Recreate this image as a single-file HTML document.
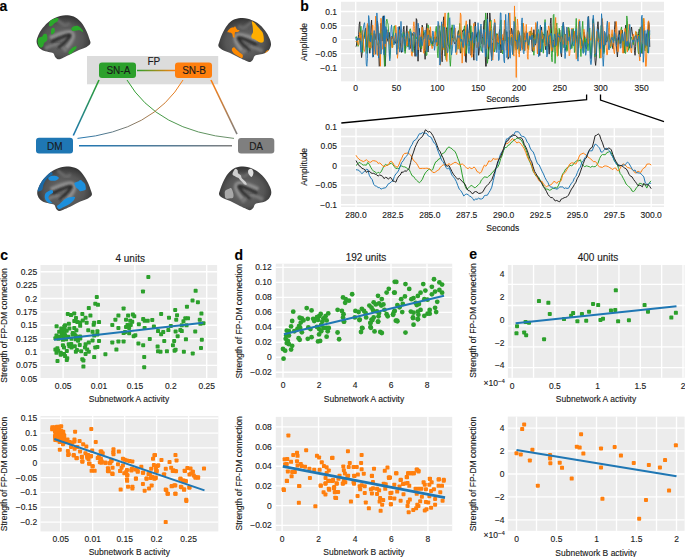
<!DOCTYPE html>
<html><head><meta charset="utf-8"><style>
html,body{margin:0;padding:0;background:#fff;width:685px;height:557px;overflow:hidden}
svg{display:block}
text{font-family:"Liberation Sans", sans-serif;stroke:currentColor;stroke-width:0.12px}
</style></head><body>
<svg width="685" height="557" viewBox="0 0 685 557">
<text x="-0.50" y="10.80" font-size="14" text-anchor="start" font-weight="bold" fill="#000" style="color:#000">a</text>
<defs><linearGradient id="gAD" gradientUnits="userSpaceOnUse" x1="99" y1="80" x2="73" y2="136"><stop offset="0" stop-color="#2ca02c"/><stop offset="1" stop-color="#1f77b4"/></linearGradient><linearGradient id="gBD" gradientUnits="userSpaceOnUse" x1="183" y1="80" x2="77" y2="138"><stop offset="0" stop-color="#ff7f0e"/><stop offset="1" stop-color="#1f77b4"/></linearGradient><linearGradient id="gAA" gradientUnits="userSpaceOnUse" x1="127" y1="80" x2="234" y2="138"><stop offset="0" stop-color="#2ca02c"/><stop offset="1" stop-color="#6f8f6f"/></linearGradient><linearGradient id="gBA" gradientUnits="userSpaceOnUse" x1="211" y1="80" x2="237" y2="134"><stop offset="0" stop-color="#ff7f0e"/><stop offset="1" stop-color="#7f7f7f"/></linearGradient><linearGradient id="gAB" gradientUnits="userSpaceOnUse" x1="137" y1="0" x2="175" y2="0"><stop offset="0" stop-color="#2ca02c"/><stop offset="1" stop-color="#ff7f0e"/></linearGradient><linearGradient id="gDD" gradientUnits="userSpaceOnUse" x1="79" y1="0" x2="232" y2="0"><stop offset="0" stop-color="#1f77b4"/><stop offset="1" stop-color="#7f7f7f"/></linearGradient><radialGradient id="brainG" cx="0.5" cy="0.55" r="0.6"><stop offset="0" stop-color="#6e6e6e"/><stop offset="0.6" stop-color="#555"/><stop offset="1" stop-color="#2a2a2a"/></radialGradient><filter id="bl1" x="-20%" y="-20%" width="140%" height="140%"><feGaussianBlur stdDeviation="0.5"/></filter><filter id="bl2" x="-20%" y="-20%" width="140%" height="140%"><feGaussianBlur stdDeviation="1.2"/></filter><filter id="bl3" x="-20%" y="-20%" width="140%" height="140%"><feGaussianBlur stdDeviation="0.9"/></filter></defs>
<rect x="87" y="56" width="131.2" height="28.3" fill="#dcdcdc"/>
<text x="153.90" y="65.18" font-size="10" text-anchor="middle" font-weight="normal" fill="#1a1a1a" style="color:#1a1a1a">FP</text>
<line x1="137" y1="70.5" x2="175" y2="70.5" stroke="url(#gAB)" stroke-width="1.5"/>
<line x1="99" y1="80" x2="73.3" y2="135.5" stroke="url(#gAD)" stroke-width="1.6"/>
<line x1="211" y1="80" x2="237" y2="134.2" stroke="url(#gBA)" stroke-width="1.6"/>
<path d="M127,80 Q157,131 234,138.4" fill="none" stroke="url(#gAA)" stroke-width="1"/>
<path d="M183,80 Q153,131 77.5,138.4" fill="none" stroke="url(#gBD)" stroke-width="1"/>
<line x1="79" y1="145.7" x2="232" y2="145.7" stroke="url(#gDD)" stroke-width="1.6"/>
<rect x="99" y="62.6" width="37" height="15.4" rx="3" fill="#2ca02c"/>
<rect x="175" y="62.6" width="37" height="15.4" rx="3" fill="#ff7f0e"/>
<rect x="36" y="137.8" width="37" height="15.8" rx="3" fill="#1f77b4"/>
<rect x="238" y="138" width="36.3" height="15.4" rx="3" fill="#7f7f7f"/>
<text x="118.40" y="74.18" font-size="10" text-anchor="middle" font-weight="normal" fill="#1a1a1a" style="color:#1a1a1a">SN-A</text>
<text x="194.10" y="74.18" font-size="10" text-anchor="middle" font-weight="normal" fill="#1a1a1a" style="color:#1a1a1a">SN-B</text>
<text x="54.70" y="149.58" font-size="10" text-anchor="middle" font-weight="normal" fill="#1a1a1a" style="color:#1a1a1a">DM</text>
<text x="256.10" y="149.58" font-size="10" text-anchor="middle" font-weight="normal" fill="#1a1a1a" style="color:#1a1a1a">DA</text>
<clipPath id="cg"><path d="M0.00,26.40 C0.07,28.32 1.02,30.28 2.00,31.70 C2.98,33.12 4.27,34.08 5.90,34.90 C7.53,35.72 10.00,36.10 11.80,36.60 C13.60,37.10 15.55,37.02 16.70,37.90 C17.85,38.78 17.78,40.88 18.70,41.90 C19.62,42.92 20.80,43.97 22.20,44.00 C23.60,44.03 25.08,42.98 27.10,42.10 C29.12,41.22 31.75,39.93 34.30,38.70 C36.85,37.47 39.78,35.87 42.40,34.70 C45.02,33.53 48.12,32.77 50.00,31.70 C51.88,30.63 53.20,29.55 53.70,28.30 C54.20,27.05 53.65,26.30 53.00,24.20 C52.35,22.10 51.18,18.52 49.80,15.70 C48.42,12.88 46.52,9.57 44.70,7.30 C42.88,5.03 41.15,3.32 38.90,2.10 C36.65,0.88 33.75,0.23 31.20,0.00 C28.65,-0.23 26.50,-0.15 23.60,0.70 C20.70,1.55 16.73,3.10 13.80,5.10 C10.87,7.10 8.03,10.18 6.00,12.70 C3.97,15.22 2.60,17.92 1.60,20.20 C0.60,22.48 -0.07,24.48 0.00,26.40Z" transform="translate(36.6,15.3) scale(1,1)"/></clipPath>
<g transform="translate(36.6,15.3) scale(1,1)">
<path d="M0.00,26.40 C0.07,28.32 1.02,30.28 2.00,31.70 C2.98,33.12 4.27,34.08 5.90,34.90 C7.53,35.72 10.00,36.10 11.80,36.60 C13.60,37.10 15.55,37.02 16.70,37.90 C17.85,38.78 17.78,40.88 18.70,41.90 C19.62,42.92 20.80,43.97 22.20,44.00 C23.60,44.03 25.08,42.98 27.10,42.10 C29.12,41.22 31.75,39.93 34.30,38.70 C36.85,37.47 39.78,35.87 42.40,34.70 C45.02,33.53 48.12,32.77 50.00,31.70 C51.88,30.63 53.20,29.55 53.70,28.30 C54.20,27.05 53.65,26.30 53.00,24.20 C52.35,22.10 51.18,18.52 49.80,15.70 C48.42,12.88 46.52,9.57 44.70,7.30 C42.88,5.03 41.15,3.32 38.90,2.10 C36.65,0.88 33.75,0.23 31.20,0.00 C28.65,-0.23 26.50,-0.15 23.60,0.70 C20.70,1.55 16.73,3.10 13.80,5.10 C10.87,7.10 8.03,10.18 6.00,12.70 C3.97,15.22 2.60,17.92 1.60,20.20 C0.60,22.48 -0.07,24.48 0.00,26.40Z" fill="url(#brainG)"/>
<g clip-path="url(#cig)">
<clipPath id="cig"><path d="M0.00,26.40 C0.07,28.32 1.02,30.28 2.00,31.70 C2.98,33.12 4.27,34.08 5.90,34.90 C7.53,35.72 10.00,36.10 11.80,36.60 C13.60,37.10 15.55,37.02 16.70,37.90 C17.85,38.78 17.78,40.88 18.70,41.90 C19.62,42.92 20.80,43.97 22.20,44.00 C23.60,44.03 25.08,42.98 27.10,42.10 C29.12,41.22 31.75,39.93 34.30,38.70 C36.85,37.47 39.78,35.87 42.40,34.70 C45.02,33.53 48.12,32.77 50.00,31.70 C51.88,30.63 53.20,29.55 53.70,28.30 C54.20,27.05 53.65,26.30 53.00,24.20 C52.35,22.10 51.18,18.52 49.80,15.70 C48.42,12.88 46.52,9.57 44.70,7.30 C42.88,5.03 41.15,3.32 38.90,2.10 C36.65,0.88 33.75,0.23 31.20,0.00 C28.65,-0.23 26.50,-0.15 23.60,0.70 C20.70,1.55 16.73,3.10 13.80,5.10 C10.87,7.10 8.03,10.18 6.00,12.70 C3.97,15.22 2.60,17.92 1.60,20.20 C0.60,22.48 -0.07,24.48 0.00,26.40Z"/></clipPath>
<path d="M13.40,22.70 C15.07,22.03 20.07,19.70 23.40,18.70 C26.73,17.70 31.23,16.37 33.40,16.70 C35.57,17.03 36.40,18.87 36.40,20.70 C36.40,22.53 34.57,25.70 33.40,27.70 C32.23,29.70 30.07,31.87 29.40,32.70" fill="none" stroke="#8e8e8e" stroke-width="4" filter="url(#bl2)"/>
<path d="M8.40,33.20 C10.07,32.53 15.57,29.53 18.40,29.20 C21.23,28.87 23.47,30.07 25.40,31.20 C27.33,32.33 29.23,35.20 30.00,36.00" fill="none" stroke="#7a7a7a" stroke-width="3.5" filter="url(#bl2)"/>
<path d="M14.40,26.70 C15.90,26.03 20.57,23.87 23.40,22.70 C26.23,21.53 29.73,20.03 31.40,19.70 C33.07,19.37 34.07,19.37 33.40,20.70 C32.73,22.03 29.40,25.70 27.40,27.70 C25.40,29.70 22.40,31.87 21.40,32.70" fill="none" stroke="#2a2a2a" stroke-width="2.6" filter="url(#bl3)"/>
<path d="M20.00,4.00 C21.33,5.00 25.83,9.33 28.00,10.00 C30.17,10.67 32.17,8.33 33.00,8.00" fill="none" stroke="#6a6a6a" stroke-width="3" filter="url(#bl2)"/>
</g></g>
<g clip-path="url(#cg)">
<path d="M50.40,20.20 C51.25,19.28 52.72,19.13 54.00,18.80 C55.28,18.47 57.50,17.80 58.10,18.20 C58.70,18.60 58.20,20.35 57.60,21.20 C57.00,22.05 55.43,22.53 54.50,23.30 C53.57,24.07 52.85,25.30 52.00,25.80 C51.15,26.30 49.92,26.55 49.40,26.30 C48.88,26.05 48.73,25.32 48.90,24.30 C49.07,23.28 49.55,21.12 50.40,20.20Z" fill="#2aa82a" filter="url(#bl1)"/>
<path d="M51.50,28.90 C52.00,28.05 53.42,27.65 54.00,27.90 C54.58,28.15 55.00,29.55 55.00,30.40 C55.00,31.25 54.50,32.32 54.00,33.00 C53.50,33.68 52.50,34.50 52.00,34.50 C51.50,34.50 51.08,33.93 51.00,33.00 C50.92,32.07 51.00,29.75 51.50,28.90Z" fill="#2aa82a" filter="url(#bl1)"/>
<path d="M43.30,34.50 C43.97,34.07 45.62,33.48 46.30,34.00 C46.98,34.52 47.30,36.48 47.40,37.60 C47.50,38.72 47.42,39.85 46.90,40.70 C46.38,41.55 44.90,41.85 44.30,42.70 C43.70,43.55 43.82,44.95 43.30,45.80 C42.78,46.65 41.97,47.80 41.20,47.80 C40.43,47.80 39.28,46.98 38.70,45.80 C38.12,44.62 37.62,42.07 37.70,40.70 C37.78,39.33 38.43,38.28 39.20,37.60 C39.97,36.92 41.62,37.12 42.30,36.60 C42.98,36.08 42.63,34.93 43.30,34.50Z" fill="#2aa82a" filter="url(#bl1)"/>
<path d="M71.40,28.40 C71.73,27.72 72.88,26.73 73.90,26.30 C74.92,25.87 76.47,25.62 77.50,25.80 C78.53,25.98 79.33,26.80 80.10,27.40 C80.87,28.00 81.60,28.63 82.10,29.40 C82.60,30.17 83.43,31.83 83.10,32.00 C82.77,32.17 81.12,30.67 80.10,30.40 C79.08,30.13 78.03,30.32 77.00,30.40 C75.97,30.48 74.75,30.90 73.90,30.90 C73.05,30.90 72.32,30.82 71.90,30.40 C71.48,29.98 71.07,29.08 71.40,28.40Z" fill="#2aa82a" filter="url(#bl1)"/>
<path d="M68.30,52.90 C68.38,52.03 69.97,50.32 70.90,49.30 C71.83,48.28 72.97,47.30 73.90,46.80 C74.83,46.30 76.15,45.97 76.50,46.30 C76.85,46.63 76.60,47.87 76.00,48.80 C75.40,49.73 73.83,50.95 72.90,51.90 C71.97,52.85 71.17,54.33 70.40,54.50 C69.63,54.67 68.22,53.77 68.30,52.90Z" fill="#2aa82a" filter="url(#bl1)"/>
</g>
<clipPath id="co"><path d="M0.00,26.40 C0.07,28.32 1.02,30.28 2.00,31.70 C2.98,33.12 4.27,34.08 5.90,34.90 C7.53,35.72 10.00,36.10 11.80,36.60 C13.60,37.10 15.55,37.02 16.70,37.90 C17.85,38.78 17.78,40.88 18.70,41.90 C19.62,42.92 20.80,43.97 22.20,44.00 C23.60,44.03 25.08,42.98 27.10,42.10 C29.12,41.22 31.75,39.93 34.30,38.70 C36.85,37.47 39.78,35.87 42.40,34.70 C45.02,33.53 48.12,32.77 50.00,31.70 C51.88,30.63 53.20,29.55 53.70,28.30 C54.20,27.05 53.65,26.30 53.00,24.20 C52.35,22.10 51.18,18.52 49.80,15.70 C48.42,12.88 46.52,9.57 44.70,7.30 C42.88,5.03 41.15,3.32 38.90,2.10 C36.65,0.88 33.75,0.23 31.20,0.00 C28.65,-0.23 26.50,-0.15 23.60,0.70 C20.70,1.55 16.73,3.10 13.80,5.10 C10.87,7.10 8.03,10.18 6.00,12.70 C3.97,15.22 2.60,17.92 1.60,20.20 C0.60,22.48 -0.07,24.48 0.00,26.40Z" transform="translate(218.5,18.0) scale(-0.9776536312849161,1.0) translate(-53.7,0)"/></clipPath>
<g transform="translate(218.5,18.0) scale(-0.9776536312849161,1.0) translate(-53.7,0)">
<path d="M0.00,26.40 C0.07,28.32 1.02,30.28 2.00,31.70 C2.98,33.12 4.27,34.08 5.90,34.90 C7.53,35.72 10.00,36.10 11.80,36.60 C13.60,37.10 15.55,37.02 16.70,37.90 C17.85,38.78 17.78,40.88 18.70,41.90 C19.62,42.92 20.80,43.97 22.20,44.00 C23.60,44.03 25.08,42.98 27.10,42.10 C29.12,41.22 31.75,39.93 34.30,38.70 C36.85,37.47 39.78,35.87 42.40,34.70 C45.02,33.53 48.12,32.77 50.00,31.70 C51.88,30.63 53.20,29.55 53.70,28.30 C54.20,27.05 53.65,26.30 53.00,24.20 C52.35,22.10 51.18,18.52 49.80,15.70 C48.42,12.88 46.52,9.57 44.70,7.30 C42.88,5.03 41.15,3.32 38.90,2.10 C36.65,0.88 33.75,0.23 31.20,0.00 C28.65,-0.23 26.50,-0.15 23.60,0.70 C20.70,1.55 16.73,3.10 13.80,5.10 C10.87,7.10 8.03,10.18 6.00,12.70 C3.97,15.22 2.60,17.92 1.60,20.20 C0.60,22.48 -0.07,24.48 0.00,26.40Z" fill="url(#brainG)"/>
<g clip-path="url(#cio)">
<clipPath id="cio"><path d="M0.00,26.40 C0.07,28.32 1.02,30.28 2.00,31.70 C2.98,33.12 4.27,34.08 5.90,34.90 C7.53,35.72 10.00,36.10 11.80,36.60 C13.60,37.10 15.55,37.02 16.70,37.90 C17.85,38.78 17.78,40.88 18.70,41.90 C19.62,42.92 20.80,43.97 22.20,44.00 C23.60,44.03 25.08,42.98 27.10,42.10 C29.12,41.22 31.75,39.93 34.30,38.70 C36.85,37.47 39.78,35.87 42.40,34.70 C45.02,33.53 48.12,32.77 50.00,31.70 C51.88,30.63 53.20,29.55 53.70,28.30 C54.20,27.05 53.65,26.30 53.00,24.20 C52.35,22.10 51.18,18.52 49.80,15.70 C48.42,12.88 46.52,9.57 44.70,7.30 C42.88,5.03 41.15,3.32 38.90,2.10 C36.65,0.88 33.75,0.23 31.20,0.00 C28.65,-0.23 26.50,-0.15 23.60,0.70 C20.70,1.55 16.73,3.10 13.80,5.10 C10.87,7.10 8.03,10.18 6.00,12.70 C3.97,15.22 2.60,17.92 1.60,20.20 C0.60,22.48 -0.07,24.48 0.00,26.40Z"/></clipPath>
<path d="M13.40,22.70 C15.07,22.03 20.07,19.70 23.40,18.70 C26.73,17.70 31.23,16.37 33.40,16.70 C35.57,17.03 36.40,18.87 36.40,20.70 C36.40,22.53 34.57,25.70 33.40,27.70 C32.23,29.70 30.07,31.87 29.40,32.70" fill="none" stroke="#8e8e8e" stroke-width="4" filter="url(#bl2)"/>
<path d="M8.40,33.20 C10.07,32.53 15.57,29.53 18.40,29.20 C21.23,28.87 23.47,30.07 25.40,31.20 C27.33,32.33 29.23,35.20 30.00,36.00" fill="none" stroke="#7a7a7a" stroke-width="3.5" filter="url(#bl2)"/>
<path d="M14.40,26.70 C15.90,26.03 20.57,23.87 23.40,22.70 C26.23,21.53 29.73,20.03 31.40,19.70 C33.07,19.37 34.07,19.37 33.40,20.70 C32.73,22.03 29.40,25.70 27.40,27.70 C25.40,29.70 22.40,31.87 21.40,32.70" fill="none" stroke="#2a2a2a" stroke-width="2.6" filter="url(#bl3)"/>
<path d="M20.00,4.00 C21.33,5.00 25.83,9.33 28.00,10.00 C30.17,10.67 32.17,8.33 33.00,8.00" fill="none" stroke="#6a6a6a" stroke-width="3" filter="url(#bl2)"/>
</g></g>
<g clip-path="url(#co)">
<path d="M251.90,21.20 C252.33,20.85 254.23,22.52 255.00,23.20 C255.77,23.88 255.65,24.27 256.50,25.30 C257.35,26.33 259.08,28.22 260.10,29.40 C261.12,30.58 262.02,31.22 262.60,32.40 C263.18,33.58 263.43,34.97 263.60,36.50 C263.77,38.03 264.02,40.57 263.60,41.60 C263.18,42.63 262.03,42.70 261.10,42.70 C260.17,42.70 259.02,42.12 258.00,41.60 C256.98,41.08 256.02,40.18 255.00,39.60 C253.98,39.02 252.50,38.78 251.90,38.10 C251.30,37.42 251.23,36.45 251.40,35.50 C251.57,34.55 252.65,33.50 252.90,32.40 C253.15,31.30 252.98,30.08 252.90,28.90 C252.82,27.72 252.57,26.58 252.40,25.30 C252.23,24.02 251.47,21.55 251.90,21.20Z" fill="#ffae00" filter="url(#bl1)"/>
<path d="M227.40,31.90 C227.57,31.22 229.30,29.07 230.40,28.30 C231.50,27.53 233.23,27.63 234.00,27.30 C234.77,26.97 234.48,25.95 235.00,26.30 C235.52,26.65 236.33,28.72 237.10,29.40 C237.87,30.08 239.52,29.98 239.60,30.40 C239.68,30.82 238.37,31.57 237.60,31.90 C236.83,32.23 235.52,31.47 235.00,32.40 C234.48,33.33 234.83,36.73 234.50,37.50 C234.17,38.27 233.42,37.67 233.00,37.00 C232.58,36.33 232.60,34.27 232.00,33.50 C231.40,32.73 230.17,32.67 229.40,32.40 C228.63,32.13 227.23,32.58 227.40,31.90Z" fill="#ff8a00" filter="url(#bl1)"/>
<path d="M232.00,48.80 C232.33,48.22 233.23,47.13 234.00,47.30 C234.77,47.47 235.67,48.95 236.60,49.80 C237.53,50.65 238.58,51.55 239.60,52.40 C240.62,53.25 242.27,53.97 242.70,54.90 C243.13,55.83 242.72,57.65 242.20,58.00 C241.68,58.35 240.62,57.52 239.60,57.00 C238.58,56.48 237.12,55.58 236.10,54.90 C235.08,54.22 234.18,53.58 233.50,52.90 C232.82,52.22 232.25,51.48 232.00,50.80 C231.75,50.12 231.67,49.38 232.00,48.80Z" fill="#ff8a00" filter="url(#bl1)"/>
<path d="M265.00,53.00 C265.00,52.33 267.25,50.33 268.00,50.00 C268.75,49.67 269.50,50.33 269.50,51.00 C269.50,51.67 268.75,53.67 268.00,54.00 C267.25,54.33 265.00,53.67 265.00,53.00Z" fill="#ff8a00" filter="url(#bl1)"/>
</g>
<clipPath id="cb"><path d="M0.00,26.40 C0.07,28.32 1.02,30.28 2.00,31.70 C2.98,33.12 4.27,34.08 5.90,34.90 C7.53,35.72 10.00,36.10 11.80,36.60 C13.60,37.10 15.55,37.02 16.70,37.90 C17.85,38.78 17.78,40.88 18.70,41.90 C19.62,42.92 20.80,43.97 22.20,44.00 C23.60,44.03 25.08,42.98 27.10,42.10 C29.12,41.22 31.75,39.93 34.30,38.70 C36.85,37.47 39.78,35.87 42.40,34.70 C45.02,33.53 48.12,32.77 50.00,31.70 C51.88,30.63 53.20,29.55 53.70,28.30 C54.20,27.05 53.65,26.30 53.00,24.20 C52.35,22.10 51.18,18.52 49.80,15.70 C48.42,12.88 46.52,9.57 44.70,7.30 C42.88,5.03 41.15,3.32 38.90,2.10 C36.65,0.88 33.75,0.23 31.20,0.00 C28.65,-0.23 26.50,-0.15 23.60,0.70 C20.70,1.55 16.73,3.10 13.80,5.10 C10.87,7.10 8.03,10.18 6.00,12.70 C3.97,15.22 2.60,17.92 1.60,20.20 C0.60,22.48 -0.07,24.48 0.00,26.40Z" transform="translate(37.2,166.5) scale(1.0167597765363128,1.0113636363636365)"/></clipPath>
<g transform="translate(37.2,166.5) scale(1.0167597765363128,1.0113636363636365)">
<path d="M0.00,26.40 C0.07,28.32 1.02,30.28 2.00,31.70 C2.98,33.12 4.27,34.08 5.90,34.90 C7.53,35.72 10.00,36.10 11.80,36.60 C13.60,37.10 15.55,37.02 16.70,37.90 C17.85,38.78 17.78,40.88 18.70,41.90 C19.62,42.92 20.80,43.97 22.20,44.00 C23.60,44.03 25.08,42.98 27.10,42.10 C29.12,41.22 31.75,39.93 34.30,38.70 C36.85,37.47 39.78,35.87 42.40,34.70 C45.02,33.53 48.12,32.77 50.00,31.70 C51.88,30.63 53.20,29.55 53.70,28.30 C54.20,27.05 53.65,26.30 53.00,24.20 C52.35,22.10 51.18,18.52 49.80,15.70 C48.42,12.88 46.52,9.57 44.70,7.30 C42.88,5.03 41.15,3.32 38.90,2.10 C36.65,0.88 33.75,0.23 31.20,0.00 C28.65,-0.23 26.50,-0.15 23.60,0.70 C20.70,1.55 16.73,3.10 13.80,5.10 C10.87,7.10 8.03,10.18 6.00,12.70 C3.97,15.22 2.60,17.92 1.60,20.20 C0.60,22.48 -0.07,24.48 0.00,26.40Z" fill="url(#brainG)"/>
<g clip-path="url(#cib)">
<clipPath id="cib"><path d="M0.00,26.40 C0.07,28.32 1.02,30.28 2.00,31.70 C2.98,33.12 4.27,34.08 5.90,34.90 C7.53,35.72 10.00,36.10 11.80,36.60 C13.60,37.10 15.55,37.02 16.70,37.90 C17.85,38.78 17.78,40.88 18.70,41.90 C19.62,42.92 20.80,43.97 22.20,44.00 C23.60,44.03 25.08,42.98 27.10,42.10 C29.12,41.22 31.75,39.93 34.30,38.70 C36.85,37.47 39.78,35.87 42.40,34.70 C45.02,33.53 48.12,32.77 50.00,31.70 C51.88,30.63 53.20,29.55 53.70,28.30 C54.20,27.05 53.65,26.30 53.00,24.20 C52.35,22.10 51.18,18.52 49.80,15.70 C48.42,12.88 46.52,9.57 44.70,7.30 C42.88,5.03 41.15,3.32 38.90,2.10 C36.65,0.88 33.75,0.23 31.20,0.00 C28.65,-0.23 26.50,-0.15 23.60,0.70 C20.70,1.55 16.73,3.10 13.80,5.10 C10.87,7.10 8.03,10.18 6.00,12.70 C3.97,15.22 2.60,17.92 1.60,20.20 C0.60,22.48 -0.07,24.48 0.00,26.40Z"/></clipPath>
<path d="M13.40,22.70 C15.07,22.03 20.07,19.70 23.40,18.70 C26.73,17.70 31.23,16.37 33.40,16.70 C35.57,17.03 36.40,18.87 36.40,20.70 C36.40,22.53 34.57,25.70 33.40,27.70 C32.23,29.70 30.07,31.87 29.40,32.70" fill="none" stroke="#8e8e8e" stroke-width="4" filter="url(#bl2)"/>
<path d="M8.40,33.20 C10.07,32.53 15.57,29.53 18.40,29.20 C21.23,28.87 23.47,30.07 25.40,31.20 C27.33,32.33 29.23,35.20 30.00,36.00" fill="none" stroke="#7a7a7a" stroke-width="3.5" filter="url(#bl2)"/>
<path d="M14.40,26.70 C15.90,26.03 20.57,23.87 23.40,22.70 C26.23,21.53 29.73,20.03 31.40,19.70 C33.07,19.37 34.07,19.37 33.40,20.70 C32.73,22.03 29.40,25.70 27.40,27.70 C25.40,29.70 22.40,31.87 21.40,32.70" fill="none" stroke="#2a2a2a" stroke-width="2.6" filter="url(#bl3)"/>
<path d="M20.00,4.00 C21.33,5.00 25.83,9.33 28.00,10.00 C30.17,10.67 32.17,8.33 33.00,8.00" fill="none" stroke="#6a6a6a" stroke-width="3" filter="url(#bl2)"/>
</g></g>
<g clip-path="url(#cb)">
<path d="M37.50,191.00 C37.00,189.83 38.17,185.25 39.00,183.00 C39.83,180.75 41.08,179.13 42.50,177.50 C43.92,175.87 46.00,174.07 47.50,173.20 C49.00,172.33 50.67,172.08 51.50,172.30 C52.33,172.52 53.00,173.72 52.50,174.50 C52.00,175.28 49.67,176.00 48.50,177.00 C47.33,178.00 46.33,179.25 45.50,180.50 C44.67,181.75 44.08,182.92 43.50,184.50 C42.92,186.08 43.00,188.92 42.00,190.00 C41.00,191.08 38.00,192.17 37.50,191.00Z" fill="#1a68a4" filter="url(#bl1)"/>
<path d="M48.50,177.50 C49.00,176.83 50.75,176.05 52.00,175.80 C53.25,175.55 54.87,175.67 56.00,176.00 C57.13,176.33 58.72,177.08 58.80,177.80 C58.88,178.52 57.63,179.80 56.50,180.30 C55.37,180.80 53.25,180.88 52.00,180.80 C50.75,180.72 49.58,180.35 49.00,179.80 C48.42,179.25 48.00,178.17 48.50,177.50Z" fill="#1e8fdc" filter="url(#bl1)"/>
<path d="M74.50,183.00 C75.00,182.33 76.98,182.02 78.00,181.50 C79.02,180.98 79.75,179.82 80.60,179.90 C81.45,179.98 82.33,181.23 83.10,182.00 C83.87,182.77 84.77,183.23 85.20,184.50 C85.63,185.77 86.05,188.57 85.70,189.60 C85.35,190.63 84.03,190.43 83.10,190.70 C82.17,190.97 80.95,191.47 80.10,191.20 C79.25,190.93 78.68,189.70 78.00,189.10 C77.32,188.50 76.50,188.20 76.00,187.60 C75.50,187.00 75.25,186.27 75.00,185.50 C74.75,184.73 74.00,183.67 74.50,183.00Z" fill="#1e8fdc" filter="url(#bl1)"/>
<path d="M45.30,193.70 C45.90,192.60 47.28,191.80 48.40,191.20 C49.52,190.60 51.23,189.85 52.00,190.10 C52.77,190.35 53.35,191.93 53.00,192.70 C52.65,193.47 50.67,193.85 49.90,194.70 C49.13,195.55 48.32,196.77 48.40,197.80 C48.48,198.83 49.72,200.05 50.40,200.90 C51.08,201.75 52.67,202.57 52.50,202.90 C52.33,203.23 50.42,203.23 49.40,202.90 C48.38,202.57 47.17,201.75 46.40,200.90 C45.63,200.05 44.98,199.00 44.80,197.80 C44.62,196.60 44.70,194.80 45.30,193.70Z" fill="#1e8fdc" filter="url(#bl1)"/>
<path d="M59.60,203.90 C60.53,203.05 61.58,201.83 62.70,200.90 C63.82,199.97 65.10,198.90 66.30,198.30 C67.50,197.70 68.80,197.55 69.90,197.30 C71.00,197.05 72.05,196.80 72.90,196.80 C73.75,196.80 74.83,196.78 75.00,197.30 C75.17,197.82 74.58,198.97 73.90,199.90 C73.22,200.83 71.92,202.05 70.90,202.90 C69.88,203.75 69.00,204.32 67.80,205.00 C66.60,205.68 65.07,206.33 63.70,207.00 C62.33,207.67 60.62,208.83 59.60,209.00 C58.58,209.17 58.02,208.50 57.60,208.00 C57.18,207.50 56.77,206.68 57.10,206.00 C57.43,205.32 58.67,204.75 59.60,203.90Z" fill="#1e8fdc" filter="url(#bl1)"/>
</g>
<clipPath id="cd"><path d="M0.00,26.40 C0.07,28.32 1.02,30.28 2.00,31.70 C2.98,33.12 4.27,34.08 5.90,34.90 C7.53,35.72 10.00,36.10 11.80,36.60 C13.60,37.10 15.55,37.02 16.70,37.90 C17.85,38.78 17.78,40.88 18.70,41.90 C19.62,42.92 20.80,43.97 22.20,44.00 C23.60,44.03 25.08,42.98 27.10,42.10 C29.12,41.22 31.75,39.93 34.30,38.70 C36.85,37.47 39.78,35.87 42.40,34.70 C45.02,33.53 48.12,32.77 50.00,31.70 C51.88,30.63 53.20,29.55 53.70,28.30 C54.20,27.05 53.65,26.30 53.00,24.20 C52.35,22.10 51.18,18.52 49.80,15.70 C48.42,12.88 46.52,9.57 44.70,7.30 C42.88,5.03 41.15,3.32 38.90,2.10 C36.65,0.88 33.75,0.23 31.20,0.00 C28.65,-0.23 26.50,-0.15 23.60,0.70 C20.70,1.55 16.73,3.10 13.80,5.10 C10.87,7.10 8.03,10.18 6.00,12.70 C3.97,15.22 2.60,17.92 1.60,20.20 C0.60,22.48 -0.07,24.48 0.00,26.40Z" transform="translate(219.2,166.6) scale(-0.9702048417132215,0.990909090909091) translate(-53.7,0)"/></clipPath>
<g transform="translate(219.2,166.6) scale(-0.9702048417132215,0.990909090909091) translate(-53.7,0)">
<path d="M0.00,26.40 C0.07,28.32 1.02,30.28 2.00,31.70 C2.98,33.12 4.27,34.08 5.90,34.90 C7.53,35.72 10.00,36.10 11.80,36.60 C13.60,37.10 15.55,37.02 16.70,37.90 C17.85,38.78 17.78,40.88 18.70,41.90 C19.62,42.92 20.80,43.97 22.20,44.00 C23.60,44.03 25.08,42.98 27.10,42.10 C29.12,41.22 31.75,39.93 34.30,38.70 C36.85,37.47 39.78,35.87 42.40,34.70 C45.02,33.53 48.12,32.77 50.00,31.70 C51.88,30.63 53.20,29.55 53.70,28.30 C54.20,27.05 53.65,26.30 53.00,24.20 C52.35,22.10 51.18,18.52 49.80,15.70 C48.42,12.88 46.52,9.57 44.70,7.30 C42.88,5.03 41.15,3.32 38.90,2.10 C36.65,0.88 33.75,0.23 31.20,0.00 C28.65,-0.23 26.50,-0.15 23.60,0.70 C20.70,1.55 16.73,3.10 13.80,5.10 C10.87,7.10 8.03,10.18 6.00,12.70 C3.97,15.22 2.60,17.92 1.60,20.20 C0.60,22.48 -0.07,24.48 0.00,26.40Z" fill="url(#brainG)"/>
<g clip-path="url(#cid)">
<clipPath id="cid"><path d="M0.00,26.40 C0.07,28.32 1.02,30.28 2.00,31.70 C2.98,33.12 4.27,34.08 5.90,34.90 C7.53,35.72 10.00,36.10 11.80,36.60 C13.60,37.10 15.55,37.02 16.70,37.90 C17.85,38.78 17.78,40.88 18.70,41.90 C19.62,42.92 20.80,43.97 22.20,44.00 C23.60,44.03 25.08,42.98 27.10,42.10 C29.12,41.22 31.75,39.93 34.30,38.70 C36.85,37.47 39.78,35.87 42.40,34.70 C45.02,33.53 48.12,32.77 50.00,31.70 C51.88,30.63 53.20,29.55 53.70,28.30 C54.20,27.05 53.65,26.30 53.00,24.20 C52.35,22.10 51.18,18.52 49.80,15.70 C48.42,12.88 46.52,9.57 44.70,7.30 C42.88,5.03 41.15,3.32 38.90,2.10 C36.65,0.88 33.75,0.23 31.20,0.00 C28.65,-0.23 26.50,-0.15 23.60,0.70 C20.70,1.55 16.73,3.10 13.80,5.10 C10.87,7.10 8.03,10.18 6.00,12.70 C3.97,15.22 2.60,17.92 1.60,20.20 C0.60,22.48 -0.07,24.48 0.00,26.40Z"/></clipPath>
<path d="M13.40,22.70 C15.07,22.03 20.07,19.70 23.40,18.70 C26.73,17.70 31.23,16.37 33.40,16.70 C35.57,17.03 36.40,18.87 36.40,20.70 C36.40,22.53 34.57,25.70 33.40,27.70 C32.23,29.70 30.07,31.87 29.40,32.70" fill="none" stroke="#8e8e8e" stroke-width="4" filter="url(#bl2)"/>
<path d="M8.40,33.20 C10.07,32.53 15.57,29.53 18.40,29.20 C21.23,28.87 23.47,30.07 25.40,31.20 C27.33,32.33 29.23,35.20 30.00,36.00" fill="none" stroke="#7a7a7a" stroke-width="3.5" filter="url(#bl2)"/>
<path d="M14.40,26.70 C15.90,26.03 20.57,23.87 23.40,22.70 C26.23,21.53 29.73,20.03 31.40,19.70 C33.07,19.37 34.07,19.37 33.40,20.70 C32.73,22.03 29.40,25.70 27.40,27.70 C25.40,29.70 22.40,31.87 21.40,32.70" fill="none" stroke="#2a2a2a" stroke-width="2.6" filter="url(#bl3)"/>
<path d="M20.00,4.00 C21.33,5.00 25.83,9.33 28.00,10.00 C30.17,10.67 32.17,8.33 33.00,8.00" fill="none" stroke="#6a6a6a" stroke-width="3" filter="url(#bl2)"/>
</g></g>
<g clip-path="url(#cd)">
<path d="M233.50,171.20 C234.00,170.27 234.82,168.87 235.50,168.70 C236.18,168.53 237.17,169.43 237.60,170.20 C238.03,170.97 237.58,172.45 238.10,173.30 C238.62,174.15 240.10,174.53 240.70,175.30 C241.30,176.07 241.20,177.13 241.70,177.90 C242.20,178.67 243.02,179.22 243.70,179.90 C244.38,180.58 245.28,181.23 245.80,182.00 C246.32,182.77 246.98,184.08 246.80,184.50 C246.62,184.92 245.47,184.92 244.70,184.50 C243.93,184.08 242.97,182.77 242.20,182.00 C241.43,181.23 240.70,180.58 240.10,179.90 C239.50,179.22 239.27,178.40 238.60,177.90 C237.93,177.40 236.87,177.25 236.10,176.90 C235.33,176.55 234.60,176.23 234.00,175.80 C233.40,175.37 232.58,175.07 232.50,174.30 C232.42,173.53 233.00,172.13 233.50,171.20Z" fill="#cfcfcf" filter="url(#bl1)"/>
<path d="M248.30,170.20 C248.65,169.43 249.72,168.78 250.40,168.70 C251.08,168.62 251.90,169.10 252.40,169.70 C252.90,170.30 253.32,171.37 253.40,172.30 C253.48,173.23 253.23,174.53 252.90,175.30 C252.57,176.07 251.90,176.82 251.40,176.90 C250.90,176.98 250.42,176.40 249.90,175.80 C249.38,175.20 248.57,174.23 248.30,173.30 C248.03,172.37 247.95,170.97 248.30,170.20Z" fill="#dedede" filter="url(#bl1)"/>
<path d="M225.30,190.70 C225.90,189.93 227.47,189.53 228.40,189.10 C229.33,188.67 230.22,187.83 230.90,188.10 C231.58,188.37 232.07,189.60 232.50,190.70 C232.93,191.80 233.42,193.52 233.50,194.70 C233.58,195.88 233.52,197.20 233.00,197.80 C232.48,198.40 231.33,198.13 230.40,198.30 C229.47,198.47 228.25,198.88 227.40,198.80 C226.55,198.72 225.73,198.65 225.30,197.80 C224.87,196.95 224.80,194.88 224.80,193.70 C224.80,192.52 224.70,191.47 225.30,190.70Z" fill="#a8a8a8" filter="url(#bl1)"/>
</g>
<text x="300.20" y="10.80" font-size="14" text-anchor="start" font-weight="bold" fill="#000" style="color:#000">b</text>
<rect x="341" y="1.8" width="323.00" height="79.50" fill="#ececec"/>
<line x1="341" x2="664" y1="11.54" y2="11.54" stroke="#fff" stroke-width="1.35"/>
<line x1="341" x2="664" y1="25.57" y2="25.57" stroke="#fff" stroke-width="1.35"/>
<line x1="341" x2="664" y1="39.60" y2="39.60" stroke="#fff" stroke-width="1.35"/>
<line x1="341" x2="664" y1="53.63" y2="53.63" stroke="#fff" stroke-width="1.35"/>
<line x1="341" x2="664" y1="67.66" y2="67.66" stroke="#fff" stroke-width="1.35"/>
<line y1="1.8" y2="81.3" x1="355.70" x2="355.70" stroke="#fff" stroke-width="1.35"/>
<line y1="1.8" y2="81.3" x1="396.54" x2="396.54" stroke="#fff" stroke-width="1.35"/>
<line y1="1.8" y2="81.3" x1="437.38" x2="437.38" stroke="#fff" stroke-width="1.35"/>
<line y1="1.8" y2="81.3" x1="478.22" x2="478.22" stroke="#fff" stroke-width="1.35"/>
<line y1="1.8" y2="81.3" x1="519.06" x2="519.06" stroke="#fff" stroke-width="1.35"/>
<line y1="1.8" y2="81.3" x1="559.90" x2="559.90" stroke="#fff" stroke-width="1.35"/>
<line y1="1.8" y2="81.3" x1="600.74" x2="600.74" stroke="#fff" stroke-width="1.35"/>
<line y1="1.8" y2="81.3" x1="641.58" x2="641.58" stroke="#fff" stroke-width="1.35"/>
<text x="337.00" y="14.58" font-size="8.5" text-anchor="end" font-weight="normal" fill="#1a1a1a" style="color:#1a1a1a">0.1</text>
<text x="337.00" y="28.61" font-size="8.5" text-anchor="end" font-weight="normal" fill="#1a1a1a" style="color:#1a1a1a">0.05</text>
<text x="337.00" y="42.64" font-size="8.5" text-anchor="end" font-weight="normal" fill="#1a1a1a" style="color:#1a1a1a">0</text>
<text x="337.00" y="56.67" font-size="8.5" text-anchor="end" font-weight="normal" fill="#1a1a1a" style="color:#1a1a1a">−0.05</text>
<text x="337.00" y="70.70" font-size="8.5" text-anchor="end" font-weight="normal" fill="#1a1a1a" style="color:#1a1a1a">−0.1</text>
<text x="355.70" y="91.14" font-size="8.5" text-anchor="middle" font-weight="normal" fill="#1a1a1a" style="color:#1a1a1a">0</text>
<text x="396.54" y="91.14" font-size="8.5" text-anchor="middle" font-weight="normal" fill="#1a1a1a" style="color:#1a1a1a">50</text>
<text x="437.38" y="91.14" font-size="8.5" text-anchor="middle" font-weight="normal" fill="#1a1a1a" style="color:#1a1a1a">100</text>
<text x="478.22" y="91.14" font-size="8.5" text-anchor="middle" font-weight="normal" fill="#1a1a1a" style="color:#1a1a1a">150</text>
<text x="519.06" y="91.14" font-size="8.5" text-anchor="middle" font-weight="normal" fill="#1a1a1a" style="color:#1a1a1a">200</text>
<text x="559.90" y="91.14" font-size="8.5" text-anchor="middle" font-weight="normal" fill="#1a1a1a" style="color:#1a1a1a">250</text>
<text x="600.74" y="91.14" font-size="8.5" text-anchor="middle" font-weight="normal" fill="#1a1a1a" style="color:#1a1a1a">300</text>
<text x="641.58" y="91.14" font-size="8.5" text-anchor="middle" font-weight="normal" fill="#1a1a1a" style="color:#1a1a1a">350</text>
<text x="502.70" y="101.64" font-size="8.5" text-anchor="middle" font-weight="normal" fill="#1a1a1a" style="color:#1a1a1a">Seconds</text>
<text x="307.44" y="42.00" font-size="8.5" text-anchor="middle" font-weight="normal" fill="#1a1a1a" transform="rotate(-90 307.443 42)" style="color:#1a1a1a">Amplitude</text>
<rect x="341" y="128.2" width="323.00" height="78.80" fill="#ececec"/>
<line x1="341" x2="664" y1="126.70" y2="126.70" stroke="#fff" stroke-width="1.35"/>
<line x1="341" x2="664" y1="136.45" y2="136.45" stroke="#fff" stroke-width="1.35"/>
<line x1="341" x2="664" y1="146.20" y2="146.20" stroke="#fff" stroke-width="1.35"/>
<line x1="341" x2="664" y1="155.95" y2="155.95" stroke="#fff" stroke-width="1.35"/>
<line x1="341" x2="664" y1="165.70" y2="165.70" stroke="#fff" stroke-width="1.35"/>
<line x1="341" x2="664" y1="175.45" y2="175.45" stroke="#fff" stroke-width="1.35"/>
<line x1="341" x2="664" y1="185.20" y2="185.20" stroke="#fff" stroke-width="1.35"/>
<line x1="341" x2="664" y1="194.95" y2="194.95" stroke="#fff" stroke-width="1.35"/>
<line x1="341" x2="664" y1="204.70" y2="204.70" stroke="#fff" stroke-width="1.35"/>
<line y1="128.2" y2="207" x1="356.00" x2="356.00" stroke="#fff" stroke-width="1.35"/>
<line y1="128.2" y2="207" x1="392.90" x2="392.90" stroke="#fff" stroke-width="1.35"/>
<line y1="128.2" y2="207" x1="429.80" x2="429.80" stroke="#fff" stroke-width="1.35"/>
<line y1="128.2" y2="207" x1="466.70" x2="466.70" stroke="#fff" stroke-width="1.35"/>
<line y1="128.2" y2="207" x1="503.60" x2="503.60" stroke="#fff" stroke-width="1.35"/>
<line y1="128.2" y2="207" x1="540.50" x2="540.50" stroke="#fff" stroke-width="1.35"/>
<line y1="128.2" y2="207" x1="577.40" x2="577.40" stroke="#fff" stroke-width="1.35"/>
<line y1="128.2" y2="207" x1="614.30" x2="614.30" stroke="#fff" stroke-width="1.35"/>
<line y1="128.2" y2="207" x1="651.20" x2="651.20" stroke="#fff" stroke-width="1.35"/>
<text x="337.00" y="129.74" font-size="8.5" text-anchor="end" font-weight="normal" fill="#1a1a1a" style="color:#1a1a1a">0.1</text>
<text x="337.00" y="149.24" font-size="8.5" text-anchor="end" font-weight="normal" fill="#1a1a1a" style="color:#1a1a1a">0.05</text>
<text x="337.00" y="168.74" font-size="8.5" text-anchor="end" font-weight="normal" fill="#1a1a1a" style="color:#1a1a1a">0</text>
<text x="337.00" y="188.24" font-size="8.5" text-anchor="end" font-weight="normal" fill="#1a1a1a" style="color:#1a1a1a">−0.05</text>
<text x="337.00" y="207.74" font-size="8.5" text-anchor="end" font-weight="normal" fill="#1a1a1a" style="color:#1a1a1a">−0.1</text>
<text x="356.00" y="217.64" font-size="8.5" text-anchor="middle" font-weight="normal" fill="#1a1a1a" style="color:#1a1a1a">280.0</text>
<text x="392.90" y="217.64" font-size="8.5" text-anchor="middle" font-weight="normal" fill="#1a1a1a" style="color:#1a1a1a">282.5</text>
<text x="429.80" y="217.64" font-size="8.5" text-anchor="middle" font-weight="normal" fill="#1a1a1a" style="color:#1a1a1a">285.0</text>
<text x="466.70" y="217.64" font-size="8.5" text-anchor="middle" font-weight="normal" fill="#1a1a1a" style="color:#1a1a1a">287.5</text>
<text x="503.60" y="217.64" font-size="8.5" text-anchor="middle" font-weight="normal" fill="#1a1a1a" style="color:#1a1a1a">290.0</text>
<text x="540.50" y="217.64" font-size="8.5" text-anchor="middle" font-weight="normal" fill="#1a1a1a" style="color:#1a1a1a">292.5</text>
<text x="577.40" y="217.64" font-size="8.5" text-anchor="middle" font-weight="normal" fill="#1a1a1a" style="color:#1a1a1a">295.0</text>
<text x="614.30" y="217.64" font-size="8.5" text-anchor="middle" font-weight="normal" fill="#1a1a1a" style="color:#1a1a1a">297.5</text>
<text x="651.20" y="217.64" font-size="8.5" text-anchor="middle" font-weight="normal" fill="#1a1a1a" style="color:#1a1a1a">300.0</text>
<text x="502.80" y="231.24" font-size="8.5" text-anchor="middle" font-weight="normal" fill="#1a1a1a" style="color:#1a1a1a">Seconds</text>
<text x="307.44" y="166.80" font-size="8.5" text-anchor="middle" font-weight="normal" fill="#1a1a1a" transform="rotate(-90 307.443 166.8)" style="color:#1a1a1a">Amplitude</text>
<path d="M341.3,123 L586.6,99.6 L586.6,94.6" fill="none" stroke="#000" stroke-width="1.3"/>
<path d="M600.5,94.6 L600.5,100 L664,121.6" fill="none" stroke="#000" stroke-width="1.3"/>
<clipPath id="zclip"><rect x="341" y="128.2" width="323" height="78.80000000000001"/></clipPath>
<g clip-path="url(#zclip)" fill="none" stroke-width="1" stroke-linejoin="round">
<path d="M356.00,165.42 L357.48,164.30 L358.95,162.48 L360.43,162.85 L361.90,164.36 L363.38,165.08 L364.86,164.92 L366.33,165.23 L367.81,162.45 L369.28,164.27 L370.76,167.31 L372.24,169.64 L373.71,171.35 L375.19,171.78 L376.66,173.65 L378.14,172.18 L379.62,173.09 L381.09,171.90 L382.57,168.85 L384.04,165.82 L385.52,164.33 L387.00,165.36 L388.47,164.62 L389.95,163.79 L391.42,163.19 L392.90,164.39 L394.38,166.70 L395.85,168.57 L397.33,168.25 L398.80,168.60 L400.28,166.28 L401.76,165.88 L403.23,166.75 L404.71,166.86 L406.18,167.61 L407.66,168.76 L409.14,169.34 L410.61,172.63 L412.09,175.78 L413.56,176.38 L415.04,178.60 L416.52,180.22 L417.99,181.55 L419.47,182.72 L420.94,181.19 L422.42,179.18 L423.90,175.51 L425.37,172.87 L426.85,171.13 L428.32,169.72 L429.80,169.01 L431.28,170.40 L432.75,169.54 L434.23,165.10 L435.70,161.83 L437.18,161.09 L438.66,159.03 L440.13,158.58 L441.61,154.26 L443.08,153.30 L444.56,152.58 L446.04,150.17 L447.51,147.90 L448.99,146.95 L450.46,147.85 L451.94,148.68 L453.42,150.43 L454.89,151.25 L456.37,154.20 L457.84,158.44 L459.32,162.04 L460.80,167.32 L462.27,174.98 L463.75,181.87 L465.22,186.41 L466.70,189.44 L468.18,188.08 L469.65,186.77 L471.13,185.46 L472.60,185.95 L474.08,187.68 L475.56,187.52 L477.03,186.02 L478.51,184.72 L479.98,183.26 L481.46,179.88 L482.94,178.65 L484.41,176.78 L485.89,177.13 L487.36,177.41 L488.84,175.98 L490.32,175.13 L491.79,172.79 L493.27,171.79 L494.74,169.63 L496.22,167.86 L497.70,167.24 L499.17,164.19 L500.65,158.74 L502.12,155.63 L503.60,150.44 L505.08,147.53 L506.55,147.46 L508.03,145.29 L509.50,144.86 L510.98,142.59 L512.46,141.74 L513.93,139.79 L515.41,139.50 L516.88,138.05 L518.36,138.32 L519.84,139.18 L521.31,140.10 L522.79,142.77 L524.26,146.21 L525.74,149.21 L527.22,153.19 L528.69,159.18 L530.17,162.67 L531.64,166.21 L533.12,171.26 L534.60,173.38 L536.07,176.30 L537.55,176.04 L539.02,177.73 L540.50,180.79 L541.98,182.54 L543.45,186.15 L544.93,187.62 L546.40,189.00 L547.88,189.26 L549.36,190.28 L550.83,189.79 L552.31,188.58 L553.78,188.31 L555.26,187.40 L556.74,188.16 L558.21,185.89 L559.69,182.36 L561.16,177.97 L562.64,173.98 L564.12,172.09 L565.59,169.12 L567.07,167.79 L568.54,167.05 L570.02,165.25 L571.50,165.75 L572.97,164.92 L574.45,162.57 L575.92,161.46 L577.40,160.32 L578.88,160.99 L580.35,159.73 L581.83,163.58 L583.30,165.57 L584.78,166.71 L586.26,165.82 L587.73,166.22 L589.21,166.62 L590.68,167.36 L592.16,166.22 L593.64,166.72 L595.11,166.63 L596.59,165.47 L598.06,163.08 L599.54,158.64 L601.02,155.71 L602.49,154.55 L603.97,154.72 L605.44,154.68 L606.92,152.52 L608.40,152.11 L609.87,151.23 L611.35,153.03 L612.82,156.76 L614.30,160.71 L615.78,162.40 L617.25,164.85 L618.73,168.60 L620.20,173.68 L621.68,175.29 L623.16,178.22 L624.63,180.87 L626.11,184.12 L627.58,185.40 L629.06,186.87 L630.54,188.07 L632.01,191.00 L633.49,191.54 L634.96,190.33 L636.44,187.58 L637.92,186.39 L639.39,183.31 L640.87,183.50 L642.34,184.24 L643.82,184.45 L645.30,185.14 L646.77,188.08 L648.25,184.99 L649.72,182.17 L651.20,180.89" stroke="#2ca02c"/>
<path d="M356.00,155.26 L357.48,157.61 L358.95,159.11 L360.43,160.21 L361.90,160.85 L363.38,161.58 L364.86,160.79 L366.33,159.75 L367.81,161.07 L369.28,162.08 L370.76,162.28 L372.24,160.84 L373.71,160.67 L375.19,161.02 L376.66,161.42 L378.14,163.43 L379.62,162.93 L381.09,163.97 L382.57,165.84 L384.04,166.58 L385.52,166.04 L387.00,165.26 L388.47,164.83 L389.95,161.81 L391.42,161.17 L392.90,162.89 L394.38,165.67 L395.85,166.40 L397.33,167.37 L398.80,165.05 L400.28,161.26 L401.76,158.23 L403.23,154.73 L404.71,153.42 L406.18,153.33 L407.66,152.95 L409.14,153.84 L410.61,155.05 L412.09,157.81 L413.56,160.58 L415.04,161.60 L416.52,163.42 L417.99,165.84 L419.47,168.53 L420.94,168.46 L422.42,168.33 L423.90,168.40 L425.37,168.34 L426.85,168.21 L428.32,168.50 L429.80,169.11 L431.28,170.76 L432.75,172.31 L434.23,172.65 L435.70,171.84 L437.18,170.68 L438.66,169.97 L440.13,167.69 L441.61,165.94 L443.08,164.91 L444.56,164.76 L446.04,164.73 L447.51,165.16 L448.99,163.41 L450.46,165.11 L451.94,164.07 L453.42,163.26 L454.89,162.25 L456.37,162.61 L457.84,163.81 L459.32,164.62 L460.80,164.41 L462.27,163.97 L463.75,165.00 L465.22,166.53 L466.70,168.17 L468.18,168.53 L469.65,167.42 L471.13,168.57 L472.60,168.37 L474.08,166.90 L475.56,168.58 L477.03,171.54 L478.51,172.26 L479.98,173.38 L481.46,171.81 L482.94,168.10 L484.41,165.08 L485.89,166.29 L487.36,164.04 L488.84,160.82 L490.32,161.46 L491.79,160.87 L493.27,158.35 L494.74,159.21 L496.22,159.15 L497.70,158.94 L499.17,159.26 L500.65,155.44 L502.12,152.20 L503.60,148.23 L505.08,144.75 L506.55,143.54 L508.03,143.31 L509.50,141.65 L510.98,140.18 L512.46,138.53 L513.93,140.16 L515.41,141.27 L516.88,143.03 L518.36,142.13 L519.84,142.70 L521.31,144.33 L522.79,146.55 L524.26,148.84 L525.74,152.40 L527.22,156.59 L528.69,159.71 L530.17,161.55 L531.64,165.20 L533.12,169.88 L534.60,173.79 L536.07,175.34 L537.55,178.10 L539.02,180.81 L540.50,181.46 L541.98,181.28 L543.45,184.15 L544.93,185.32 L546.40,186.86 L547.88,185.87 L549.36,185.56 L550.83,184.69 L552.31,183.67 L553.78,181.44 L555.26,181.77 L556.74,183.40 L558.21,181.45 L559.69,181.60 L561.16,180.63 L562.64,175.00 L564.12,173.49 L565.59,171.84 L567.07,169.18 L568.54,166.08 L570.02,163.82 L571.50,162.87 L572.97,162.92 L574.45,163.58 L575.92,164.11 L577.40,161.38 L578.88,157.05 L580.35,154.40 L581.83,153.86 L583.30,153.11 L584.78,154.16 L586.26,155.23 L587.73,156.83 L589.21,157.84 L590.68,158.95 L592.16,160.40 L593.64,161.71 L595.11,161.52 L596.59,162.59 L598.06,165.59 L599.54,166.75 L601.02,167.16 L602.49,167.39 L603.97,166.14 L605.44,165.90 L606.92,166.15 L608.40,166.72 L609.87,167.74 L611.35,168.58 L612.82,169.64 L614.30,168.01 L615.78,168.10 L617.25,170.59 L618.73,170.71 L620.20,168.50 L621.68,165.27 L623.16,163.80 L624.63,164.53 L626.11,166.04 L627.58,167.46 L629.06,167.86 L630.54,168.43 L632.01,169.13 L633.49,170.52 L634.96,172.82 L636.44,172.94 L637.92,171.09 L639.39,171.87 L640.87,172.42 L642.34,169.63 L643.82,167.95 L645.30,167.22 L646.77,164.29 L648.25,163.96 L649.72,164.06 L651.20,165.03" stroke="#ff7f0e"/>
<path d="M356.00,169.73 L357.48,169.93 L358.95,170.31 L360.43,172.15 L361.90,173.60 L363.38,172.54 L364.86,170.75 L366.33,169.36 L367.81,169.55 L369.28,175.28 L370.76,177.92 L372.24,179.72 L373.71,184.24 L375.19,185.95 L376.66,186.29 L378.14,187.56 L379.62,187.69 L381.09,189.15 L382.57,188.45 L384.04,188.00 L385.52,187.88 L387.00,185.95 L388.47,183.68 L389.95,183.13 L391.42,181.59 L392.90,181.01 L394.38,176.49 L395.85,173.79 L397.33,172.59 L398.80,170.03 L400.28,166.04 L401.76,162.41 L403.23,160.77 L404.71,157.96 L406.18,156.48 L407.66,154.64 L409.14,150.20 L410.61,146.74 L412.09,144.54 L413.56,141.05 L415.04,140.14 L416.52,138.98 L417.99,136.15 L419.47,133.70 L420.94,133.86 L422.42,132.53 L423.90,133.45 L425.37,133.17 L426.85,133.62 L428.32,135.99 L429.80,136.68 L431.28,137.47 L432.75,140.69 L434.23,143.09 L435.70,144.21 L437.18,148.70 L438.66,152.80 L440.13,156.01 L441.61,160.19 L443.08,161.79 L444.56,164.54 L446.04,167.43 L447.51,169.13 L448.99,167.64 L450.46,171.24 L451.94,175.14 L453.42,176.82 L454.89,178.77 L456.37,181.66 L457.84,185.61 L459.32,189.22 L460.80,190.64 L462.27,193.07 L463.75,195.96 L465.22,194.64 L466.70,193.98 L468.18,194.79 L469.65,196.09 L471.13,196.72 L472.60,198.44 L474.08,200.45 L475.56,198.85 L477.03,199.38 L478.51,198.17 L479.98,198.97 L481.46,199.01 L482.94,198.30 L484.41,195.57 L485.89,195.25 L487.36,195.23 L488.84,192.63 L490.32,190.33 L491.79,187.17 L493.27,180.62 L494.74,174.21 L496.22,167.54 L497.70,164.08 L499.17,158.22 L500.65,153.68 L502.12,151.50 L503.60,149.80 L505.08,143.32 L506.55,138.90 L508.03,138.94 L509.50,136.76 L510.98,136.19 L512.46,136.40 L513.93,134.37 L515.41,131.66 L516.88,131.84 L518.36,131.71 L519.84,133.62 L521.31,136.04 L522.79,136.47 L524.26,136.75 L525.74,138.70 L527.22,142.21 L528.69,143.69 L530.17,148.06 L531.64,150.63 L533.12,151.73 L534.60,155.41 L536.07,160.08 L537.55,163.80 L539.02,164.65 L540.50,167.86 L541.98,171.12 L543.45,173.89 L544.93,177.47 L546.40,180.27 L547.88,182.40 L549.36,185.91 L550.83,187.06 L552.31,187.20 L553.78,188.27 L555.26,188.62 L556.74,189.17 L558.21,188.57 L559.69,186.82 L561.16,186.98 L562.64,186.78 L564.12,188.57 L565.59,187.91 L567.07,188.41 L568.54,188.23 L570.02,185.56 L571.50,183.21 L572.97,181.51 L574.45,177.83 L575.92,176.39 L577.40,172.53 L578.88,168.88 L580.35,167.16 L581.83,162.56 L583.30,160.70 L584.78,157.90 L586.26,156.24 L587.73,153.22 L589.21,150.60 L590.68,150.86 L592.16,150.77 L593.64,147.17 L595.11,144.13 L596.59,144.75 L598.06,146.54 L599.54,148.04 L601.02,152.08 L602.49,151.89 L603.97,150.42 L605.44,148.44 L606.92,148.34 L608.40,150.07 L609.87,151.48 L611.35,154.86 L612.82,157.02 L614.30,160.30 L615.78,163.30 L617.25,164.99 L618.73,164.67 L620.20,165.59 L621.68,165.46 L623.16,164.92 L624.63,165.22 L626.11,163.46 L627.58,162.09 L629.06,163.61 L630.54,166.15 L632.01,168.98 L633.49,170.88 L634.96,169.94 L636.44,172.63 L637.92,172.82 L639.39,173.05 L640.87,173.71 L642.34,175.13 L643.82,176.92 L645.30,182.92 L646.77,184.22 L648.25,184.22 L649.72,183.10 L651.20,183.24" stroke="#1f77b4"/>
<path d="M356.00,160.51 L357.48,163.30 L358.95,165.67 L360.43,166.38 L361.90,168.40 L363.38,168.81 L364.86,169.71 L366.33,172.33 L367.81,171.40 L369.28,171.06 L370.76,172.75 L372.24,173.40 L373.71,173.30 L375.19,174.19 L376.66,174.80 L378.14,176.09 L379.62,174.97 L381.09,175.45 L382.57,176.29 L384.04,178.61 L385.52,177.32 L387.00,177.80 L388.47,179.20 L389.95,177.38 L391.42,178.18 L392.90,181.14 L394.38,181.33 L395.85,182.20 L397.33,178.45 L398.80,176.09 L400.28,175.03 L401.76,171.97 L403.23,172.36 L404.71,170.72 L406.18,171.30 L407.66,170.05 L409.14,168.41 L410.61,162.44 L412.09,156.04 L413.56,152.11 L415.04,147.37 L416.52,144.25 L417.99,141.11 L419.47,139.13 L420.94,137.75 L422.42,136.59 L423.90,133.45 L425.37,129.84 L426.85,130.66 L428.32,132.14 L429.80,131.42 L431.28,133.10 L432.75,135.38 L434.23,138.37 L435.70,141.99 L437.18,145.57 L438.66,149.65 L440.13,151.57 L441.61,155.11 L443.08,157.95 L444.56,161.87 L446.04,165.68 L447.51,166.23 L448.99,165.52 L450.46,168.36 L451.94,171.65 L453.42,174.18 L454.89,176.23 L456.37,177.60 L457.84,179.41 L459.32,178.39 L460.80,179.87 L462.27,181.60 L463.75,182.68 L465.22,184.58 L466.70,188.34 L468.18,190.52 L469.65,190.95 L471.13,192.23 L472.60,194.05 L474.08,192.10 L475.56,191.50 L477.03,192.01 L478.51,193.35 L479.98,193.36 L481.46,192.80 L482.94,191.77 L484.41,189.03 L485.89,186.45 L487.36,185.36 L488.84,183.71 L490.32,181.54 L491.79,179.77 L493.27,175.75 L494.74,171.82 L496.22,167.27 L497.70,161.81 L499.17,158.94 L500.65,156.83 L502.12,152.97 L503.60,148.73 L505.08,144.35 L506.55,141.20 L508.03,140.75 L509.50,138.21 L510.98,136.65 L512.46,134.74 L513.93,135.38 L515.41,135.19 L516.88,136.86 L518.36,137.85 L519.84,137.75 L521.31,137.78 L522.79,139.96 L524.26,144.40 L525.74,147.04 L527.22,150.33 L528.69,154.73 L530.17,159.34 L531.64,161.58 L533.12,166.76 L534.60,171.39 L536.07,173.69 L537.55,176.55 L539.02,179.20 L540.50,181.34 L541.98,183.88 L543.45,186.70 L544.93,188.82 L546.40,191.27 L547.88,194.39 L549.36,196.28 L550.83,197.60 L552.31,197.60 L553.78,199.00 L555.26,201.01 L556.74,200.40 L558.21,201.26 L559.69,201.81 L561.16,199.17 L562.64,198.60 L564.12,197.74 L565.59,197.37 L567.07,196.68 L568.54,195.09 L570.02,191.95 L571.50,189.08 L572.97,187.09 L574.45,184.40 L575.92,182.28 L577.40,178.21 L578.88,175.90 L580.35,171.88 L581.83,167.57 L583.30,163.64 L584.78,159.35 L586.26,158.04 L587.73,154.12 L589.21,150.33 L590.68,148.11 L592.16,147.47 L593.64,142.01 L595.11,135.73 L596.59,135.32 L598.06,133.82 L599.54,134.88 L601.02,139.44 L602.49,142.88 L603.97,147.47 L605.44,149.35 L606.92,149.33 L608.40,148.13 L609.87,148.34 L611.35,149.94 L612.82,154.34 L614.30,158.21 L615.78,161.18 L617.25,163.34 L618.73,166.22 L620.20,165.53 L621.68,165.61 L623.16,166.83 L624.63,168.00 L626.11,168.74 L627.58,171.04 L629.06,174.29 L630.54,176.24 L632.01,176.77 L633.49,179.36 L634.96,181.27 L636.44,183.26 L637.92,185.61 L639.39,185.19 L640.87,185.62 L642.34,186.87 L643.82,183.25 L645.30,184.79 L646.77,184.85 L648.25,184.78 L649.72,186.40 L651.20,188.72" stroke="#222222"/>
</g>
<clipPath id="tclip"><rect x="341" y="1.8" width="323" height="79.5"/></clipPath>
<g clip-path="url(#tclip)" fill="none" stroke-width="0.9" stroke-linejoin="round">
<path d="M355.70,46.61 L356.29,46.30 L356.88,41.13 L357.46,38.78 L358.05,39.18 L358.64,34.38 L359.23,24.56 L359.82,21.78 L360.40,33.40 L360.99,50.36 L361.58,57.57 L362.17,53.07 L362.76,44.70 L363.35,39.87 L363.93,38.67 L364.52,35.89 L365.11,30.09 L365.70,28.30 L366.29,36.39 L366.87,47.13 L367.46,47.25 L368.05,37.41 L368.64,33.78 L369.23,44.02 L369.81,53.28 L370.40,44.76 L370.99,25.90 L371.58,20.11 L372.17,35.11 L372.75,53.60 L373.34,56.73 L373.93,45.50 L374.52,34.70 L375.11,33.80 L375.70,39.04 L376.28,39.92 L376.87,31.11 L377.46,21.01 L378.05,26.11 L378.64,49.86 L379.22,66.26 L379.81,65.32 L380.40,39.07 L380.99,23.25 L381.58,31.33 L382.16,41.10 L382.75,31.01 L383.34,15.84 L383.93,24.59 L384.52,53.77 L385.10,66.26 L385.69,55.52 L386.28,33.74 L386.87,29.67 L387.46,38.83 L388.05,41.45 L388.63,34.77 L389.22,32.44 L389.81,39.43 L390.40,45.43 L390.99,42.90 L391.57,37.24 L392.16,35.91 L392.75,37.94 L393.34,39.15 L393.93,39.89 L394.51,42.02 L395.10,43.48 L395.69,41.89 L396.28,39.38 L396.87,40.32 L397.45,42.92 L398.04,40.27 L398.63,31.72 L399.22,26.39 L399.81,31.32 L400.40,42.15 L400.98,50.13 L401.57,52.40 L402.16,49.69 L402.75,40.98 L403.34,29.30 L403.92,26.24 L404.51,38.00 L405.10,51.23 L405.69,47.79 L406.28,31.93 L406.86,25.71 L407.45,36.22 L408.04,46.27 L408.63,43.47 L409.22,38.35 L409.80,42.67 L410.39,48.46 L410.98,43.94 L411.57,34.99 L412.16,33.20 L412.75,35.50 L413.33,34.41 L413.92,36.58 L414.51,48.85 L415.10,56.38 L415.69,41.51 L416.27,18.61 L416.86,20.01 L417.45,46.15 L418.04,61.24 L418.63,46.70 L419.21,28.26 L419.80,33.74 L420.39,51.12 L420.98,51.95 L421.57,35.94 L422.15,25.14 L422.74,27.31 L423.33,32.59 L423.92,38.56 L424.51,50.38 L425.10,59.33 L425.68,49.77 L426.27,28.99 L426.86,23.41 L427.45,39.20 L428.04,51.98 L428.62,44.50 L429.21,30.84 L429.80,30.42 L430.39,39.14 L430.98,42.49 L431.56,40.42 L432.15,41.42 L432.74,44.18 L433.33,42.11 L433.92,37.70 L434.50,37.48 L435.09,39.48 L435.68,38.40 L436.27,36.76 L436.86,40.36 L437.45,45.94 L438.03,44.74 L438.62,37.02 L439.21,31.27 L439.80,30.68 L440.39,33.13 L440.97,41.12 L441.56,55.38 L442.15,61.79 L442.74,45.79 L443.33,20.57 L443.91,16.75 L444.50,38.80 L445.09,56.06 L445.68,47.26 L446.27,29.39 L446.85,27.59 L447.44,38.97 L448.03,45.62 L448.62,45.36 L449.21,47.12 L449.80,48.69 L450.38,41.56 L450.97,30.33 L451.56,27.71 L452.15,34.42 L452.74,40.08 L453.32,40.72 L453.91,41.28 L454.50,43.51 L455.09,43.97 L455.68,42.32 L456.26,41.63 L456.85,41.13 L457.44,37.37 L458.03,31.89 L458.62,30.56 L459.20,36.06 L459.79,46.21 L460.38,53.22 L460.97,51.23 L461.56,41.75 L462.15,32.81 L462.73,30.43 L463.32,31.08 L463.91,28.99 L464.50,29.69 L465.09,43.25 L465.67,61.72 L466.26,62.37 L466.85,42.19 L467.44,27.53 L468.03,34.19 L468.61,41.90 L469.20,30.90 L469.79,19.52 L470.38,32.89 L470.97,55.22 L471.55,53.22 L472.14,33.67 L472.73,32.74 L473.32,53.39 L473.91,60.21 L474.50,39.97 L475.08,21.95 L475.67,27.02 L476.26,37.63 L476.85,35.48 L477.44,32.50 L478.02,43.00 L478.61,55.31 L479.20,51.85 L479.79,36.64 L480.38,31.45 L480.96,39.40 L481.55,43.70 L482.14,39.53 L482.73,36.32 L483.32,32.26 L483.90,21.22 L484.49,20.20 L485.08,48.32 L485.67,66.26 L486.26,66.26 L486.85,27.82 L487.43,12.94 L488.02,37.88 L488.61,59.00 L489.20,37.56 L489.79,12.94 L490.37,20.64 L490.96,50.75 L491.55,57.20 L492.14,44.06 L492.73,42.97 L493.31,51.50 L493.90,44.04 L494.49,25.90 L495.08,25.58 L495.67,42.56 L496.25,48.82 L496.84,38.50 L497.43,33.80 L498.02,41.49 L498.61,42.99 L499.20,32.59 L499.78,29.46 L500.37,42.29 L500.96,53.01 L501.55,48.26 L502.14,38.50 L502.72,38.30 L503.31,41.25 L503.90,35.66 L504.49,29.22 L505.08,33.76 L505.66,40.62 L506.25,36.65 L506.84,31.74 L507.43,42.50 L508.02,59.22 L508.60,58.30 L509.19,41.03 L509.78,30.49 L510.37,33.29 L510.96,34.08 L511.55,28.27 L512.13,30.38 L512.72,44.19 L513.31,51.95 L513.90,43.35 L514.49,32.76 L515.07,35.72 L515.66,46.34 L516.25,50.15 L516.84,45.14 L517.43,38.46 L518.01,33.50 L518.60,30.78 L519.19,32.41 L519.78,38.12 L520.37,41.55 L520.95,40.44 L521.54,41.50 L522.13,47.44 L522.72,49.07 L523.31,40.69 L523.90,32.62 L524.48,35.46 L525.07,41.81 L525.66,38.93 L526.25,31.41 L526.84,33.32 L527.42,43.69 L528.01,48.58 L528.60,44.24 L529.19,39.68 L529.78,37.97 L530.36,34.10 L530.95,31.04 L531.54,38.09 L532.13,50.60 L532.72,51.60 L533.30,38.58 L533.89,29.70 L534.48,35.96 L535.07,45.20 L535.66,43.39 L536.25,35.27 L536.83,32.25 L537.42,34.13 L538.01,36.00 L538.60,40.78 L539.19,50.63 L539.77,55.58 L540.36,46.16 L540.95,30.97 L541.54,26.98 L542.13,35.73 L542.71,42.92 L543.30,40.11 L543.89,33.91 L544.48,35.06 L545.07,43.41 L545.66,49.66 L546.24,47.13 L546.83,37.86 L547.42,30.69 L548.01,34.33 L548.60,47.09 L549.18,54.17 L549.77,43.35 L550.36,23.73 L550.95,17.99 L551.54,33.11 L552.12,50.57 L552.71,52.01 L553.30,42.78 L553.89,39.86 L554.48,45.49 L555.06,46.68 L555.65,37.50 L556.24,28.17 L556.83,29.94 L557.42,40.09 L558.01,46.43 L558.59,42.10 L559.18,32.77 L559.77,30.24 L560.36,39.75 L560.95,53.27 L561.53,56.95 L562.12,45.99 L562.71,30.03 L563.30,22.37 L563.89,26.94 L564.47,37.60 L565.06,46.63 L565.65,50.38 L566.24,48.93 L566.83,44.25 L567.41,38.68 L568.00,33.64 L568.59,30.34 L569.18,30.94 L569.77,36.44 L570.36,43.46 L570.94,46.83 L571.53,45.96 L572.12,44.40 L572.71,42.79 L573.30,38.33 L573.88,32.54 L574.47,32.17 L575.06,38.45 L575.65,42.86 L576.24,39.63 L576.82,35.44 L577.41,39.35 L578.00,47.63 L578.59,47.99 L579.18,39.06 L579.76,32.73 L580.35,35.16 L580.94,38.90 L581.53,38.78 L582.12,41.09 L582.71,48.06 L583.29,47.46 L583.88,32.05 L584.47,37.47 L585.06,43.70 L585.65,46.91 L586.23,48.79 L586.82,46.62 L587.41,38.11 L588.00,19.49 L588.59,16.47 L589.17,32.80 L589.76,44.97 L590.35,51.66 L590.94,58.59 L591.53,56.01 L592.11,42.70 L592.70,22.88 L593.29,18.61 L593.88,28.54 L594.47,47.79 L595.06,60.79 L595.64,65.42 L596.23,58.94 L596.82,44.04 L597.41,26.85 L598.00,21.70 L598.58,30.16 L599.17,40.24 L599.76,49.43 L600.35,52.45 L600.94,44.95 L601.52,27.33 L602.11,18.87 L602.70,28.29 L603.29,44.94 L603.88,52.06 L604.46,46.66 L605.05,39.34 L605.64,38.22 L606.23,41.07 L606.82,42.18 L607.41,39.92 L607.99,36.28 L608.58,33.77 L609.17,34.18 L609.76,37.70 L610.35,41.52 L610.93,42.38 L611.52,41.60 L612.11,43.52 L612.70,48.12 L613.29,49.08 L613.87,41.55 L614.46,29.28 L615.05,21.56 L615.64,24.72 L616.23,37.41 L616.81,51.51 L617.40,57.01 L617.99,49.73 L618.58,36.71 L619.17,30.50 L619.76,35.60 L620.34,43.39 L620.93,43.15 L621.52,35.31 L622.11,30.04 L622.70,34.63 L623.28,45.70 L623.87,53.00 L624.46,48.91 L625.05,35.80 L625.64,25.26 L626.22,27.32 L626.81,38.92 L627.40,47.10 L627.99,45.74 L628.58,42.59 L629.16,45.28 L629.75,48.24 L630.34,42.22 L630.93,31.07 L631.52,27.01 L632.11,31.83 L632.69,35.87 L633.28,36.03 L633.87,40.36 L634.46,50.72 L635.05,55.32 L635.63,46.68 L636.22,35.22 L636.81,34.14 L637.40,39.96 L637.99,40.14 L638.57,33.35 L639.16,29.19 L639.75,32.07 L640.34,38.04 L640.93,44.74 L641.51,51.98 L642.10,53.54 L642.69,43.12 L643.28,28.98 L643.87,27.91 L644.46,40.41 L645.04,47.82 L645.63,40.79 L646.22,33.78 L646.81,39.68 L647.40,46.36 L647.98,37.02 L648.57,21.48 L649.16,24.45 L649.75,46.93" stroke="#222222"/>
<path d="M355.70,37.65 L356.29,36.59 L356.88,38.92 L357.46,43.88 L358.05,46.42 L358.64,45.14 L359.23,42.54 L359.82,37.73 L360.40,29.52 L360.99,26.23 L361.58,35.79 L362.17,49.75 L362.76,52.51 L363.35,43.29 L363.93,35.41 L364.52,33.98 L365.11,32.38 L365.70,31.28 L366.29,39.89 L366.87,53.54 L367.46,53.10 L368.05,36.04 L368.64,25.59 L369.23,35.97 L369.81,49.68 L370.40,46.10 L370.99,33.63 L371.58,32.83 L372.17,42.56 L372.75,45.54 L373.34,38.30 L373.93,33.37 L374.52,36.16 L375.11,39.28 L375.70,38.68 L376.28,38.97 L376.87,42.33 L377.46,45.02 L378.05,45.44 L378.64,45.20 L379.22,42.85 L379.81,36.32 L380.40,30.44 L380.99,31.15 L381.58,36.78 L382.16,37.13 L382.75,31.58 L383.34,34.78 L383.93,53.63 L384.52,66.26 L385.10,63.90 L385.69,39.60 L386.28,21.43 L386.87,19.18 L387.46,22.24 L388.05,24.12 L388.63,32.18 L389.22,48.29 L389.81,58.55 L390.40,52.97 L390.99,41.88 L391.57,40.66 L392.16,47.23 L392.75,47.34 L393.34,36.94 L393.93,26.78 L394.51,25.75 L395.10,31.06 L395.69,36.31 L396.28,40.47 L396.87,45.33 L397.45,49.23 L398.04,48.93 L398.63,45.12 L399.22,41.25 L399.81,38.27 L400.40,35.24 L400.98,33.58 L401.57,35.28 L402.16,37.53 L402.75,35.74 L403.34,32.40 L403.92,35.72 L404.51,46.44 L405.10,53.41 L405.69,47.81 L406.28,36.49 L406.86,33.31 L407.45,40.57 L408.04,47.10 L408.63,44.26 L409.22,35.68 L409.80,29.59 L410.39,28.80 L410.98,31.88 L411.57,38.37 L412.16,47.14 L412.75,52.86 L413.33,50.19 L413.92,41.30 L414.51,34.45 L415.10,34.43 L415.69,37.78 L416.27,38.79 L416.86,37.12 L417.45,36.73 L418.04,39.13 L418.63,40.80 L419.21,39.15 L419.80,37.63 L420.39,41.16 L420.98,47.58 L421.57,48.89 L422.15,42.15 L422.74,34.11 L423.33,31.69 L423.92,32.88 L424.51,32.85 L425.10,34.55 L425.68,43.91 L426.27,55.59 L426.86,55.17 L427.45,39.51 L428.04,24.88 L428.62,26.86 L429.21,39.64 L429.80,45.62 L430.39,40.51 L430.98,36.49 L431.56,41.07 L432.15,46.23 L432.74,43.35 L433.33,37.44 L433.92,37.93 L434.50,42.25 L435.09,39.83 L435.68,30.19 L436.27,26.30 L436.86,36.97 L437.45,53.26 L438.03,57.84 L438.62,45.37 L439.21,28.97 L439.80,25.67 L440.39,37.77 L440.97,50.71 L441.56,49.89 L442.15,36.86 L442.74,26.00 L443.33,26.69 L443.91,34.73 L444.50,42.35 L445.09,49.07 L445.68,56.90 L446.27,60.06 L446.85,49.16 L447.44,26.07 L448.03,12.94 L448.62,12.94 L449.21,33.65 L449.80,60.42 L450.38,66.26 L450.97,56.60 L451.56,34.97 L452.15,24.84 L452.74,30.97 L453.32,40.38 L453.91,41.18 L454.50,36.80 L455.09,36.52 L455.68,39.92 L456.26,40.61 L456.85,39.88 L457.44,43.93 L458.03,49.25 L458.62,44.78 L459.20,30.96 L459.79,23.41 L460.38,31.91 L460.97,46.65 L461.56,52.65 L462.15,48.57 L462.73,42.49 L463.32,37.05 L463.91,30.11 L464.50,25.79 L465.09,31.86 L465.67,45.68 L466.26,53.54 L466.85,47.73 L467.44,36.95 L468.03,34.51 L468.61,41.15 L469.20,46.12 L469.79,40.43 L470.38,29.23 L470.97,25.69 L471.55,34.43 L472.14,46.26 L472.73,50.44 L473.32,46.86 L473.91,42.56 L474.50,40.43 L475.08,38.03 L475.67,35.68 L476.26,37.24 L476.85,41.57 L477.44,41.59 L478.02,35.13 L478.61,29.54 L479.20,31.46 L479.79,38.52 L480.38,45.35 L480.96,50.17 L481.55,51.25 L482.14,45.75 L482.73,37.92 L483.32,37.93 L483.90,44.66 L484.49,41.92 L485.08,23.59 L485.67,12.94 L486.26,21.58 L486.85,48.68 L487.43,63.33 L488.02,58.56 L488.61,50.93 L489.20,48.49 L489.79,41.34 L490.37,26.98 L490.96,20.13 L491.55,28.43 L492.14,38.87 L492.73,39.83 L493.31,38.78 L493.90,45.29 L494.49,52.02 L495.08,47.76 L495.67,37.43 L496.25,33.52 L496.84,36.24 L497.43,37.81 L498.02,38.66 L498.61,44.56 L499.20,49.78 L499.78,41.74 L500.37,24.84 L500.96,19.90 L501.55,34.36 L502.14,51.01 L502.72,53.90 L503.31,48.04 L503.90,44.32 L504.49,41.40 L505.08,34.85 L505.66,30.36 L506.25,34.12 L506.84,40.19 L507.43,40.12 L508.02,37.07 L508.60,38.70 L509.19,43.28 L509.78,43.78 L510.37,39.89 L510.96,36.31 L511.55,35.26 L512.13,38.20 L512.72,46.96 L513.31,55.04 L513.90,48.79 L514.49,28.56 L515.07,16.77 L515.66,29.29 L516.25,49.34 L516.84,50.09 L517.43,34.81 L518.01,30.35 L518.60,43.93 L519.19,53.90 L519.78,47.16 L520.37,38.07 L520.95,39.79 L521.54,41.84 L522.13,32.60 L522.72,23.18 L523.31,29.45 L523.90,44.79 L524.48,50.99 L525.07,45.48 L525.66,39.47 L526.25,37.47 L526.84,36.53 L527.42,38.50 L528.01,45.65 L528.60,49.72 L529.19,42.43 L529.78,31.67 L530.36,30.96 L530.95,37.53 L531.54,38.16 L532.13,32.75 L532.72,34.72 L533.30,47.39 L533.89,55.25 L534.48,47.59 L535.07,35.65 L535.66,34.62 L536.25,41.30 L536.83,42.58 L537.42,36.22 L538.01,30.28 L538.60,29.49 L539.19,33.77 L539.77,42.82 L540.36,51.66 L540.95,50.17 L541.54,38.40 L542.13,32.46 L542.71,42.28 L543.30,53.23 L543.89,45.99 L544.48,26.84 L545.07,19.59 L545.66,31.67 L546.24,46.54 L546.83,49.59 L547.42,44.77 L548.01,41.98 L548.60,41.48 L549.18,37.51 L549.77,30.31 L550.36,28.59 L550.95,39.79 L551.54,57.45 L552.12,61.77 L552.71,41.58 L553.30,15.18 L553.89,14.33 L554.48,41.99 L555.06,63.43 L555.65,51.86 L556.24,26.19 L556.83,22.99 L557.42,43.67 L558.01,55.81 L558.59,43.48 L559.18,28.25 L559.77,32.99 L560.36,48.73 L560.95,51.86 L561.53,38.58 L562.12,25.96 L562.71,28.31 L563.30,40.31 L563.89,47.75 L564.47,44.54 L565.06,36.54 L565.65,34.19 L566.24,41.81 L566.83,51.40 L567.41,50.31 L568.00,37.80 L568.59,27.28 L569.18,28.38 L569.77,35.33 L570.36,39.57 L570.94,42.98 L571.53,48.45 L572.12,48.35 L572.71,37.41 L573.30,28.56 L573.88,36.91 L574.47,52.52 L575.06,50.52 L575.65,29.73 L576.24,18.44 L576.82,34.06 L577.41,56.74 L578.00,57.22 L578.59,36.61 L579.18,21.97 L579.76,29.66 L580.35,48.33 L580.94,56.57 L581.53,46.21 L582.12,28.17 L582.71,21.29 L583.29,33.78 L583.88,52.47 L584.47,38.75 L585.06,37.26 L585.65,44.40 L586.23,38.58 L586.82,40.68 L587.41,44.11 L588.00,50.75 L588.59,42.86 L589.17,31.09 L589.76,28.11 L590.35,50.24 L590.94,55.41 L591.53,47.62 L592.11,41.92 L592.70,26.50 L593.29,19.91 L593.88,30.60 L594.47,47.28 L595.06,56.84 L595.64,52.60 L596.23,39.54 L596.82,35.31 L597.41,40.63 L598.00,32.08 L598.58,32.09 L599.17,48.19 L599.76,58.19 L600.35,53.19 L600.94,25.61 L601.52,25.95 L602.11,29.82 L602.70,38.11 L603.29,48.71 L603.88,53.60 L604.46,48.32 L605.05,38.82 L605.64,34.10 L606.23,35.88 L606.82,39.34 L607.41,40.24 L607.99,37.87 L608.58,34.58 L609.17,34.84 L609.76,40.98 L610.35,47.91 L610.93,47.38 L611.52,39.49 L612.11,33.92 L612.70,36.47 L613.29,41.21 L613.87,40.64 L614.46,36.92 L615.05,36.59 L615.64,39.74 L616.23,41.49 L616.81,40.63 L617.40,39.94 L617.99,40.60 L618.58,41.77 L619.17,43.16 L619.76,43.27 L620.34,38.34 L620.93,29.58 L621.52,26.93 L622.11,36.36 L622.70,47.61 L623.28,46.98 L623.87,39.46 L624.46,41.78 L625.05,53.31 L625.64,53.37 L626.22,33.98 L626.81,15.95 L627.40,20.35 L627.99,39.32 L628.58,50.35 L629.16,47.72 L629.75,42.78 L630.34,41.53 L630.93,39.77 L631.52,36.92 L632.11,38.30 L632.69,43.35 L633.28,44.76 L633.87,40.63 L634.46,36.93 L635.05,36.54 L635.63,35.43 L636.22,32.03 L636.81,32.13 L637.40,40.13 L637.99,50.56 L638.57,53.94 L639.16,44.60 L639.75,30.56 L640.34,27.19 L640.93,39.54 L641.51,52.97 L642.10,48.56 L642.69,28.98 L643.28,18.47 L643.87,30.87 L644.46,49.39 L645.04,50.85 L645.63,39.32 L646.22,36.96 L646.81,47.73 L647.40,52.91 L647.98,43.07 L648.57,31.73 L649.16,31.10 L649.75,34.56" stroke="#2ca02c"/>
<path d="M355.70,41.51 L356.29,41.58 L356.88,40.16 L357.46,41.01 L358.05,44.66 L358.64,45.16 L359.23,38.80 L359.82,32.54 L360.40,34.95 L360.99,41.12 L361.58,39.02 L362.17,31.10 L362.76,30.36 L363.35,40.17 L363.93,49.87 L364.52,51.41 L365.11,48.22 L365.70,44.31 L366.29,36.87 L366.87,26.45 L367.46,23.46 L368.05,33.87 L368.64,46.63 L369.23,47.74 L369.81,41.10 L370.40,41.29 L370.99,48.18 L371.58,46.24 L372.17,32.15 L372.75,25.07 L373.34,38.27 L373.93,54.96 L374.52,49.67 L375.11,26.59 L375.70,16.09 L376.28,32.16 L376.87,53.49 L377.46,55.46 L378.05,43.78 L378.64,40.49 L379.22,47.78 L379.81,46.81 L380.40,66.26 L380.99,18.24 L381.58,25.11 L382.16,42.03 L382.75,49.31 L383.34,44.57 L383.93,40.90 L384.52,44.21 L385.10,47.11 L385.69,43.36 L386.28,36.25 L386.87,32.24 L387.46,32.11 L388.05,34.23 L388.63,38.95 L389.22,44.08 L389.81,43.82 L390.40,38.38 L390.99,36.82 L391.57,43.08 L392.16,47.82 L392.75,43.23 L393.34,36.76 L393.93,38.05 L394.51,41.05 L395.10,34.75 L395.69,25.37 L396.28,29.52 L396.87,46.92 L397.45,58.31 L398.04,52.34 L398.63,38.64 L399.22,30.54 L399.81,29.66 L400.40,32.55 L400.98,38.85 L401.57,46.17 L402.16,47.77 L402.75,42.08 L403.34,36.25 L403.92,36.14 L404.51,38.99 L405.10,38.68 L405.69,37.39 L406.28,40.95 L406.86,45.90 L407.45,43.59 L408.04,35.41 L408.63,31.45 L409.22,34.26 L409.80,37.12 L410.39,38.73 L410.98,45.35 L411.57,55.37 L412.16,56.24 L412.75,42.65 L413.33,26.49 L413.92,21.79 L414.51,28.33 L415.10,36.28 L415.69,39.99 L416.27,41.50 L416.86,44.39 L417.45,48.61 L418.04,50.06 L418.63,45.31 L419.21,37.79 L419.80,35.36 L420.39,38.82 L420.98,39.14 L421.57,31.94 L422.15,27.14 L422.74,34.35 L423.33,48.76 L423.92,53.34 L424.51,42.65 L425.10,34.28 L425.68,41.56 L426.27,50.88 L426.86,43.71 L427.45,28.57 L428.04,28.00 L428.62,41.29 L429.21,45.99 L429.80,35.02 L430.39,26.77 L430.98,33.94 L431.56,45.66 L432.15,48.67 L432.74,46.26 L433.33,45.92 L433.92,44.43 L434.50,37.36 L435.09,31.52 L435.68,35.32 L436.27,44.22 L436.86,46.14 L437.45,37.71 L438.03,27.23 L438.62,23.71 L439.21,33.83 L439.80,52.82 L440.39,65.25 L440.97,57.65 L441.56,35.99 L442.15,23.97 L442.74,34.48 L443.33,49.64 L443.91,43.47 L444.50,20.17 L445.09,12.94 L445.68,29.51 L446.27,55.01 L446.85,61.49 L447.44,52.03 L448.03,45.26 L448.62,44.37 L449.21,38.81 L449.80,29.05 L450.38,27.93 L450.97,37.70 L451.56,44.90 L452.15,42.04 L452.74,37.98 L453.32,39.71 L453.91,39.69 L454.50,32.11 L455.09,28.08 L455.68,38.98 L456.26,54.35 L456.85,54.49 L457.44,40.98 L458.03,34.57 L458.62,43.19 L459.20,48.80 L459.79,32.60 L460.38,12.94 L460.97,15.15 L461.56,44.84 L462.15,63.12 L462.73,52.57 L463.32,38.55 L463.91,44.93 L464.50,56.10 L465.09,46.68 L465.67,25.56 L466.26,20.79 L466.85,34.68 L467.44,44.07 L468.03,39.02 L468.61,32.80 L469.20,34.66 L469.79,38.41 L470.38,40.61 L470.97,47.37 L471.55,57.27 L472.14,57.05 L472.73,42.28 L473.32,26.75 L473.91,23.31 L474.50,28.48 L475.08,33.45 L475.67,37.97 L476.26,44.24 L476.85,47.85 L477.44,45.25 L478.02,42.25 L478.61,44.64 L479.20,46.71 L479.79,40.03 L480.38,29.01 L480.96,26.26 L481.55,34.65 L482.14,44.46 L482.73,47.58 L483.32,44.68 L483.90,39.18 L484.49,33.58 L485.08,32.15 L485.67,37.90 L486.26,45.99 L486.85,48.63 L487.43,46.13 L488.02,44.19 L488.61,41.85 L489.20,33.55 L489.79,22.88 L490.37,21.51 L490.96,32.63 L491.55,47.13 L492.14,56.97 L492.73,60.09 L493.31,53.15 L493.90,35.16 L494.49,19.20 L495.08,22.35 L495.67,40.36 L496.25,50.24 L496.84,42.99 L497.43,34.52 L498.02,37.37 L498.61,42.70 L499.20,40.83 L499.78,38.67 L500.37,42.83 L500.96,44.42 L501.55,37.47 L502.14,34.45 L502.72,44.19 L503.31,50.93 L503.90,38.32 L504.49,20.44 L505.08,22.55 L505.66,40.83 L506.25,50.17 L506.84,46.21 L507.43,47.68 L508.02,56.92 L508.60,52.14 L509.19,28.13 L509.78,12.94 L510.37,24.96 L510.96,44.88 L511.55,45.38 L512.13,34.34 L512.72,36.97 L513.31,52.11 L513.90,56.12 L514.49,5.93 L515.07,35.00 L515.66,39.98 L516.25,77.48 L516.84,31.50 L517.43,19.02 L518.01,25.14 L518.60,45.46 L519.19,57.12 L519.78,49.65 L520.37,36.68 L520.95,35.52 L521.54,46.03 L522.13,50.26 L522.72,37.88 L523.31,23.13 L523.90,26.54 L524.48,44.15 L525.07,50.60 L525.66,36.43 L526.25,24.35 L526.84,35.67 L527.42,56.76 L528.01,59.32 L528.60,42.84 L529.19,31.79 L529.78,35.48 L530.36,38.27 L530.95,31.36 L531.54,27.22 L532.13,35.13 L532.72,45.97 L533.30,50.31 L533.89,50.75 L534.48,48.08 L535.07,36.64 L535.66,22.56 L536.25,24.15 L536.83,42.53 L537.42,53.99 L538.01,45.07 L538.60,33.56 L539.19,38.29 L539.77,48.97 L540.36,46.16 L540.95,34.05 L541.54,30.47 L542.13,36.61 L542.71,39.22 L543.30,35.70 L543.89,35.72 L544.48,41.71 L545.07,45.83 L545.66,45.25 L546.24,45.05 L546.83,46.06 L547.42,42.03 L548.01,32.30 L548.60,25.84 L549.18,28.13 L549.77,34.37 L550.36,39.93 L550.95,46.06 L551.54,51.02 L552.12,48.85 L552.71,42.09 L553.30,41.17 L553.89,45.54 L554.48,41.20 L555.06,25.51 L555.65,17.53 L556.24,31.05 L556.83,51.73 L557.42,56.33 L558.01,44.22 L558.59,33.99 L559.18,35.52 L559.77,41.19 L560.36,41.97 L560.95,38.68 L561.53,36.69 L562.12,38.40 L562.71,42.27 L563.30,44.33 L563.89,40.97 L564.47,34.93 L565.06,34.49 L565.65,41.29 L566.24,44.83 L566.83,37.26 L567.41,27.64 L568.00,30.63 L568.59,45.07 L569.18,55.82 L569.77,54.31 L570.36,45.40 L570.94,35.92 L571.53,28.92 L572.12,28.07 L572.71,34.86 L573.30,41.43 L573.88,38.51 L574.47,30.98 L575.06,33.02 L575.65,46.96 L576.24,59.13 L576.82,58.50 L577.41,47.70 L578.00,34.19 L578.59,22.86 L579.18,19.48 L579.76,28.16 L580.35,42.04 L580.94,48.58 L581.53,46.80 L582.12,46.32 L582.71,47.76 L583.29,41.32 L583.88,29.20 L584.47,33.44 L585.06,36.27 L585.65,37.89 L586.23,38.11 L586.82,37.49 L587.41,31.76 L588.00,41.58 L588.59,43.46 L589.17,39.48 L589.76,38.08 L590.35,38.95 L590.94,40.46 L591.53,39.33 L592.11,34.91 L592.70,24.01 L593.29,23.03 L593.88,33.05 L594.47,48.91 L595.06,54.02 L595.64,51.00 L596.23,38.58 L596.82,31.47 L597.41,34.95 L598.00,40.72 L598.58,42.13 L599.17,38.44 L599.76,43.07 L600.35,41.12 L600.94,58.12 L601.52,37.72 L602.11,18.45 L602.70,22.56 L603.29,39.13 L603.88,44.88 L604.46,37.72 L605.05,32.75 L605.64,37.64 L606.23,47.36 L606.82,54.86 L607.41,54.73 L607.99,43.61 L608.58,27.70 L609.17,22.27 L609.76,33.16 L610.35,46.35 L610.93,45.92 L611.52,35.29 L612.11,29.78 L612.70,35.02 L613.29,44.41 L613.87,51.67 L614.46,53.66 L615.05,46.41 L615.64,31.34 L616.23,21.43 L616.81,28.07 L617.40,44.00 L617.99,51.80 L618.58,47.14 L619.17,40.54 L619.76,37.99 L620.34,34.77 L620.93,29.80 L621.52,31.09 L622.11,41.84 L622.70,53.05 L623.28,53.21 L623.87,43.15 L624.46,32.71 L625.05,28.36 L625.64,30.75 L626.22,38.95 L626.81,48.98 L627.40,52.04 L627.99,43.10 L628.58,29.53 L629.16,24.03 L629.75,30.54 L630.34,42.34 L630.93,51.22 L631.52,52.93 L632.11,47.03 L632.69,38.09 L633.28,34.14 L633.87,37.51 L634.46,40.45 L635.05,36.52 L635.63,31.36 L636.22,33.44 L636.81,39.12 L637.40,38.78 L637.99,35.14 L638.57,40.73 L639.16,55.32 L639.75,60.93 L640.34,47.00 L640.93,28.20 L641.51,25.78 L642.10,38.12 L642.69,43.71 L643.28,31.95 L643.87,18.24 L644.46,23.34 L645.04,46.47 L645.63,66.26 L646.22,66.26 L646.81,52.42 L647.40,33.85 L647.98,22.38 L648.57,20.82 L649.16,27.95 L649.75,38.97" stroke="#ff7f0e"/>
<path d="M355.70,37.36 L356.29,40.26 L356.88,40.84 L357.46,38.25 L358.05,37.87 L358.64,39.87 L359.23,39.28 L359.82,38.26 L360.40,43.93 L360.99,52.10 L361.58,51.11 L362.17,41.32 L362.76,32.38 L363.35,27.97 L363.93,24.56 L364.52,22.72 L365.11,28.95 L365.70,45.46 L366.29,64.10 L366.87,66.26 L367.46,58.59 L368.05,33.26 L368.64,15.57 L369.23,19.45 L369.81,35.24 L370.40,42.07 L370.99,36.60 L371.58,35.38 L372.17,46.96 L372.75,57.27 L373.34,48.32 L373.93,30.59 L374.52,30.83 L375.11,48.96 L375.70,54.38 L376.28,33.12 L376.87,12.94 L377.46,21.11 L378.05,47.70 L378.64,58.02 L379.22,44.78 L379.81,33.36 L380.40,41.30 L380.99,54.15 L381.58,48.96 L382.16,27.98 L382.75,16.70 L383.34,30.71 L383.93,54.70 L384.52,15.75 L385.10,43.76 L385.69,26.62 L386.28,28.06 L386.87,38.27 L387.46,38.46 L388.05,32.05 L388.63,37.34 L389.22,54.16 L389.81,60.82 L390.40,47.00 L390.99,29.02 L391.57,24.93 L392.16,31.77 L392.75,37.80 L393.34,41.36 L393.93,44.99 L394.51,43.82 L395.10,35.84 L395.69,33.21 L396.28,44.44 L396.87,54.44 L397.45,44.89 L398.04,27.17 L398.63,28.18 L399.22,46.43 L399.81,52.11 L400.40,34.96 L400.98,21.38 L401.57,32.26 L402.16,51.04 L402.75,52.06 L403.34,39.06 L403.92,33.77 L404.51,40.62 L405.10,45.66 L405.69,42.24 L406.28,36.94 L406.86,34.17 L407.45,32.74 L408.04,35.12 L408.63,43.67 L409.22,49.69 L409.80,43.08 L410.39,31.45 L410.98,32.20 L411.57,45.15 L412.16,51.59 L412.75,43.36 L413.33,33.36 L413.92,32.07 L414.51,33.56 L415.10,33.42 L415.69,39.72 L416.27,53.20 L416.86,56.45 L417.45,40.12 L418.04,23.13 L418.63,26.75 L419.21,42.44 L419.80,47.21 L420.39,39.63 L420.98,36.76 L421.57,42.84 L422.15,45.72 L422.74,41.33 L423.33,38.40 L423.92,38.91 L424.51,35.57 L425.10,30.10 L425.68,33.78 L426.27,46.08 L426.86,51.69 L427.45,44.01 L428.04,34.95 L428.62,35.12 L429.21,39.44 L429.80,39.81 L430.39,38.36 L430.98,41.07 L431.56,44.10 L432.15,39.34 L432.74,31.03 L433.33,32.09 L433.92,43.23 L434.50,50.28 L435.09,45.75 L435.68,39.31 L436.27,40.39 L436.86,42.26 L437.45,33.97 L438.03,21.33 L438.62,22.82 L439.21,43.86 L439.80,65.03 L440.39,63.06 L440.97,39.92 L441.56,21.85 L442.15,27.10 L442.74,43.72 L443.33,47.72 L443.91,35.91 L444.50,27.02 L445.09,32.34 L445.68,42.41 L446.27,46.53 L446.85,48.45 L447.44,52.86 L448.03,51.30 L448.62,36.08 L449.21,18.65 L449.80,17.76 L450.38,33.92 L450.97,50.09 L451.56,54.95 L452.15,51.63 L452.74,44.77 L453.32,34.29 L453.91,24.82 L454.50,26.73 L455.09,40.73 L455.68,52.46 L456.26,50.28 L456.85,40.22 L457.44,35.25 L458.03,36.85 L458.62,37.44 L459.20,35.52 L459.79,36.56 L460.38,40.65 L460.97,41.56 L461.56,39.04 L462.15,40.50 L462.73,46.71 L463.32,47.48 L463.91,38.26 L464.50,30.65 L465.09,35.85 L465.67,45.50 L466.26,42.80 L466.85,29.25 L467.44,24.53 L468.03,37.65 L468.61,53.15 L469.20,53.68 L469.79,43.61 L470.38,38.55 L470.97,40.47 L471.55,38.77 L472.14,32.33 L472.73,32.37 L473.32,40.78 L473.91,43.17 L474.50,32.75 L475.08,25.97 L475.67,39.19 L476.26,59.90 L476.85,60.66 L477.44,39.01 L478.02,22.74 L478.61,30.81 L479.20,47.71 L479.79,47.97 L480.38,32.39 L480.96,24.02 L481.55,34.36 L482.14,49.72 L482.73,52.65 L483.32,41.03 L483.90,29.41 L484.49,31.70 L485.08,46.10 L485.67,56.74 L486.26,49.89 L486.85,30.40 L487.43,19.11 L488.02,28.46 L488.61,45.12 L489.20,46.93 L489.79,34.59 L490.37,30.82 L490.96,45.72 L491.55,60.92 L492.14,57.18 L492.73,41.15 L493.31,30.49 L493.90,26.95 L494.49,22.83 L495.08,22.81 L495.67,35.89 L496.25,52.07 L496.84,52.54 L497.43,42.32 L498.02,44.94 L498.61,60.59 L499.20,59.36 L499.78,29.47 L500.37,12.94 L500.96,12.94 L501.55,40.69 L502.14,50.01 L502.72,40.22 L503.31,42.29 L503.90,60.67 L504.49,62.85 L505.08,35.85 L505.66,14.36 L506.25,29.35 L506.84,57.61 L507.43,54.91 L508.02,23.16 L508.60,12.94 L509.19,29.30 L509.78,57.57 L510.37,58.10 L510.96,40.83 L511.55,37.30 L512.13,50.45 L512.72,54.54 L513.31,38.31 L513.90,21.36 L514.49,22.72 L515.07,35.03 L515.66,40.98 L516.25,39.98 L516.84,42.84 L517.43,49.08 L518.01,47.56 L518.60,37.98 L519.19,34.49 L519.78,43.22 L520.37,50.78 L520.95,41.53 L521.54,22.72 L522.13,17.90 L522.72,34.21 L523.31,52.27 L523.90,53.78 L524.48,44.51 L525.07,40.27 L525.66,42.02 L526.25,39.69 L526.84,33.18 L527.42,32.92 L528.01,40.65 L528.60,45.26 L529.19,40.98 L529.78,35.98 L530.36,37.37 L530.95,39.89 L531.54,37.35 L532.13,34.98 L532.72,39.79 L533.30,46.93 L533.89,46.60 L534.48,40.41 L535.07,39.48 L535.66,43.87 L536.25,40.33 L536.83,26.64 L537.42,21.57 L538.01,37.43 L538.60,56.69 L539.19,54.10 L539.77,34.18 L540.36,25.10 L540.95,37.56 L541.54,52.01 L542.13,50.76 L542.71,41.51 L543.30,38.50 L543.89,38.51 L544.48,31.33 L545.07,22.33 L545.66,26.37 L546.24,43.57 L546.83,56.98 L547.42,55.06 L548.01,44.24 L548.60,36.74 L549.18,35.69 L549.77,36.16 L550.36,34.79 L550.95,33.31 L551.54,35.39 L552.12,41.64 L552.71,47.31 L553.30,46.20 L553.89,38.78 L554.48,33.94 L555.06,38.16 L555.65,45.60 L556.24,45.59 L556.83,38.12 L557.42,33.15 L558.01,34.90 L558.59,37.09 L559.18,36.17 L559.77,38.01 L560.36,46.32 L560.95,53.38 L561.53,49.66 L562.12,36.72 L562.71,24.82 L563.30,22.59 L563.89,32.24 L564.47,48.41 L565.06,58.51 L565.65,52.34 L566.24,35.90 L566.83,27.05 L567.41,32.77 L568.00,40.71 L568.59,39.75 L569.18,36.80 L569.77,42.13 L570.36,49.30 L570.94,45.16 L571.53,33.10 L572.12,29.15 L572.71,37.46 L573.30,45.79 L573.88,45.76 L574.47,41.71 L575.06,37.73 L575.65,32.04 L576.24,28.58 L576.82,37.33 L577.41,54.97 L578.00,61.15 L578.59,45.42 L579.18,24.87 L579.76,21.12 L580.35,31.44 L580.94,38.48 L581.53,38.94 L582.12,43.17 L582.71,51.83 L583.29,53.46 L583.88,45.19 L584.47,42.61 L585.06,42.37 L585.65,55.34 L586.23,52.38 L586.82,40.99 L587.41,26.46 L588.00,16.69 L588.59,19.76 L589.17,36.10 L589.76,47.12 L590.35,60.96 L590.94,64.60 L591.53,61.05 L592.11,43.80 L592.70,21.59 L593.29,15.21 L593.88,22.70 L594.47,38.35 L595.06,52.63 L595.64,55.30 L596.23,54.27 L596.82,40.65 L597.41,28.91 L598.00,29.75 L598.58,32.73 L599.17,39.12 L599.76,43.33 L600.35,48.54 L600.94,35.89 L601.52,13.71 L602.11,21.33 L602.70,57.49 L603.29,66.26 L603.88,55.79 L604.46,31.26 L605.05,32.54 L605.64,45.14 L606.23,41.14 L606.82,24.71 L607.41,20.98 L607.99,35.36 L608.58,49.18 L609.17,50.02 L609.76,44.15 L610.35,40.97 L610.93,40.06 L611.52,37.88 L612.11,37.19 L612.70,40.55 L613.29,42.60 L613.87,38.10 L614.46,32.21 L615.05,33.71 L615.64,41.47 L616.23,46.38 L616.81,44.55 L617.40,40.20 L617.99,36.82 L618.58,34.33 L619.17,34.76 L619.76,40.94 L620.34,48.29 L620.93,47.46 L621.52,38.65 L622.11,33.42 L622.70,37.30 L623.28,41.15 L623.87,36.88 L624.46,31.78 L625.05,36.13 L625.64,45.03 L626.22,46.38 L626.81,41.39 L627.40,41.39 L627.99,46.40 L628.58,44.01 L629.16,31.81 L629.75,24.50 L630.34,32.08 L630.93,44.71 L631.52,48.12 L632.11,43.14 L632.69,39.91 L633.28,41.15 L633.87,41.72 L634.46,39.54 L635.05,37.14 L635.63,35.75 L636.22,35.59 L636.81,38.24 L637.40,42.25 L637.99,41.54 L638.57,36.23 L639.16,37.56 L639.75,49.90 L640.34,56.81 L640.93,41.37 L641.51,16.83 L642.10,15.21 L642.69,41.39 L643.28,62.24 L643.87,53.03 L644.46,32.26 L645.04,30.53 L645.63,43.88 L646.22,45.52 L646.81,32.77 L647.40,29.68 L647.98,43.86 L648.57,53.21 L649.16,43.36 L649.75,30.34" stroke="#1f77b4"/>
</g>
<text x="0.30" y="259.50" font-size="14" text-anchor="start" font-weight="bold" fill="#000" style="color:#000">c</text>
<text x="130.20" y="261.78" font-size="10" text-anchor="middle" font-weight="normal" fill="#1a1a1a" style="color:#1a1a1a">4 units</text>
<rect x="40.5" y="265" width="176.60" height="113.00" fill="#ececec"/>
<line x1="40.5" x2="217.1" y1="378.80" y2="378.80" stroke="#fff" stroke-width="1.35"/>
<line x1="40.5" x2="217.1" y1="365.41" y2="365.41" stroke="#fff" stroke-width="1.35"/>
<line x1="40.5" x2="217.1" y1="352.03" y2="352.03" stroke="#fff" stroke-width="1.35"/>
<line x1="40.5" x2="217.1" y1="338.64" y2="338.64" stroke="#fff" stroke-width="1.35"/>
<line x1="40.5" x2="217.1" y1="325.25" y2="325.25" stroke="#fff" stroke-width="1.35"/>
<line x1="40.5" x2="217.1" y1="311.86" y2="311.86" stroke="#fff" stroke-width="1.35"/>
<line x1="40.5" x2="217.1" y1="298.47" y2="298.47" stroke="#fff" stroke-width="1.35"/>
<line x1="40.5" x2="217.1" y1="285.09" y2="285.09" stroke="#fff" stroke-width="1.35"/>
<line x1="40.5" x2="217.1" y1="271.70" y2="271.70" stroke="#fff" stroke-width="1.35"/>
<line y1="265" y2="378.0" x1="63.10" x2="63.10" stroke="#fff" stroke-width="1.35"/>
<line y1="265" y2="378.0" x1="99.00" x2="99.00" stroke="#fff" stroke-width="1.35"/>
<line y1="265" y2="378.0" x1="134.90" x2="134.90" stroke="#fff" stroke-width="1.35"/>
<line y1="265" y2="378.0" x1="170.80" x2="170.80" stroke="#fff" stroke-width="1.35"/>
<line y1="265" y2="378.0" x1="206.70" x2="206.70" stroke="#fff" stroke-width="1.35"/>
<text x="37.20" y="274.74" font-size="8.5" text-anchor="end" font-weight="normal" fill="#1a1a1a" style="color:#1a1a1a">0.25</text>
<text x="37.20" y="288.13" font-size="8.5" text-anchor="end" font-weight="normal" fill="#1a1a1a" style="color:#1a1a1a">0.225</text>
<text x="37.20" y="301.52" font-size="8.5" text-anchor="end" font-weight="normal" fill="#1a1a1a" style="color:#1a1a1a">0.2</text>
<text x="37.20" y="314.91" font-size="8.5" text-anchor="end" font-weight="normal" fill="#1a1a1a" style="color:#1a1a1a">0.175</text>
<text x="37.20" y="328.29" font-size="8.5" text-anchor="end" font-weight="normal" fill="#1a1a1a" style="color:#1a1a1a">0.15</text>
<text x="37.20" y="341.68" font-size="8.5" text-anchor="end" font-weight="normal" fill="#1a1a1a" style="color:#1a1a1a">0.125</text>
<text x="37.20" y="355.07" font-size="8.5" text-anchor="end" font-weight="normal" fill="#1a1a1a" style="color:#1a1a1a">0.1</text>
<text x="37.20" y="368.46" font-size="8.5" text-anchor="end" font-weight="normal" fill="#1a1a1a" style="color:#1a1a1a">0.075</text>
<text x="37.20" y="381.84" font-size="8.5" text-anchor="end" font-weight="normal" fill="#1a1a1a" style="color:#1a1a1a">0.05</text>
<text x="63.10" y="389.14" font-size="8.5" text-anchor="middle" font-weight="normal" fill="#1a1a1a" style="color:#1a1a1a">0.05</text>
<text x="99.00" y="389.14" font-size="8.5" text-anchor="middle" font-weight="normal" fill="#1a1a1a" style="color:#1a1a1a">0.01</text>
<text x="134.90" y="389.14" font-size="8.5" text-anchor="middle" font-weight="normal" fill="#1a1a1a" style="color:#1a1a1a">0.15</text>
<text x="170.80" y="389.14" font-size="8.5" text-anchor="middle" font-weight="normal" fill="#1a1a1a" style="color:#1a1a1a">0.2</text>
<text x="206.70" y="389.14" font-size="8.5" text-anchor="middle" font-weight="normal" fill="#1a1a1a" style="color:#1a1a1a">0.25</text>
<clipPath id="cl195"><rect x="40.5" y="265" width="176.6" height="113.0"/></clipPath>
<g clip-path="url(#cl195)">
<rect x="146.34" y="274.98" width="4.0" height="4.0" rx="0.9" fill="#2ca02c"/>
<rect x="140.97" y="289.44" width="4.0" height="4.0" rx="0.9" fill="#2ca02c"/>
<rect x="193.63" y="288.82" width="4.0" height="4.0" rx="0.9" fill="#2ca02c"/>
<rect x="190.53" y="298.52" width="4.0" height="4.0" rx="0.9" fill="#2ca02c"/>
<rect x="195.90" y="300.17" width="4.0" height="4.0" rx="0.9" fill="#2ca02c"/>
<rect x="184.96" y="304.72" width="4.0" height="4.0" rx="0.9" fill="#2ca02c"/>
<rect x="173.19" y="308.02" width="4.0" height="4.0" rx="0.9" fill="#2ca02c"/>
<rect x="199.41" y="311.53" width="4.0" height="4.0" rx="0.9" fill="#2ca02c"/>
<rect x="159.14" y="311.95" width="4.0" height="4.0" rx="0.9" fill="#2ca02c"/>
<rect x="175.04" y="313.19" width="4.0" height="4.0" rx="0.9" fill="#2ca02c"/>
<rect x="166.99" y="315.66" width="4.0" height="4.0" rx="0.9" fill="#2ca02c"/>
<rect x="183.31" y="316.28" width="4.0" height="4.0" rx="0.9" fill="#2ca02c"/>
<rect x="185.99" y="316.28" width="4.0" height="4.0" rx="0.9" fill="#2ca02c"/>
<rect x="174.22" y="317.73" width="4.0" height="4.0" rx="0.9" fill="#2ca02c"/>
<rect x="197.76" y="317.73" width="4.0" height="4.0" rx="0.9" fill="#2ca02c"/>
<rect x="181.45" y="319.18" width="4.0" height="4.0" rx="0.9" fill="#2ca02c"/>
<rect x="126.10" y="313.60" width="4.0" height="4.0" rx="0.9" fill="#2ca02c"/>
<rect x="130.85" y="312.57" width="4.0" height="4.0" rx="0.9" fill="#2ca02c"/>
<rect x="132.29" y="314.22" width="4.0" height="4.0" rx="0.9" fill="#2ca02c"/>
<rect x="124.03" y="317.73" width="4.0" height="4.0" rx="0.9" fill="#2ca02c"/>
<rect x="128.16" y="318.76" width="4.0" height="4.0" rx="0.9" fill="#2ca02c"/>
<rect x="130.23" y="319.79" width="4.0" height="4.0" rx="0.9" fill="#2ca02c"/>
<rect x="125.48" y="322.89" width="4.0" height="4.0" rx="0.9" fill="#2ca02c"/>
<rect x="128.78" y="322.89" width="4.0" height="4.0" rx="0.9" fill="#2ca02c"/>
<rect x="124.03" y="324.96" width="4.0" height="4.0" rx="0.9" fill="#2ca02c"/>
<rect x="127.13" y="325.99" width="4.0" height="4.0" rx="0.9" fill="#2ca02c"/>
<rect x="141.17" y="317.11" width="4.0" height="4.0" rx="0.9" fill="#2ca02c"/>
<rect x="142.62" y="318.76" width="4.0" height="4.0" rx="0.9" fill="#2ca02c"/>
<rect x="145.72" y="318.76" width="4.0" height="4.0" rx="0.9" fill="#2ca02c"/>
<rect x="150.26" y="317.94" width="4.0" height="4.0" rx="0.9" fill="#2ca02c"/>
<rect x="136.84" y="322.27" width="4.0" height="4.0" rx="0.9" fill="#2ca02c"/>
<rect x="151.91" y="324.54" width="4.0" height="4.0" rx="0.9" fill="#2ca02c"/>
<rect x="142.62" y="325.99" width="4.0" height="4.0" rx="0.9" fill="#2ca02c"/>
<rect x="168.85" y="323.93" width="4.0" height="4.0" rx="0.9" fill="#2ca02c"/>
<rect x="184.54" y="323.31" width="4.0" height="4.0" rx="0.9" fill="#2ca02c"/>
<rect x="179.79" y="323.31" width="4.0" height="4.0" rx="0.9" fill="#2ca02c"/>
<rect x="198.38" y="321.86" width="4.0" height="4.0" rx="0.9" fill="#2ca02c"/>
<rect x="201.48" y="321.24" width="4.0" height="4.0" rx="0.9" fill="#2ca02c"/>
<rect x="156.04" y="329.09" width="4.0" height="4.0" rx="0.9" fill="#2ca02c"/>
<rect x="161.21" y="330.12" width="4.0" height="4.0" rx="0.9" fill="#2ca02c"/>
<rect x="159.14" y="332.19" width="4.0" height="4.0" rx="0.9" fill="#2ca02c"/>
<rect x="166.37" y="328.06" width="4.0" height="4.0" rx="0.9" fill="#2ca02c"/>
<rect x="173.60" y="329.50" width="4.0" height="4.0" rx="0.9" fill="#2ca02c"/>
<rect x="178.35" y="328.06" width="4.0" height="4.0" rx="0.9" fill="#2ca02c"/>
<rect x="179.79" y="329.09" width="4.0" height="4.0" rx="0.9" fill="#2ca02c"/>
<rect x="193.22" y="329.50" width="4.0" height="4.0" rx="0.9" fill="#2ca02c"/>
<rect x="131.67" y="334.25" width="4.0" height="4.0" rx="0.9" fill="#2ca02c"/>
<rect x="133.33" y="333.22" width="4.0" height="4.0" rx="0.9" fill="#2ca02c"/>
<rect x="127.13" y="331.15" width="4.0" height="4.0" rx="0.9" fill="#2ca02c"/>
<rect x="123.00" y="330.12" width="4.0" height="4.0" rx="0.9" fill="#2ca02c"/>
<rect x="147.78" y="336.94" width="4.0" height="4.0" rx="0.9" fill="#2ca02c"/>
<rect x="162.24" y="339.00" width="4.0" height="4.0" rx="0.9" fill="#2ca02c"/>
<rect x="172.15" y="339.00" width="4.0" height="4.0" rx="0.9" fill="#2ca02c"/>
<rect x="183.93" y="337.35" width="4.0" height="4.0" rx="0.9" fill="#2ca02c"/>
<rect x="199.83" y="337.76" width="4.0" height="4.0" rx="0.9" fill="#2ca02c"/>
<rect x="136.42" y="341.48" width="4.0" height="4.0" rx="0.9" fill="#2ca02c"/>
<rect x="141.17" y="343.13" width="4.0" height="4.0" rx="0.9" fill="#2ca02c"/>
<rect x="170.91" y="343.13" width="4.0" height="4.0" rx="0.9" fill="#2ca02c"/>
<rect x="155.63" y="344.58" width="4.0" height="4.0" rx="0.9" fill="#2ca02c"/>
<rect x="156.04" y="349.33" width="4.0" height="4.0" rx="0.9" fill="#2ca02c"/>
<rect x="158.52" y="349.74" width="4.0" height="4.0" rx="0.9" fill="#2ca02c"/>
<rect x="164.92" y="349.33" width="4.0" height="4.0" rx="0.9" fill="#2ca02c"/>
<rect x="172.57" y="348.71" width="4.0" height="4.0" rx="0.9" fill="#2ca02c"/>
<rect x="173.60" y="347.68" width="4.0" height="4.0" rx="0.9" fill="#2ca02c"/>
<rect x="181.86" y="349.74" width="4.0" height="4.0" rx="0.9" fill="#2ca02c"/>
<rect x="190.74" y="351.39" width="4.0" height="4.0" rx="0.9" fill="#2ca02c"/>
<rect x="199.00" y="346.02" width="4.0" height="4.0" rx="0.9" fill="#2ca02c"/>
<rect x="142.21" y="354.90" width="4.0" height="4.0" rx="0.9" fill="#2ca02c"/>
<rect x="142.21" y="365.23" width="4.0" height="4.0" rx="0.9" fill="#2ca02c"/>
<rect x="175.66" y="334.25" width="4.0" height="4.0" rx="0.9" fill="#2ca02c"/>
<rect x="93.26" y="301.77" width="4.0" height="4.0" rx="0.9" fill="#2ca02c"/>
<rect x="95.95" y="302.85" width="4.0" height="4.0" rx="0.9" fill="#2ca02c"/>
<rect x="86.79" y="306.08" width="4.0" height="4.0" rx="0.9" fill="#2ca02c"/>
<rect x="65.78" y="312.01" width="4.0" height="4.0" rx="0.9" fill="#2ca02c"/>
<rect x="69.01" y="313.09" width="4.0" height="4.0" rx="0.9" fill="#2ca02c"/>
<rect x="72.25" y="311.47" width="4.0" height="4.0" rx="0.9" fill="#2ca02c"/>
<rect x="80.33" y="312.01" width="4.0" height="4.0" rx="0.9" fill="#2ca02c"/>
<rect x="88.41" y="313.62" width="4.0" height="4.0" rx="0.9" fill="#2ca02c"/>
<rect x="83.56" y="315.78" width="4.0" height="4.0" rx="0.9" fill="#2ca02c"/>
<rect x="80.87" y="318.47" width="4.0" height="4.0" rx="0.9" fill="#2ca02c"/>
<rect x="84.64" y="320.63" width="4.0" height="4.0" rx="0.9" fill="#2ca02c"/>
<rect x="92.18" y="320.63" width="4.0" height="4.0" rx="0.9" fill="#2ca02c"/>
<rect x="91.64" y="322.78" width="4.0" height="4.0" rx="0.9" fill="#2ca02c"/>
<rect x="97.03" y="320.09" width="4.0" height="4.0" rx="0.9" fill="#2ca02c"/>
<rect x="63.09" y="323.32" width="4.0" height="4.0" rx="0.9" fill="#2ca02c"/>
<rect x="78.17" y="323.86" width="4.0" height="4.0" rx="0.9" fill="#2ca02c"/>
<rect x="72.25" y="326.02" width="4.0" height="4.0" rx="0.9" fill="#2ca02c"/>
<rect x="67.40" y="326.56" width="4.0" height="4.0" rx="0.9" fill="#2ca02c"/>
<rect x="59.31" y="326.56" width="4.0" height="4.0" rx="0.9" fill="#2ca02c"/>
<rect x="57.16" y="329.79" width="4.0" height="4.0" rx="0.9" fill="#2ca02c"/>
<rect x="60.93" y="329.25" width="4.0" height="4.0" rx="0.9" fill="#2ca02c"/>
<rect x="64.70" y="328.71" width="4.0" height="4.0" rx="0.9" fill="#2ca02c"/>
<rect x="86.25" y="328.17" width="4.0" height="4.0" rx="0.9" fill="#2ca02c"/>
<rect x="90.56" y="329.79" width="4.0" height="4.0" rx="0.9" fill="#2ca02c"/>
<rect x="95.41" y="329.25" width="4.0" height="4.0" rx="0.9" fill="#2ca02c"/>
<rect x="54.47" y="333.56" width="4.0" height="4.0" rx="0.9" fill="#2ca02c"/>
<rect x="59.85" y="332.48" width="4.0" height="4.0" rx="0.9" fill="#2ca02c"/>
<rect x="63.09" y="333.56" width="4.0" height="4.0" rx="0.9" fill="#2ca02c"/>
<rect x="66.32" y="334.64" width="4.0" height="4.0" rx="0.9" fill="#2ca02c"/>
<rect x="70.63" y="332.48" width="4.0" height="4.0" rx="0.9" fill="#2ca02c"/>
<rect x="73.86" y="334.10" width="4.0" height="4.0" rx="0.9" fill="#2ca02c"/>
<rect x="77.09" y="335.18" width="4.0" height="4.0" rx="0.9" fill="#2ca02c"/>
<rect x="53.39" y="336.25" width="4.0" height="4.0" rx="0.9" fill="#2ca02c"/>
<rect x="56.62" y="336.79" width="4.0" height="4.0" rx="0.9" fill="#2ca02c"/>
<rect x="60.93" y="337.87" width="4.0" height="4.0" rx="0.9" fill="#2ca02c"/>
<rect x="64.16" y="337.33" width="4.0" height="4.0" rx="0.9" fill="#2ca02c"/>
<rect x="69.55" y="336.79" width="4.0" height="4.0" rx="0.9" fill="#2ca02c"/>
<rect x="73.86" y="337.33" width="4.0" height="4.0" rx="0.9" fill="#2ca02c"/>
<rect x="76.02" y="337.87" width="4.0" height="4.0" rx="0.9" fill="#2ca02c"/>
<rect x="92.18" y="333.56" width="4.0" height="4.0" rx="0.9" fill="#2ca02c"/>
<rect x="95.41" y="332.48" width="4.0" height="4.0" rx="0.9" fill="#2ca02c"/>
<rect x="97.03" y="338.95" width="4.0" height="4.0" rx="0.9" fill="#2ca02c"/>
<rect x="90.56" y="338.41" width="4.0" height="4.0" rx="0.9" fill="#2ca02c"/>
<rect x="86.79" y="340.56" width="4.0" height="4.0" rx="0.9" fill="#2ca02c"/>
<rect x="83.56" y="342.18" width="4.0" height="4.0" rx="0.9" fill="#2ca02c"/>
<rect x="93.26" y="345.41" width="4.0" height="4.0" rx="0.9" fill="#2ca02c"/>
<rect x="95.41" y="344.88" width="4.0" height="4.0" rx="0.9" fill="#2ca02c"/>
<rect x="60.93" y="343.26" width="4.0" height="4.0" rx="0.9" fill="#2ca02c"/>
<rect x="62.01" y="345.41" width="4.0" height="4.0" rx="0.9" fill="#2ca02c"/>
<rect x="67.40" y="344.34" width="4.0" height="4.0" rx="0.9" fill="#2ca02c"/>
<rect x="69.55" y="345.41" width="4.0" height="4.0" rx="0.9" fill="#2ca02c"/>
<rect x="72.78" y="344.34" width="4.0" height="4.0" rx="0.9" fill="#2ca02c"/>
<rect x="74.94" y="348.11" width="4.0" height="4.0" rx="0.9" fill="#2ca02c"/>
<rect x="73.86" y="349.72" width="4.0" height="4.0" rx="0.9" fill="#2ca02c"/>
<rect x="83.02" y="345.41" width="4.0" height="4.0" rx="0.9" fill="#2ca02c"/>
<rect x="85.18" y="347.57" width="4.0" height="4.0" rx="0.9" fill="#2ca02c"/>
<rect x="86.79" y="349.72" width="4.0" height="4.0" rx="0.9" fill="#2ca02c"/>
<rect x="83.56" y="351.88" width="4.0" height="4.0" rx="0.9" fill="#2ca02c"/>
<rect x="53.39" y="347.57" width="4.0" height="4.0" rx="0.9" fill="#2ca02c"/>
<rect x="56.08" y="348.65" width="4.0" height="4.0" rx="0.9" fill="#2ca02c"/>
<rect x="54.47" y="350.80" width="4.0" height="4.0" rx="0.9" fill="#2ca02c"/>
<rect x="58.78" y="350.80" width="4.0" height="4.0" rx="0.9" fill="#2ca02c"/>
<rect x="62.01" y="351.88" width="4.0" height="4.0" rx="0.9" fill="#2ca02c"/>
<rect x="63.09" y="354.03" width="4.0" height="4.0" rx="0.9" fill="#2ca02c"/>
<rect x="65.24" y="356.19" width="4.0" height="4.0" rx="0.9" fill="#2ca02c"/>
<rect x="92.18" y="355.11" width="4.0" height="4.0" rx="0.9" fill="#2ca02c"/>
<rect x="80.33" y="357.27" width="4.0" height="4.0" rx="0.9" fill="#2ca02c"/>
<rect x="94.80" y="295.00" width="4.0" height="4.0" rx="0.9" fill="#2ca02c"/>
<rect x="55.50" y="359.00" width="4.0" height="4.0" rx="0.9" fill="#2ca02c"/>
<rect x="81.40" y="358.40" width="4.0" height="4.0" rx="0.9" fill="#2ca02c"/>
<rect x="81.40" y="364.60" width="4.0" height="4.0" rx="0.9" fill="#2ca02c"/>
<rect x="64.80" y="358.00" width="4.0" height="4.0" rx="0.9" fill="#2ca02c"/>
<rect x="121.60" y="306.40" width="4.0" height="4.0" rx="0.9" fill="#2ca02c"/>
<rect x="116.40" y="313.60" width="4.0" height="4.0" rx="0.9" fill="#2ca02c"/>
<rect x="113.40" y="317.70" width="4.0" height="4.0" rx="0.9" fill="#2ca02c"/>
<rect x="110.30" y="322.90" width="4.0" height="4.0" rx="0.9" fill="#2ca02c"/>
<rect x="116.40" y="326.00" width="4.0" height="4.0" rx="0.9" fill="#2ca02c"/>
<rect x="121.60" y="331.10" width="4.0" height="4.0" rx="0.9" fill="#2ca02c"/>
<rect x="110.30" y="340.40" width="4.0" height="4.0" rx="0.9" fill="#2ca02c"/>
<rect x="116.40" y="339.40" width="4.0" height="4.0" rx="0.9" fill="#2ca02c"/>
<rect x="121.60" y="339.40" width="4.0" height="4.0" rx="0.9" fill="#2ca02c"/>
<rect x="114.40" y="347.60" width="4.0" height="4.0" rx="0.9" fill="#2ca02c"/>
<rect x="103.40" y="352.20" width="4.0" height="4.0" rx="0.9" fill="#2ca02c"/>
<rect x="55.36" y="346.17" width="4.0" height="4.0" rx="0.9" fill="#2ca02c"/>
<rect x="54.61" y="324.34" width="4.0" height="4.0" rx="0.9" fill="#2ca02c"/>
<rect x="59.77" y="333.79" width="4.0" height="4.0" rx="0.9" fill="#2ca02c"/>
<rect x="72.59" y="332.26" width="4.0" height="4.0" rx="0.9" fill="#2ca02c"/>
<rect x="62.63" y="327.17" width="4.0" height="4.0" rx="0.9" fill="#2ca02c"/>
<rect x="78.29" y="336.52" width="4.0" height="4.0" rx="0.9" fill="#2ca02c"/>
<rect x="57.73" y="334.82" width="4.0" height="4.0" rx="0.9" fill="#2ca02c"/>
<rect x="78.18" y="320.40" width="4.0" height="4.0" rx="0.9" fill="#2ca02c"/>
<rect x="75.25" y="319.94" width="4.0" height="4.0" rx="0.9" fill="#2ca02c"/>
<rect x="73.97" y="315.91" width="4.0" height="4.0" rx="0.9" fill="#2ca02c"/>
<rect x="61.58" y="336.13" width="4.0" height="4.0" rx="0.9" fill="#2ca02c"/>
<rect x="58.70" y="352.69" width="4.0" height="4.0" rx="0.9" fill="#2ca02c"/>
<rect x="62.36" y="324.43" width="4.0" height="4.0" rx="0.9" fill="#2ca02c"/>
<rect x="66.88" y="321.78" width="4.0" height="4.0" rx="0.9" fill="#2ca02c"/>
<rect x="69.24" y="342.04" width="4.0" height="4.0" rx="0.9" fill="#2ca02c"/>
<rect x="74.35" y="328.36" width="4.0" height="4.0" rx="0.9" fill="#2ca02c"/>
<rect x="77.78" y="342.89" width="4.0" height="4.0" rx="0.9" fill="#2ca02c"/>
<rect x="72.28" y="319.02" width="4.0" height="4.0" rx="0.9" fill="#2ca02c"/>
<rect x="64.83" y="348.98" width="4.0" height="4.0" rx="0.9" fill="#2ca02c"/>
<rect x="70.81" y="330.96" width="4.0" height="4.0" rx="0.9" fill="#2ca02c"/>
<rect x="79.15" y="349.25" width="4.0" height="4.0" rx="0.9" fill="#2ca02c"/>
<rect x="78.05" y="334.57" width="4.0" height="4.0" rx="0.9" fill="#2ca02c"/>
<rect x="76.08" y="338.73" width="4.0" height="4.0" rx="0.9" fill="#2ca02c"/>
<rect x="66.72" y="342.26" width="4.0" height="4.0" rx="0.9" fill="#2ca02c"/>
<rect x="62.57" y="331.85" width="4.0" height="4.0" rx="0.9" fill="#2ca02c"/>
<line x1="54.0" y1="339.7" x2="203.3" y2="322.8" stroke="#1f77b4" stroke-width="2.0" stroke-linecap="butt"/>
</g>
<text x="129.00" y="401.94" font-size="8.5" text-anchor="middle" font-weight="normal" fill="#1a1a1a" style="color:#1a1a1a">Subnetwork A activity</text>
<text x="7.44" y="325.50" font-size="8.5" text-anchor="middle" font-weight="normal" fill="#1a1a1a" transform="rotate(-90 7.443 325.5)" style="color:#1a1a1a">Strength of FP-DM connection</text>
<rect x="40.5" y="416.0" width="177.80" height="115.40" fill="#ececec"/>
<line x1="40.5" x2="218.3" y1="522.10" y2="522.10" stroke="#fff" stroke-width="1.35"/>
<line x1="40.5" x2="218.3" y1="507.27" y2="507.27" stroke="#fff" stroke-width="1.35"/>
<line x1="40.5" x2="218.3" y1="492.43" y2="492.43" stroke="#fff" stroke-width="1.35"/>
<line x1="40.5" x2="218.3" y1="477.60" y2="477.60" stroke="#fff" stroke-width="1.35"/>
<line x1="40.5" x2="218.3" y1="462.77" y2="462.77" stroke="#fff" stroke-width="1.35"/>
<line x1="40.5" x2="218.3" y1="447.93" y2="447.93" stroke="#fff" stroke-width="1.35"/>
<line x1="40.5" x2="218.3" y1="433.10" y2="433.10" stroke="#fff" stroke-width="1.35"/>
<line x1="40.5" x2="218.3" y1="418.27" y2="418.27" stroke="#fff" stroke-width="1.35"/>
<line y1="416.0" y2="531.4" x1="60.70" x2="60.70" stroke="#fff" stroke-width="1.35"/>
<line y1="416.0" y2="531.4" x1="92.67" x2="92.67" stroke="#fff" stroke-width="1.35"/>
<line y1="416.0" y2="531.4" x1="124.65" x2="124.65" stroke="#fff" stroke-width="1.35"/>
<line y1="416.0" y2="531.4" x1="156.62" x2="156.62" stroke="#fff" stroke-width="1.35"/>
<line y1="416.0" y2="531.4" x1="188.60" x2="188.60" stroke="#fff" stroke-width="1.35"/>
<text x="37.20" y="421.31" font-size="8.5" text-anchor="end" font-weight="normal" fill="#1a1a1a" style="color:#1a1a1a">0.15</text>
<text x="37.20" y="436.14" font-size="8.5" text-anchor="end" font-weight="normal" fill="#1a1a1a" style="color:#1a1a1a">0.1</text>
<text x="37.20" y="450.98" font-size="8.5" text-anchor="end" font-weight="normal" fill="#1a1a1a" style="color:#1a1a1a">0.05</text>
<text x="37.20" y="465.81" font-size="8.5" text-anchor="end" font-weight="normal" fill="#1a1a1a" style="color:#1a1a1a">0</text>
<text x="37.20" y="480.64" font-size="8.5" text-anchor="end" font-weight="normal" fill="#1a1a1a" style="color:#1a1a1a">−0.05</text>
<text x="37.20" y="495.48" font-size="8.5" text-anchor="end" font-weight="normal" fill="#1a1a1a" style="color:#1a1a1a">−0.1</text>
<text x="37.20" y="510.31" font-size="8.5" text-anchor="end" font-weight="normal" fill="#1a1a1a" style="color:#1a1a1a">−0.15</text>
<text x="37.20" y="525.14" font-size="8.5" text-anchor="end" font-weight="normal" fill="#1a1a1a" style="color:#1a1a1a">−0.2</text>
<text x="60.70" y="541.74" font-size="8.5" text-anchor="middle" font-weight="normal" fill="#1a1a1a" style="color:#1a1a1a">0.05</text>
<text x="92.67" y="541.74" font-size="8.5" text-anchor="middle" font-weight="normal" fill="#1a1a1a" style="color:#1a1a1a">0.01</text>
<text x="124.65" y="541.74" font-size="8.5" text-anchor="middle" font-weight="normal" fill="#1a1a1a" style="color:#1a1a1a">0.15</text>
<text x="156.62" y="541.74" font-size="8.5" text-anchor="middle" font-weight="normal" fill="#1a1a1a" style="color:#1a1a1a">0.2</text>
<text x="188.60" y="541.74" font-size="8.5" text-anchor="middle" font-weight="normal" fill="#1a1a1a" style="color:#1a1a1a">0.25</text>
<clipPath id="cl406"><rect x="40.5" y="416.0" width="177.8" height="115.39999999999998"/></clipPath>
<g clip-path="url(#cl406)">
<rect x="50.30" y="425.14" width="4.0" height="4.0" rx="0.9" fill="#ff7f0e"/>
<rect x="52.49" y="425.19" width="4.0" height="4.0" rx="0.9" fill="#ff7f0e"/>
<rect x="55.02" y="424.83" width="4.0" height="4.0" rx="0.9" fill="#ff7f0e"/>
<rect x="57.56" y="424.71" width="4.0" height="4.0" rx="0.9" fill="#ff7f0e"/>
<rect x="59.19" y="424.32" width="4.0" height="4.0" rx="0.9" fill="#ff7f0e"/>
<rect x="50.13" y="427.18" width="4.0" height="4.0" rx="0.9" fill="#ff7f0e"/>
<rect x="52.77" y="426.48" width="4.0" height="4.0" rx="0.9" fill="#ff7f0e"/>
<rect x="55.49" y="426.62" width="4.0" height="4.0" rx="0.9" fill="#ff7f0e"/>
<rect x="57.13" y="426.65" width="4.0" height="4.0" rx="0.9" fill="#ff7f0e"/>
<rect x="52.99" y="429.19" width="4.0" height="4.0" rx="0.9" fill="#ff7f0e"/>
<rect x="55.16" y="428.81" width="4.0" height="4.0" rx="0.9" fill="#ff7f0e"/>
<rect x="56.98" y="428.80" width="4.0" height="4.0" rx="0.9" fill="#ff7f0e"/>
<rect x="59.23" y="428.67" width="4.0" height="4.0" rx="0.9" fill="#ff7f0e"/>
<rect x="61.24" y="429.65" width="4.0" height="4.0" rx="0.9" fill="#ff7f0e"/>
<rect x="53.39" y="430.92" width="4.0" height="4.0" rx="0.9" fill="#ff7f0e"/>
<rect x="54.47" y="430.94" width="4.0" height="4.0" rx="0.9" fill="#ff7f0e"/>
<rect x="57.48" y="431.63" width="4.0" height="4.0" rx="0.9" fill="#ff7f0e"/>
<rect x="58.86" y="431.39" width="4.0" height="4.0" rx="0.9" fill="#ff7f0e"/>
<rect x="61.04" y="431.31" width="4.0" height="4.0" rx="0.9" fill="#ff7f0e"/>
<rect x="53.00" y="434.08" width="4.0" height="4.0" rx="0.9" fill="#ff7f0e"/>
<rect x="54.75" y="433.86" width="4.0" height="4.0" rx="0.9" fill="#ff7f0e"/>
<rect x="57.68" y="434.00" width="4.0" height="4.0" rx="0.9" fill="#ff7f0e"/>
<rect x="58.84" y="433.46" width="4.0" height="4.0" rx="0.9" fill="#ff7f0e"/>
<rect x="62.21" y="433.37" width="4.0" height="4.0" rx="0.9" fill="#ff7f0e"/>
<rect x="53.21" y="435.75" width="4.0" height="4.0" rx="0.9" fill="#ff7f0e"/>
<rect x="55.36" y="435.67" width="4.0" height="4.0" rx="0.9" fill="#ff7f0e"/>
<rect x="56.67" y="435.20" width="4.0" height="4.0" rx="0.9" fill="#ff7f0e"/>
<rect x="58.97" y="435.39" width="4.0" height="4.0" rx="0.9" fill="#ff7f0e"/>
<rect x="62.19" y="435.85" width="4.0" height="4.0" rx="0.9" fill="#ff7f0e"/>
<rect x="53.22" y="437.97" width="4.0" height="4.0" rx="0.9" fill="#ff7f0e"/>
<rect x="55.20" y="438.27" width="4.0" height="4.0" rx="0.9" fill="#ff7f0e"/>
<rect x="57.75" y="438.39" width="4.0" height="4.0" rx="0.9" fill="#ff7f0e"/>
<rect x="59.83" y="437.41" width="4.0" height="4.0" rx="0.9" fill="#ff7f0e"/>
<rect x="61.47" y="437.33" width="4.0" height="4.0" rx="0.9" fill="#ff7f0e"/>
<rect x="63.89" y="438.25" width="4.0" height="4.0" rx="0.9" fill="#ff7f0e"/>
<rect x="65.50" y="437.52" width="4.0" height="4.0" rx="0.9" fill="#ff7f0e"/>
<rect x="72.48" y="437.59" width="4.0" height="4.0" rx="0.9" fill="#ff7f0e"/>
<rect x="57.59" y="439.91" width="4.0" height="4.0" rx="0.9" fill="#ff7f0e"/>
<rect x="59.60" y="440.08" width="4.0" height="4.0" rx="0.9" fill="#ff7f0e"/>
<rect x="61.74" y="440.62" width="4.0" height="4.0" rx="0.9" fill="#ff7f0e"/>
<rect x="64.37" y="439.63" width="4.0" height="4.0" rx="0.9" fill="#ff7f0e"/>
<rect x="66.45" y="439.91" width="4.0" height="4.0" rx="0.9" fill="#ff7f0e"/>
<rect x="67.76" y="439.95" width="4.0" height="4.0" rx="0.9" fill="#ff7f0e"/>
<rect x="70.45" y="440.65" width="4.0" height="4.0" rx="0.9" fill="#ff7f0e"/>
<rect x="72.48" y="439.51" width="4.0" height="4.0" rx="0.9" fill="#ff7f0e"/>
<rect x="89.27" y="426.98" width="4.0" height="4.0" rx="0.9" fill="#ff7f0e"/>
<rect x="73.10" y="429.68" width="4.0" height="4.0" rx="0.9" fill="#ff7f0e"/>
<rect x="93.76" y="440.01" width="4.0" height="4.0" rx="0.9" fill="#ff7f0e"/>
<rect x="77.59" y="439.11" width="4.0" height="4.0" rx="0.9" fill="#ff7f0e"/>
<rect x="81.19" y="442.26" width="4.0" height="4.0" rx="0.9" fill="#ff7f0e"/>
<rect x="84.33" y="444.50" width="4.0" height="4.0" rx="0.9" fill="#ff7f0e"/>
<rect x="57.82" y="447.65" width="4.0" height="4.0" rx="0.9" fill="#ff7f0e"/>
<rect x="65.91" y="449.00" width="4.0" height="4.0" rx="0.9" fill="#ff7f0e"/>
<rect x="66.81" y="452.14" width="4.0" height="4.0" rx="0.9" fill="#ff7f0e"/>
<rect x="71.75" y="453.04" width="4.0" height="4.0" rx="0.9" fill="#ff7f0e"/>
<rect x="74.45" y="456.19" width="4.0" height="4.0" rx="0.9" fill="#ff7f0e"/>
<rect x="78.04" y="449.45" width="4.0" height="4.0" rx="0.9" fill="#ff7f0e"/>
<rect x="79.84" y="454.84" width="4.0" height="4.0" rx="0.9" fill="#ff7f0e"/>
<rect x="80.29" y="459.33" width="4.0" height="4.0" rx="0.9" fill="#ff7f0e"/>
<rect x="83.43" y="451.24" width="4.0" height="4.0" rx="0.9" fill="#ff7f0e"/>
<rect x="86.13" y="453.04" width="4.0" height="4.0" rx="0.9" fill="#ff7f0e"/>
<rect x="85.23" y="455.74" width="4.0" height="4.0" rx="0.9" fill="#ff7f0e"/>
<rect x="88.82" y="454.39" width="4.0" height="4.0" rx="0.9" fill="#ff7f0e"/>
<rect x="87.03" y="461.58" width="4.0" height="4.0" rx="0.9" fill="#ff7f0e"/>
<rect x="90.62" y="464.27" width="4.0" height="4.0" rx="0.9" fill="#ff7f0e"/>
<rect x="90.17" y="448.55" width="4.0" height="4.0" rx="0.9" fill="#ff7f0e"/>
<rect x="96.91" y="454.84" width="4.0" height="4.0" rx="0.9" fill="#ff7f0e"/>
<rect x="98.71" y="449.45" width="4.0" height="4.0" rx="0.9" fill="#ff7f0e"/>
<rect x="99.60" y="459.33" width="4.0" height="4.0" rx="0.9" fill="#ff7f0e"/>
<rect x="97.81" y="460.23" width="4.0" height="4.0" rx="0.9" fill="#ff7f0e"/>
<rect x="60.97" y="442.26" width="4.0" height="4.0" rx="0.9" fill="#ff7f0e"/>
<rect x="69.06" y="444.95" width="4.0" height="4.0" rx="0.9" fill="#ff7f0e"/>
<rect x="72.65" y="446.75" width="4.0" height="4.0" rx="0.9" fill="#ff7f0e"/>
<rect x="75.35" y="444.95" width="4.0" height="4.0" rx="0.9" fill="#ff7f0e"/>
<rect x="99.35" y="449.56" width="4.0" height="4.0" rx="0.9" fill="#ff7f0e"/>
<rect x="100.70" y="451.36" width="4.0" height="4.0" rx="0.9" fill="#ff7f0e"/>
<rect x="98.90" y="456.75" width="4.0" height="4.0" rx="0.9" fill="#ff7f0e"/>
<rect x="99.35" y="459.45" width="4.0" height="4.0" rx="0.9" fill="#ff7f0e"/>
<rect x="103.39" y="460.79" width="4.0" height="4.0" rx="0.9" fill="#ff7f0e"/>
<rect x="111.48" y="447.32" width="4.0" height="4.0" rx="0.9" fill="#ff7f0e"/>
<rect x="111.30" y="450.46" width="4.0" height="4.0" rx="0.9" fill="#ff7f0e"/>
<rect x="111.48" y="452.26" width="4.0" height="4.0" rx="0.9" fill="#ff7f0e"/>
<rect x="116.87" y="449.56" width="4.0" height="4.0" rx="0.9" fill="#ff7f0e"/>
<rect x="109.23" y="457.65" width="4.0" height="4.0" rx="0.9" fill="#ff7f0e"/>
<rect x="108.33" y="460.79" width="4.0" height="4.0" rx="0.9" fill="#ff7f0e"/>
<rect x="109.68" y="459.00" width="4.0" height="4.0" rx="0.9" fill="#ff7f0e"/>
<rect x="106.09" y="466.63" width="4.0" height="4.0" rx="0.9" fill="#ff7f0e"/>
<rect x="106.54" y="469.33" width="4.0" height="4.0" rx="0.9" fill="#ff7f0e"/>
<rect x="110.58" y="465.74" width="4.0" height="4.0" rx="0.9" fill="#ff7f0e"/>
<rect x="110.58" y="472.03" width="4.0" height="4.0" rx="0.9" fill="#ff7f0e"/>
<rect x="115.97" y="462.14" width="4.0" height="4.0" rx="0.9" fill="#ff7f0e"/>
<rect x="118.22" y="468.88" width="4.0" height="4.0" rx="0.9" fill="#ff7f0e"/>
<rect x="119.56" y="465.74" width="4.0" height="4.0" rx="0.9" fill="#ff7f0e"/>
<rect x="120.91" y="463.49" width="4.0" height="4.0" rx="0.9" fill="#ff7f0e"/>
<rect x="120.91" y="456.75" width="4.0" height="4.0" rx="0.9" fill="#ff7f0e"/>
<rect x="122.71" y="457.65" width="4.0" height="4.0" rx="0.9" fill="#ff7f0e"/>
<rect x="124.95" y="458.55" width="4.0" height="4.0" rx="0.9" fill="#ff7f0e"/>
<rect x="127.65" y="459.00" width="4.0" height="4.0" rx="0.9" fill="#ff7f0e"/>
<rect x="130.35" y="459.45" width="4.0" height="4.0" rx="0.9" fill="#ff7f0e"/>
<rect x="122.26" y="471.13" width="4.0" height="4.0" rx="0.9" fill="#ff7f0e"/>
<rect x="124.95" y="467.98" width="4.0" height="4.0" rx="0.9" fill="#ff7f0e"/>
<rect x="125.40" y="473.37" width="4.0" height="4.0" rx="0.9" fill="#ff7f0e"/>
<rect x="129.90" y="466.63" width="4.0" height="4.0" rx="0.9" fill="#ff7f0e"/>
<rect x="129.45" y="468.43" width="4.0" height="4.0" rx="0.9" fill="#ff7f0e"/>
<rect x="133.94" y="467.53" width="4.0" height="4.0" rx="0.9" fill="#ff7f0e"/>
<rect x="135.74" y="469.78" width="4.0" height="4.0" rx="0.9" fill="#ff7f0e"/>
<rect x="139.33" y="464.84" width="4.0" height="4.0" rx="0.9" fill="#ff7f0e"/>
<rect x="141.13" y="470.68" width="4.0" height="4.0" rx="0.9" fill="#ff7f0e"/>
<rect x="133.94" y="476.52" width="4.0" height="4.0" rx="0.9" fill="#ff7f0e"/>
<rect x="124.95" y="477.42" width="4.0" height="4.0" rx="0.9" fill="#ff7f0e"/>
<rect x="149.21" y="466.63" width="4.0" height="4.0" rx="0.9" fill="#ff7f0e"/>
<rect x="151.01" y="456.75" width="4.0" height="4.0" rx="0.9" fill="#ff7f0e"/>
<rect x="152.36" y="453.16" width="4.0" height="4.0" rx="0.9" fill="#ff7f0e"/>
<rect x="151.91" y="463.04" width="4.0" height="4.0" rx="0.9" fill="#ff7f0e"/>
<rect x="153.71" y="465.74" width="4.0" height="4.0" rx="0.9" fill="#ff7f0e"/>
<rect x="155.50" y="463.94" width="4.0" height="4.0" rx="0.9" fill="#ff7f0e"/>
<rect x="154.60" y="469.33" width="4.0" height="4.0" rx="0.9" fill="#ff7f0e"/>
<rect x="146.52" y="472.03" width="4.0" height="4.0" rx="0.9" fill="#ff7f0e"/>
<rect x="150.11" y="474.72" width="4.0" height="4.0" rx="0.9" fill="#ff7f0e"/>
<rect x="153.71" y="475.62" width="4.0" height="4.0" rx="0.9" fill="#ff7f0e"/>
<rect x="144.72" y="476.52" width="4.0" height="4.0" rx="0.9" fill="#ff7f0e"/>
<rect x="153.00" y="453.08" width="4.0" height="4.0" rx="0.9" fill="#ff7f0e"/>
<rect x="159.46" y="457.93" width="4.0" height="4.0" rx="0.9" fill="#ff7f0e"/>
<rect x="173.47" y="453.08" width="4.0" height="4.0" rx="0.9" fill="#ff7f0e"/>
<rect x="174.54" y="458.47" width="4.0" height="4.0" rx="0.9" fill="#ff7f0e"/>
<rect x="167.54" y="460.08" width="4.0" height="4.0" rx="0.9" fill="#ff7f0e"/>
<rect x="156.23" y="463.32" width="4.0" height="4.0" rx="0.9" fill="#ff7f0e"/>
<rect x="154.08" y="464.93" width="4.0" height="4.0" rx="0.9" fill="#ff7f0e"/>
<rect x="154.62" y="468.70" width="4.0" height="4.0" rx="0.9" fill="#ff7f0e"/>
<rect x="163.77" y="466.87" width="4.0" height="4.0" rx="0.9" fill="#ff7f0e"/>
<rect x="169.16" y="465.79" width="4.0" height="4.0" rx="0.9" fill="#ff7f0e"/>
<rect x="171.31" y="468.16" width="4.0" height="4.0" rx="0.9" fill="#ff7f0e"/>
<rect x="174.01" y="469.24" width="4.0" height="4.0" rx="0.9" fill="#ff7f0e"/>
<rect x="162.16" y="472.47" width="4.0" height="4.0" rx="0.9" fill="#ff7f0e"/>
<rect x="153.54" y="476.24" width="4.0" height="4.0" rx="0.9" fill="#ff7f0e"/>
<rect x="182.62" y="468.70" width="4.0" height="4.0" rx="0.9" fill="#ff7f0e"/>
<rect x="185.32" y="466.01" width="4.0" height="4.0" rx="0.9" fill="#ff7f0e"/>
<rect x="188.55" y="466.55" width="4.0" height="4.0" rx="0.9" fill="#ff7f0e"/>
<rect x="190.70" y="469.78" width="4.0" height="4.0" rx="0.9" fill="#ff7f0e"/>
<rect x="187.47" y="472.47" width="4.0" height="4.0" rx="0.9" fill="#ff7f0e"/>
<rect x="191.78" y="473.55" width="4.0" height="4.0" rx="0.9" fill="#ff7f0e"/>
<rect x="193.40" y="475.70" width="4.0" height="4.0" rx="0.9" fill="#ff7f0e"/>
<rect x="196.09" y="475.70" width="4.0" height="4.0" rx="0.9" fill="#ff7f0e"/>
<rect x="202.01" y="466.55" width="4.0" height="4.0" rx="0.9" fill="#ff7f0e"/>
<rect x="178.32" y="476.78" width="4.0" height="4.0" rx="0.9" fill="#ff7f0e"/>
<rect x="181.01" y="478.40" width="4.0" height="4.0" rx="0.9" fill="#ff7f0e"/>
<rect x="183.70" y="478.94" width="4.0" height="4.0" rx="0.9" fill="#ff7f0e"/>
<rect x="172.39" y="483.24" width="4.0" height="4.0" rx="0.9" fill="#ff7f0e"/>
<rect x="169.70" y="484.32" width="4.0" height="4.0" rx="0.9" fill="#ff7f0e"/>
<rect x="178.85" y="484.86" width="4.0" height="4.0" rx="0.9" fill="#ff7f0e"/>
<rect x="182.09" y="487.55" width="4.0" height="4.0" rx="0.9" fill="#ff7f0e"/>
<rect x="187.47" y="485.40" width="4.0" height="4.0" rx="0.9" fill="#ff7f0e"/>
<rect x="164.31" y="488.09" width="4.0" height="4.0" rx="0.9" fill="#ff7f0e"/>
<rect x="165.93" y="491.86" width="4.0" height="4.0" rx="0.9" fill="#ff7f0e"/>
<rect x="173.47" y="491.86" width="4.0" height="4.0" rx="0.9" fill="#ff7f0e"/>
<rect x="184.24" y="497.79" width="4.0" height="4.0" rx="0.9" fill="#ff7f0e"/>
<rect x="105.88" y="468.88" width="4.0" height="4.0" rx="0.9" fill="#ff7f0e"/>
<rect x="110.26" y="471.50" width="4.0" height="4.0" rx="0.9" fill="#ff7f0e"/>
<rect x="118.15" y="468.88" width="4.0" height="4.0" rx="0.9" fill="#ff7f0e"/>
<rect x="124.28" y="469.75" width="4.0" height="4.0" rx="0.9" fill="#ff7f0e"/>
<rect x="125.15" y="473.26" width="4.0" height="4.0" rx="0.9" fill="#ff7f0e"/>
<rect x="129.53" y="468.00" width="4.0" height="4.0" rx="0.9" fill="#ff7f0e"/>
<rect x="135.67" y="468.88" width="4.0" height="4.0" rx="0.9" fill="#ff7f0e"/>
<rect x="140.92" y="470.63" width="4.0" height="4.0" rx="0.9" fill="#ff7f0e"/>
<rect x="147.93" y="471.50" width="4.0" height="4.0" rx="0.9" fill="#ff7f0e"/>
<rect x="154.06" y="468.88" width="4.0" height="4.0" rx="0.9" fill="#ff7f0e"/>
<rect x="161.95" y="472.38" width="4.0" height="4.0" rx="0.9" fill="#ff7f0e"/>
<rect x="170.70" y="468.88" width="4.0" height="4.0" rx="0.9" fill="#ff7f0e"/>
<rect x="173.33" y="468.88" width="4.0" height="4.0" rx="0.9" fill="#ff7f0e"/>
<rect x="182.97" y="468.88" width="4.0" height="4.0" rx="0.9" fill="#ff7f0e"/>
<rect x="189.10" y="471.50" width="4.0" height="4.0" rx="0.9" fill="#ff7f0e"/>
<rect x="190.85" y="469.75" width="4.0" height="4.0" rx="0.9" fill="#ff7f0e"/>
<rect x="193.48" y="475.01" width="4.0" height="4.0" rx="0.9" fill="#ff7f0e"/>
<rect x="196.11" y="475.36" width="4.0" height="4.0" rx="0.9" fill="#ff7f0e"/>
<rect x="133.91" y="476.76" width="4.0" height="4.0" rx="0.9" fill="#ff7f0e"/>
<rect x="144.43" y="476.76" width="4.0" height="4.0" rx="0.9" fill="#ff7f0e"/>
<rect x="148.81" y="475.88" width="4.0" height="4.0" rx="0.9" fill="#ff7f0e"/>
<rect x="152.31" y="476.76" width="4.0" height="4.0" rx="0.9" fill="#ff7f0e"/>
<rect x="125.15" y="478.86" width="4.0" height="4.0" rx="0.9" fill="#ff7f0e"/>
<rect x="140.92" y="482.02" width="4.0" height="4.0" rx="0.9" fill="#ff7f0e"/>
<rect x="126.03" y="484.64" width="4.0" height="4.0" rx="0.9" fill="#ff7f0e"/>
<rect x="130.41" y="484.64" width="4.0" height="4.0" rx="0.9" fill="#ff7f0e"/>
<rect x="130.41" y="486.40" width="4.0" height="4.0" rx="0.9" fill="#ff7f0e"/>
<rect x="118.67" y="487.62" width="4.0" height="4.0" rx="0.9" fill="#ff7f0e"/>
<rect x="142.67" y="488.67" width="4.0" height="4.0" rx="0.9" fill="#ff7f0e"/>
<rect x="147.05" y="486.40" width="4.0" height="4.0" rx="0.9" fill="#ff7f0e"/>
<rect x="149.68" y="483.42" width="4.0" height="4.0" rx="0.9" fill="#ff7f0e"/>
<rect x="163.70" y="487.62" width="4.0" height="4.0" rx="0.9" fill="#ff7f0e"/>
<rect x="165.45" y="491.65" width="4.0" height="4.0" rx="0.9" fill="#ff7f0e"/>
<rect x="169.83" y="484.12" width="4.0" height="4.0" rx="0.9" fill="#ff7f0e"/>
<rect x="173.33" y="483.42" width="4.0" height="4.0" rx="0.9" fill="#ff7f0e"/>
<rect x="173.33" y="491.65" width="4.0" height="4.0" rx="0.9" fill="#ff7f0e"/>
<rect x="178.59" y="476.76" width="4.0" height="4.0" rx="0.9" fill="#ff7f0e"/>
<rect x="182.09" y="478.86" width="4.0" height="4.0" rx="0.9" fill="#ff7f0e"/>
<rect x="183.84" y="479.39" width="4.0" height="4.0" rx="0.9" fill="#ff7f0e"/>
<rect x="179.46" y="485.17" width="4.0" height="4.0" rx="0.9" fill="#ff7f0e"/>
<rect x="182.09" y="487.62" width="4.0" height="4.0" rx="0.9" fill="#ff7f0e"/>
<rect x="187.35" y="485.52" width="4.0" height="4.0" rx="0.9" fill="#ff7f0e"/>
<rect x="184.37" y="499.01" width="4.0" height="4.0" rx="0.9" fill="#ff7f0e"/>
<rect x="163.70" y="520.03" width="4.0" height="4.0" rx="0.9" fill="#ff7f0e"/>
<rect x="66.10" y="453.00" width="4.0" height="4.0" rx="0.9" fill="#ff7f0e"/>
<rect x="71.72" y="453.51" width="4.0" height="4.0" rx="0.9" fill="#ff7f0e"/>
<rect x="74.79" y="456.07" width="4.0" height="4.0" rx="0.9" fill="#ff7f0e"/>
<rect x="79.90" y="455.04" width="4.0" height="4.0" rx="0.9" fill="#ff7f0e"/>
<rect x="80.41" y="459.64" width="4.0" height="4.0" rx="0.9" fill="#ff7f0e"/>
<rect x="85.01" y="454.02" width="4.0" height="4.0" rx="0.9" fill="#ff7f0e"/>
<rect x="86.54" y="457.09" width="4.0" height="4.0" rx="0.9" fill="#ff7f0e"/>
<rect x="89.09" y="454.02" width="4.0" height="4.0" rx="0.9" fill="#ff7f0e"/>
<rect x="87.56" y="461.69" width="4.0" height="4.0" rx="0.9" fill="#ff7f0e"/>
<rect x="90.63" y="464.24" width="4.0" height="4.0" rx="0.9" fill="#ff7f0e"/>
<rect x="89.60" y="468.84" width="4.0" height="4.0" rx="0.9" fill="#ff7f0e"/>
<rect x="92.67" y="468.84" width="4.0" height="4.0" rx="0.9" fill="#ff7f0e"/>
<rect x="95.74" y="456.07" width="4.0" height="4.0" rx="0.9" fill="#ff7f0e"/>
<rect x="98.80" y="458.62" width="4.0" height="4.0" rx="0.9" fill="#ff7f0e"/>
<rect x="99.31" y="460.66" width="4.0" height="4.0" rx="0.9" fill="#ff7f0e"/>
<rect x="103.40" y="460.66" width="4.0" height="4.0" rx="0.9" fill="#ff7f0e"/>
<rect x="105.95" y="466.28" width="4.0" height="4.0" rx="0.9" fill="#ff7f0e"/>
<rect x="106.47" y="468.84" width="4.0" height="4.0" rx="0.9" fill="#ff7f0e"/>
<rect x="107.49" y="461.17" width="4.0" height="4.0" rx="0.9" fill="#ff7f0e"/>
<line x1="54.3" y1="439.0" x2="204.5" y2="490.4" stroke="#1f77b4" stroke-width="2.0" stroke-linecap="butt"/>
</g>
<text x="129.30" y="555.24" font-size="8.5" text-anchor="middle" font-weight="normal" fill="#1a1a1a" style="color:#1a1a1a">Subnetwork B activity</text>
<text x="7.14" y="474.00" font-size="8.5" text-anchor="middle" font-weight="normal" fill="#1a1a1a" transform="rotate(-90 7.142999999999999 474.0)" style="color:#1a1a1a">Strength of FP-DM connection</text>
<text x="234.50" y="259.80" font-size="14" text-anchor="start" font-weight="bold" fill="#000" style="color:#000">d</text>
<text x="366.00" y="260.88" font-size="10" text-anchor="middle" font-weight="normal" fill="#1a1a1a" style="color:#1a1a1a">192 units</text>
<rect x="275.8" y="263.7" width="176.40" height="114.00" fill="#ececec"/>
<line x1="275.8" x2="452.2" y1="372.20" y2="372.20" stroke="#fff" stroke-width="1.35"/>
<line x1="275.8" x2="452.2" y1="357.23" y2="357.23" stroke="#fff" stroke-width="1.35"/>
<line x1="275.8" x2="452.2" y1="342.26" y2="342.26" stroke="#fff" stroke-width="1.35"/>
<line x1="275.8" x2="452.2" y1="327.29" y2="327.29" stroke="#fff" stroke-width="1.35"/>
<line x1="275.8" x2="452.2" y1="312.31" y2="312.31" stroke="#fff" stroke-width="1.35"/>
<line x1="275.8" x2="452.2" y1="297.34" y2="297.34" stroke="#fff" stroke-width="1.35"/>
<line x1="275.8" x2="452.2" y1="282.37" y2="282.37" stroke="#fff" stroke-width="1.35"/>
<line x1="275.8" x2="452.2" y1="267.40" y2="267.40" stroke="#fff" stroke-width="1.35"/>
<line y1="263.7" y2="377.7" x1="283.00" x2="283.00" stroke="#fff" stroke-width="1.35"/>
<line y1="263.7" y2="377.7" x1="319.00" x2="319.00" stroke="#fff" stroke-width="1.35"/>
<line y1="263.7" y2="377.7" x1="355.00" x2="355.00" stroke="#fff" stroke-width="1.35"/>
<line y1="263.7" y2="377.7" x1="391.00" x2="391.00" stroke="#fff" stroke-width="1.35"/>
<line y1="263.7" y2="377.7" x1="427.00" x2="427.00" stroke="#fff" stroke-width="1.35"/>
<text x="271.70" y="270.44" font-size="8.5" text-anchor="end" font-weight="normal" fill="#1a1a1a" style="color:#1a1a1a">0.12</text>
<text x="271.70" y="285.41" font-size="8.5" text-anchor="end" font-weight="normal" fill="#1a1a1a" style="color:#1a1a1a">0.10</text>
<text x="271.70" y="300.39" font-size="8.5" text-anchor="end" font-weight="normal" fill="#1a1a1a" style="color:#1a1a1a">0.08</text>
<text x="271.70" y="315.36" font-size="8.5" text-anchor="end" font-weight="normal" fill="#1a1a1a" style="color:#1a1a1a">0.06</text>
<text x="271.70" y="330.33" font-size="8.5" text-anchor="end" font-weight="normal" fill="#1a1a1a" style="color:#1a1a1a">0.04</text>
<text x="271.70" y="345.30" font-size="8.5" text-anchor="end" font-weight="normal" fill="#1a1a1a" style="color:#1a1a1a">0.02</text>
<text x="271.70" y="360.27" font-size="8.5" text-anchor="end" font-weight="normal" fill="#1a1a1a" style="color:#1a1a1a">0</text>
<text x="271.70" y="375.24" font-size="8.5" text-anchor="end" font-weight="normal" fill="#1a1a1a" style="color:#1a1a1a">−0.02</text>
<text x="283.00" y="388.44" font-size="8.5" text-anchor="middle" font-weight="normal" fill="#1a1a1a" style="color:#1a1a1a">0</text>
<text x="319.00" y="388.44" font-size="8.5" text-anchor="middle" font-weight="normal" fill="#1a1a1a" style="color:#1a1a1a">2</text>
<text x="355.00" y="388.44" font-size="8.5" text-anchor="middle" font-weight="normal" fill="#1a1a1a" style="color:#1a1a1a">4</text>
<text x="391.00" y="388.44" font-size="8.5" text-anchor="middle" font-weight="normal" fill="#1a1a1a" style="color:#1a1a1a">6</text>
<text x="427.00" y="388.44" font-size="8.5" text-anchor="middle" font-weight="normal" fill="#1a1a1a" style="color:#1a1a1a">8</text>
<clipPath id="cl660"><rect x="275.8" y="263.7" width="176.39999999999998" height="114.0"/></clipPath>
<g clip-path="url(#cl660)">
<circle cx="293.24" cy="311.63" r="2.4" fill="#2ca02c"/>
<circle cx="306.70" cy="308.08" r="2.4" fill="#2ca02c"/>
<circle cx="311.55" cy="310.45" r="2.4" fill="#2ca02c"/>
<circle cx="292.16" cy="321.01" r="2.4" fill="#2ca02c"/>
<circle cx="291.08" cy="326.39" r="2.4" fill="#2ca02c"/>
<circle cx="286.77" cy="330.70" r="2.4" fill="#2ca02c"/>
<circle cx="288.93" cy="331.24" r="2.4" fill="#2ca02c"/>
<circle cx="286.23" cy="335.55" r="2.4" fill="#2ca02c"/>
<circle cx="288.93" cy="335.55" r="2.4" fill="#2ca02c"/>
<circle cx="285.70" cy="338.78" r="2.4" fill="#2ca02c"/>
<circle cx="287.85" cy="340.94" r="2.4" fill="#2ca02c"/>
<circle cx="286.77" cy="343.09" r="2.4" fill="#2ca02c"/>
<circle cx="288.93" cy="344.17" r="2.4" fill="#2ca02c"/>
<circle cx="292.16" cy="345.78" r="2.4" fill="#2ca02c"/>
<circle cx="283.00" cy="349.01" r="2.4" fill="#2ca02c"/>
<circle cx="285.16" cy="350.63" r="2.4" fill="#2ca02c"/>
<circle cx="291.08" cy="349.55" r="2.4" fill="#2ca02c"/>
<circle cx="283.54" cy="358.71" r="2.4" fill="#2ca02c"/>
<circle cx="299.70" cy="317.77" r="2.4" fill="#2ca02c"/>
<circle cx="301.85" cy="318.31" r="2.4" fill="#2ca02c"/>
<circle cx="303.47" cy="320.47" r="2.4" fill="#2ca02c"/>
<circle cx="307.78" cy="318.85" r="2.4" fill="#2ca02c"/>
<circle cx="300.78" cy="322.62" r="2.4" fill="#2ca02c"/>
<circle cx="299.16" cy="325.85" r="2.4" fill="#2ca02c"/>
<circle cx="300.24" cy="328.01" r="2.4" fill="#2ca02c"/>
<circle cx="297.54" cy="328.55" r="2.4" fill="#2ca02c"/>
<circle cx="301.85" cy="332.32" r="2.4" fill="#2ca02c"/>
<circle cx="294.31" cy="331.24" r="2.4" fill="#2ca02c"/>
<circle cx="298.62" cy="338.24" r="2.4" fill="#2ca02c"/>
<circle cx="299.70" cy="339.86" r="2.4" fill="#2ca02c"/>
<circle cx="307.78" cy="338.78" r="2.4" fill="#2ca02c"/>
<circle cx="311.55" cy="337.16" r="2.4" fill="#2ca02c"/>
<circle cx="308.32" cy="327.47" r="2.4" fill="#2ca02c"/>
<circle cx="310.47" cy="329.09" r="2.4" fill="#2ca02c"/>
<circle cx="313.16" cy="318.85" r="2.4" fill="#2ca02c"/>
<circle cx="314.24" cy="321.01" r="2.4" fill="#2ca02c"/>
<circle cx="316.94" cy="317.24" r="2.4" fill="#2ca02c"/>
<circle cx="320.71" cy="314.00" r="2.4" fill="#2ca02c"/>
<circle cx="319.09" cy="316.16" r="2.4" fill="#2ca02c"/>
<circle cx="318.01" cy="319.93" r="2.4" fill="#2ca02c"/>
<circle cx="323.40" cy="318.31" r="2.4" fill="#2ca02c"/>
<circle cx="325.55" cy="316.16" r="2.4" fill="#2ca02c"/>
<circle cx="328.25" cy="313.47" r="2.4" fill="#2ca02c"/>
<circle cx="326.63" cy="320.47" r="2.4" fill="#2ca02c"/>
<circle cx="322.32" cy="321.54" r="2.4" fill="#2ca02c"/>
<circle cx="321.24" cy="324.78" r="2.4" fill="#2ca02c"/>
<circle cx="316.94" cy="326.93" r="2.4" fill="#2ca02c"/>
<circle cx="319.09" cy="329.09" r="2.4" fill="#2ca02c"/>
<circle cx="323.40" cy="328.01" r="2.4" fill="#2ca02c"/>
<circle cx="326.63" cy="328.01" r="2.4" fill="#2ca02c"/>
<circle cx="328.78" cy="328.01" r="2.4" fill="#2ca02c"/>
<circle cx="327.71" cy="331.24" r="2.4" fill="#2ca02c"/>
<circle cx="321.24" cy="331.24" r="2.4" fill="#2ca02c"/>
<circle cx="319.09" cy="334.47" r="2.4" fill="#2ca02c"/>
<circle cx="326.63" cy="336.63" r="2.4" fill="#2ca02c"/>
<circle cx="318.01" cy="341.47" r="2.4" fill="#2ca02c"/>
<circle cx="320.17" cy="340.94" r="2.4" fill="#2ca02c"/>
<circle cx="352.16" cy="294.24" r="2.4" fill="#2ca02c"/>
<circle cx="343.00" cy="297.47" r="2.4" fill="#2ca02c"/>
<circle cx="345.70" cy="299.09" r="2.4" fill="#2ca02c"/>
<circle cx="348.93" cy="300.70" r="2.4" fill="#2ca02c"/>
<circle cx="345.16" cy="302.86" r="2.4" fill="#2ca02c"/>
<circle cx="337.62" cy="309.86" r="2.4" fill="#2ca02c"/>
<circle cx="341.92" cy="310.94" r="2.4" fill="#2ca02c"/>
<circle cx="343.54" cy="314.17" r="2.4" fill="#2ca02c"/>
<circle cx="343.00" cy="317.40" r="2.4" fill="#2ca02c"/>
<circle cx="344.08" cy="321.71" r="2.4" fill="#2ca02c"/>
<circle cx="355.39" cy="310.94" r="2.4" fill="#2ca02c"/>
<circle cx="358.62" cy="312.01" r="2.4" fill="#2ca02c"/>
<circle cx="361.85" cy="308.78" r="2.4" fill="#2ca02c"/>
<circle cx="364.01" cy="310.94" r="2.4" fill="#2ca02c"/>
<circle cx="365.62" cy="313.09" r="2.4" fill="#2ca02c"/>
<circle cx="366.16" cy="317.40" r="2.4" fill="#2ca02c"/>
<circle cx="359.70" cy="319.55" r="2.4" fill="#2ca02c"/>
<circle cx="354.85" cy="317.40" r="2.4" fill="#2ca02c"/>
<circle cx="369.39" cy="305.55" r="2.4" fill="#2ca02c"/>
<circle cx="371.55" cy="307.70" r="2.4" fill="#2ca02c"/>
<circle cx="373.70" cy="302.32" r="2.4" fill="#2ca02c"/>
<circle cx="375.86" cy="304.47" r="2.4" fill="#2ca02c"/>
<circle cx="379.09" cy="303.39" r="2.4" fill="#2ca02c"/>
<circle cx="381.24" cy="305.55" r="2.4" fill="#2ca02c"/>
<circle cx="383.40" cy="304.47" r="2.4" fill="#2ca02c"/>
<circle cx="373.16" cy="310.40" r="2.4" fill="#2ca02c"/>
<circle cx="376.94" cy="311.47" r="2.4" fill="#2ca02c"/>
<circle cx="379.09" cy="313.09" r="2.4" fill="#2ca02c"/>
<circle cx="378.55" cy="316.32" r="2.4" fill="#2ca02c"/>
<circle cx="373.70" cy="317.40" r="2.4" fill="#2ca02c"/>
<circle cx="371.55" cy="319.55" r="2.4" fill="#2ca02c"/>
<circle cx="370.47" cy="322.78" r="2.4" fill="#2ca02c"/>
<circle cx="378.01" cy="321.71" r="2.4" fill="#2ca02c"/>
<circle cx="384.48" cy="309.86" r="2.4" fill="#2ca02c"/>
<circle cx="386.63" cy="314.17" r="2.4" fill="#2ca02c"/>
<circle cx="387.71" cy="316.32" r="2.4" fill="#2ca02c"/>
<circle cx="388.78" cy="288.85" r="2.4" fill="#2ca02c"/>
<circle cx="386.63" cy="292.62" r="2.4" fill="#2ca02c"/>
<circle cx="378.01" cy="295.85" r="2.4" fill="#2ca02c"/>
<circle cx="381.78" cy="299.09" r="2.4" fill="#2ca02c"/>
<circle cx="394.71" cy="281.85" r="2.4" fill="#2ca02c"/>
<circle cx="394.17" cy="292.62" r="2.4" fill="#2ca02c"/>
<circle cx="394.71" cy="310.94" r="2.4" fill="#2ca02c"/>
<circle cx="393.09" cy="314.17" r="2.4" fill="#2ca02c"/>
<circle cx="395.79" cy="320.63" r="2.4" fill="#2ca02c"/>
<circle cx="362.39" cy="328.17" r="2.4" fill="#2ca02c"/>
<circle cx="370.47" cy="327.09" r="2.4" fill="#2ca02c"/>
<circle cx="343.81" cy="321.56" r="2.4" fill="#2ca02c"/>
<circle cx="337.56" cy="332.50" r="2.4" fill="#2ca02c"/>
<circle cx="339.12" cy="339.27" r="2.4" fill="#2ca02c"/>
<circle cx="359.44" cy="320.00" r="2.4" fill="#2ca02c"/>
<circle cx="362.04" cy="327.81" r="2.4" fill="#2ca02c"/>
<circle cx="361.00" cy="331.98" r="2.4" fill="#2ca02c"/>
<circle cx="370.38" cy="323.12" r="2.4" fill="#2ca02c"/>
<circle cx="370.90" cy="327.81" r="2.4" fill="#2ca02c"/>
<circle cx="374.54" cy="331.46" r="2.4" fill="#2ca02c"/>
<circle cx="378.19" cy="321.56" r="2.4" fill="#2ca02c"/>
<circle cx="380.27" cy="331.98" r="2.4" fill="#2ca02c"/>
<circle cx="381.83" cy="333.02" r="2.4" fill="#2ca02c"/>
<circle cx="372.46" cy="320.00" r="2.4" fill="#2ca02c"/>
<circle cx="396.31" cy="281.93" r="2.4" fill="#2ca02c"/>
<circle cx="405.47" cy="284.08" r="2.4" fill="#2ca02c"/>
<circle cx="409.24" cy="288.93" r="2.4" fill="#2ca02c"/>
<circle cx="394.69" cy="292.70" r="2.4" fill="#2ca02c"/>
<circle cx="423.24" cy="284.08" r="2.4" fill="#2ca02c"/>
<circle cx="434.01" cy="279.24" r="2.4" fill="#2ca02c"/>
<circle cx="439.40" cy="282.47" r="2.4" fill="#2ca02c"/>
<circle cx="442.09" cy="284.62" r="2.4" fill="#2ca02c"/>
<circle cx="431.86" cy="286.78" r="2.4" fill="#2ca02c"/>
<circle cx="425.39" cy="290.55" r="2.4" fill="#2ca02c"/>
<circle cx="420.55" cy="292.70" r="2.4" fill="#2ca02c"/>
<circle cx="417.85" cy="295.93" r="2.4" fill="#2ca02c"/>
<circle cx="404.93" cy="296.47" r="2.4" fill="#2ca02c"/>
<circle cx="401.16" cy="299.16" r="2.4" fill="#2ca02c"/>
<circle cx="411.39" cy="299.16" r="2.4" fill="#2ca02c"/>
<circle cx="413.54" cy="298.09" r="2.4" fill="#2ca02c"/>
<circle cx="424.32" cy="299.16" r="2.4" fill="#2ca02c"/>
<circle cx="427.55" cy="299.70" r="2.4" fill="#2ca02c"/>
<circle cx="431.86" cy="294.32" r="2.4" fill="#2ca02c"/>
<circle cx="435.09" cy="291.62" r="2.4" fill="#2ca02c"/>
<circle cx="439.40" cy="290.01" r="2.4" fill="#2ca02c"/>
<circle cx="442.09" cy="292.70" r="2.4" fill="#2ca02c"/>
<circle cx="437.24" cy="301.86" r="2.4" fill="#2ca02c"/>
<circle cx="416.78" cy="305.09" r="2.4" fill="#2ca02c"/>
<circle cx="415.70" cy="302.94" r="2.4" fill="#2ca02c"/>
<circle cx="418.93" cy="304.01" r="2.4" fill="#2ca02c"/>
<circle cx="397.39" cy="305.09" r="2.4" fill="#2ca02c"/>
<circle cx="399.54" cy="307.24" r="2.4" fill="#2ca02c"/>
<circle cx="402.77" cy="304.01" r="2.4" fill="#2ca02c"/>
<circle cx="394.15" cy="311.55" r="2.4" fill="#2ca02c"/>
<circle cx="393.08" cy="314.78" r="2.4" fill="#2ca02c"/>
<circle cx="402.23" cy="312.09" r="2.4" fill="#2ca02c"/>
<circle cx="410.85" cy="311.55" r="2.4" fill="#2ca02c"/>
<circle cx="413.54" cy="312.63" r="2.4" fill="#2ca02c"/>
<circle cx="417.85" cy="311.55" r="2.4" fill="#2ca02c"/>
<circle cx="420.55" cy="309.94" r="2.4" fill="#2ca02c"/>
<circle cx="418.39" cy="314.78" r="2.4" fill="#2ca02c"/>
<circle cx="413.01" cy="317.48" r="2.4" fill="#2ca02c"/>
<circle cx="417.85" cy="319.09" r="2.4" fill="#2ca02c"/>
<circle cx="424.32" cy="315.86" r="2.4" fill="#2ca02c"/>
<circle cx="427.55" cy="313.71" r="2.4" fill="#2ca02c"/>
<circle cx="429.70" cy="309.94" r="2.4" fill="#2ca02c"/>
<circle cx="429.70" cy="313.71" r="2.4" fill="#2ca02c"/>
<circle cx="435.09" cy="307.78" r="2.4" fill="#2ca02c"/>
<circle cx="436.17" cy="312.09" r="2.4" fill="#2ca02c"/>
<circle cx="396.85" cy="320.71" r="2.4" fill="#2ca02c"/>
<circle cx="397.39" cy="321.23" r="2.4" fill="#2ca02c"/>
<circle cx="413.01" cy="318.00" r="2.4" fill="#2ca02c"/>
<circle cx="417.85" cy="319.29" r="2.4" fill="#2ca02c"/>
<circle cx="413.54" cy="324.68" r="2.4" fill="#2ca02c"/>
<circle cx="405.47" cy="332.54" r="2.4" fill="#2ca02c"/>
<line x1="283.9" y1="334.3" x2="444.0" y2="295.8" stroke="#1f77b4" stroke-width="2.2" stroke-linecap="butt"/>
</g>
<text x="364.00" y="401.94" font-size="8.5" text-anchor="middle" font-weight="normal" fill="#1a1a1a" style="color:#1a1a1a">Subnetwork A activity</text>
<text x="242.04" y="321.20" font-size="8.5" text-anchor="middle" font-weight="normal" fill="#1a1a1a" transform="rotate(-90 242.043 321.2)" style="color:#1a1a1a">Strength of FP-DM connection</text>
<rect x="275.8" y="416.9" width="176.40" height="114.00" fill="#ececec"/>
<line x1="275.8" x2="452.2" y1="525.30" y2="525.30" stroke="#fff" stroke-width="1.35"/>
<line x1="275.8" x2="452.2" y1="505.60" y2="505.60" stroke="#fff" stroke-width="1.35"/>
<line x1="275.8" x2="452.2" y1="485.90" y2="485.90" stroke="#fff" stroke-width="1.35"/>
<line x1="275.8" x2="452.2" y1="466.20" y2="466.20" stroke="#fff" stroke-width="1.35"/>
<line x1="275.8" x2="452.2" y1="446.50" y2="446.50" stroke="#fff" stroke-width="1.35"/>
<line x1="275.8" x2="452.2" y1="426.80" y2="426.80" stroke="#fff" stroke-width="1.35"/>
<line y1="416.9" y2="530.9" x1="282.10" x2="282.10" stroke="#fff" stroke-width="1.35"/>
<line y1="416.9" y2="530.9" x1="318.55" x2="318.55" stroke="#fff" stroke-width="1.35"/>
<line y1="416.9" y2="530.9" x1="355.00" x2="355.00" stroke="#fff" stroke-width="1.35"/>
<line y1="416.9" y2="530.9" x1="391.45" x2="391.45" stroke="#fff" stroke-width="1.35"/>
<line y1="416.9" y2="530.9" x1="427.90" x2="427.90" stroke="#fff" stroke-width="1.35"/>
<text x="271.70" y="429.84" font-size="8.5" text-anchor="end" font-weight="normal" fill="#1a1a1a" style="color:#1a1a1a">0.08</text>
<text x="271.70" y="449.54" font-size="8.5" text-anchor="end" font-weight="normal" fill="#1a1a1a" style="color:#1a1a1a">0.06</text>
<text x="271.70" y="469.24" font-size="8.5" text-anchor="end" font-weight="normal" fill="#1a1a1a" style="color:#1a1a1a">0.04</text>
<text x="271.70" y="488.94" font-size="8.5" text-anchor="end" font-weight="normal" fill="#1a1a1a" style="color:#1a1a1a">0.02</text>
<text x="271.70" y="508.64" font-size="8.5" text-anchor="end" font-weight="normal" fill="#1a1a1a" style="color:#1a1a1a">0</text>
<text x="271.70" y="528.34" font-size="8.5" text-anchor="end" font-weight="normal" fill="#1a1a1a" style="color:#1a1a1a">−0.02</text>
<text x="282.10" y="541.74" font-size="8.5" text-anchor="middle" font-weight="normal" fill="#1a1a1a" style="color:#1a1a1a">0</text>
<text x="318.55" y="541.74" font-size="8.5" text-anchor="middle" font-weight="normal" fill="#1a1a1a" style="color:#1a1a1a">2</text>
<text x="355.00" y="541.74" font-size="8.5" text-anchor="middle" font-weight="normal" fill="#1a1a1a" style="color:#1a1a1a">4</text>
<text x="391.45" y="541.74" font-size="8.5" text-anchor="middle" font-weight="normal" fill="#1a1a1a" style="color:#1a1a1a">6</text>
<text x="427.90" y="541.74" font-size="8.5" text-anchor="middle" font-weight="normal" fill="#1a1a1a" style="color:#1a1a1a">8</text>
<clipPath id="cl857"><rect x="275.8" y="416.9" width="176.39999999999998" height="114.0"/></clipPath>
<g clip-path="url(#cl857)">
<rect x="286.39" y="433.39" width="4.0" height="4.0" rx="0.9" fill="#ff7f0e"/>
<rect x="304.16" y="448.25" width="4.0" height="4.0" rx="0.9" fill="#ff7f0e"/>
<rect x="291.24" y="452.99" width="4.0" height="4.0" rx="0.9" fill="#ff7f0e"/>
<rect x="295.01" y="450.84" width="4.0" height="4.0" rx="0.9" fill="#ff7f0e"/>
<rect x="295.54" y="453.85" width="4.0" height="4.0" rx="0.9" fill="#ff7f0e"/>
<rect x="282.62" y="457.30" width="4.0" height="4.0" rx="0.9" fill="#ff7f0e"/>
<rect x="285.31" y="457.09" width="4.0" height="4.0" rx="0.9" fill="#ff7f0e"/>
<rect x="289.08" y="459.78" width="4.0" height="4.0" rx="0.9" fill="#ff7f0e"/>
<rect x="295.01" y="459.24" width="4.0" height="4.0" rx="0.9" fill="#ff7f0e"/>
<rect x="283.16" y="462.26" width="4.0" height="4.0" rx="0.9" fill="#ff7f0e"/>
<rect x="284.77" y="461.93" width="4.0" height="4.0" rx="0.9" fill="#ff7f0e"/>
<rect x="295.54" y="463.55" width="4.0" height="4.0" rx="0.9" fill="#ff7f0e"/>
<rect x="298.78" y="461.93" width="4.0" height="4.0" rx="0.9" fill="#ff7f0e"/>
<rect x="299.85" y="464.09" width="4.0" height="4.0" rx="0.9" fill="#ff7f0e"/>
<rect x="303.09" y="464.63" width="4.0" height="4.0" rx="0.9" fill="#ff7f0e"/>
<rect x="307.39" y="466.78" width="4.0" height="4.0" rx="0.9" fill="#ff7f0e"/>
<rect x="312.24" y="467.86" width="4.0" height="4.0" rx="0.9" fill="#ff7f0e"/>
<rect x="317.63" y="467.86" width="4.0" height="4.0" rx="0.9" fill="#ff7f0e"/>
<rect x="285.85" y="469.47" width="4.0" height="4.0" rx="0.9" fill="#ff7f0e"/>
<rect x="290.16" y="470.01" width="4.0" height="4.0" rx="0.9" fill="#ff7f0e"/>
<rect x="292.85" y="470.01" width="4.0" height="4.0" rx="0.9" fill="#ff7f0e"/>
<rect x="289.62" y="474.32" width="4.0" height="4.0" rx="0.9" fill="#ff7f0e"/>
<rect x="284.77" y="478.85" width="4.0" height="4.0" rx="0.9" fill="#ff7f0e"/>
<rect x="297.16" y="484.02" width="4.0" height="4.0" rx="0.9" fill="#ff7f0e"/>
<rect x="307.93" y="475.94" width="4.0" height="4.0" rx="0.9" fill="#ff7f0e"/>
<rect x="314.94" y="453.85" width="4.0" height="4.0" rx="0.9" fill="#ff7f0e"/>
<rect x="317.09" y="455.47" width="4.0" height="4.0" rx="0.9" fill="#ff7f0e"/>
<rect x="330.02" y="456.01" width="4.0" height="4.0" rx="0.9" fill="#ff7f0e"/>
<rect x="319.78" y="460.32" width="4.0" height="4.0" rx="0.9" fill="#ff7f0e"/>
<rect x="321.94" y="464.09" width="4.0" height="4.0" rx="0.9" fill="#ff7f0e"/>
<rect x="324.63" y="465.16" width="4.0" height="4.0" rx="0.9" fill="#ff7f0e"/>
<rect x="326.78" y="468.40" width="4.0" height="4.0" rx="0.9" fill="#ff7f0e"/>
<rect x="324.63" y="471.09" width="4.0" height="4.0" rx="0.9" fill="#ff7f0e"/>
<rect x="323.55" y="475.94" width="4.0" height="4.0" rx="0.9" fill="#ff7f0e"/>
<rect x="326.78" y="478.63" width="4.0" height="4.0" rx="0.9" fill="#ff7f0e"/>
<rect x="330.02" y="478.63" width="4.0" height="4.0" rx="0.9" fill="#ff7f0e"/>
<rect x="323.55" y="481.32" width="4.0" height="4.0" rx="0.9" fill="#ff7f0e"/>
<rect x="318.71" y="483.48" width="4.0" height="4.0" rx="0.9" fill="#ff7f0e"/>
<rect x="281.54" y="487.25" width="4.0" height="4.0" rx="0.9" fill="#ff7f0e"/>
<rect x="326.78" y="486.71" width="4.0" height="4.0" rx="0.9" fill="#ff7f0e"/>
<rect x="332.17" y="485.09" width="4.0" height="4.0" rx="0.9" fill="#ff7f0e"/>
<rect x="285.01" y="479.12" width="4.0" height="4.0" rx="0.9" fill="#ff7f0e"/>
<rect x="297.32" y="484.06" width="4.0" height="4.0" rx="0.9" fill="#ff7f0e"/>
<rect x="281.93" y="488.07" width="4.0" height="4.0" rx="0.9" fill="#ff7f0e"/>
<rect x="296.85" y="500.85" width="4.0" height="4.0" rx="0.9" fill="#ff7f0e"/>
<rect x="313.37" y="504.31" width="4.0" height="4.0" rx="0.9" fill="#ff7f0e"/>
<rect x="318.78" y="483.78" width="4.0" height="4.0" rx="0.9" fill="#ff7f0e"/>
<rect x="323.44" y="481.73" width="4.0" height="4.0" rx="0.9" fill="#ff7f0e"/>
<rect x="326.24" y="478.93" width="4.0" height="4.0" rx="0.9" fill="#ff7f0e"/>
<rect x="329.97" y="478.93" width="4.0" height="4.0" rx="0.9" fill="#ff7f0e"/>
<rect x="327.17" y="487.79" width="4.0" height="4.0" rx="0.9" fill="#ff7f0e"/>
<rect x="321.57" y="490.13" width="4.0" height="4.0" rx="0.9" fill="#ff7f0e"/>
<rect x="323.44" y="492.46" width="4.0" height="4.0" rx="0.9" fill="#ff7f0e"/>
<rect x="331.84" y="485.93" width="4.0" height="4.0" rx="0.9" fill="#ff7f0e"/>
<rect x="332.77" y="490.13" width="4.0" height="4.0" rx="0.9" fill="#ff7f0e"/>
<rect x="333.24" y="495.72" width="4.0" height="4.0" rx="0.9" fill="#ff7f0e"/>
<rect x="345.94" y="449.18" width="4.0" height="4.0" rx="0.9" fill="#ff7f0e"/>
<rect x="359.62" y="452.95" width="4.0" height="4.0" rx="0.9" fill="#ff7f0e"/>
<rect x="330.54" y="455.86" width="4.0" height="4.0" rx="0.9" fill="#ff7f0e"/>
<rect x="347.77" y="460.92" width="4.0" height="4.0" rx="0.9" fill="#ff7f0e"/>
<rect x="359.09" y="460.92" width="4.0" height="4.0" rx="0.9" fill="#ff7f0e"/>
<rect x="341.31" y="464.47" width="4.0" height="4.0" rx="0.9" fill="#ff7f0e"/>
<rect x="346.70" y="465.01" width="4.0" height="4.0" rx="0.9" fill="#ff7f0e"/>
<rect x="351.54" y="465.01" width="4.0" height="4.0" rx="0.9" fill="#ff7f0e"/>
<rect x="354.78" y="465.01" width="4.0" height="4.0" rx="0.9" fill="#ff7f0e"/>
<rect x="341.85" y="468.24" width="4.0" height="4.0" rx="0.9" fill="#ff7f0e"/>
<rect x="359.62" y="467.17" width="4.0" height="4.0" rx="0.9" fill="#ff7f0e"/>
<rect x="372.01" y="466.63" width="4.0" height="4.0" rx="0.9" fill="#ff7f0e"/>
<rect x="382.78" y="468.78" width="4.0" height="4.0" rx="0.9" fill="#ff7f0e"/>
<rect x="385.48" y="465.55" width="4.0" height="4.0" rx="0.9" fill="#ff7f0e"/>
<rect x="342.93" y="471.48" width="4.0" height="4.0" rx="0.9" fill="#ff7f0e"/>
<rect x="346.16" y="473.63" width="4.0" height="4.0" rx="0.9" fill="#ff7f0e"/>
<rect x="337.54" y="473.63" width="4.0" height="4.0" rx="0.9" fill="#ff7f0e"/>
<rect x="352.08" y="473.63" width="4.0" height="4.0" rx="0.9" fill="#ff7f0e"/>
<rect x="355.85" y="472.55" width="4.0" height="4.0" rx="0.9" fill="#ff7f0e"/>
<rect x="361.78" y="471.69" width="4.0" height="4.0" rx="0.9" fill="#ff7f0e"/>
<rect x="369.86" y="473.85" width="4.0" height="4.0" rx="0.9" fill="#ff7f0e"/>
<rect x="387.09" y="475.78" width="4.0" height="4.0" rx="0.9" fill="#ff7f0e"/>
<rect x="331.08" y="478.48" width="4.0" height="4.0" rx="0.9" fill="#ff7f0e"/>
<rect x="336.46" y="476.86" width="4.0" height="4.0" rx="0.9" fill="#ff7f0e"/>
<rect x="341.85" y="479.02" width="4.0" height="4.0" rx="0.9" fill="#ff7f0e"/>
<rect x="334.85" y="481.71" width="4.0" height="4.0" rx="0.9" fill="#ff7f0e"/>
<rect x="340.77" y="481.71" width="4.0" height="4.0" rx="0.9" fill="#ff7f0e"/>
<rect x="351.54" y="480.09" width="4.0" height="4.0" rx="0.9" fill="#ff7f0e"/>
<rect x="370.94" y="480.09" width="4.0" height="4.0" rx="0.9" fill="#ff7f0e"/>
<rect x="381.71" y="481.71" width="4.0" height="4.0" rx="0.9" fill="#ff7f0e"/>
<rect x="331.02" y="478.12" width="4.0" height="4.0" rx="0.9" fill="#ff7f0e"/>
<rect x="334.61" y="481.19" width="4.0" height="4.0" rx="0.9" fill="#ff7f0e"/>
<rect x="341.26" y="481.19" width="4.0" height="4.0" rx="0.9" fill="#ff7f0e"/>
<rect x="343.31" y="480.17" width="4.0" height="4.0" rx="0.9" fill="#ff7f0e"/>
<rect x="345.36" y="474.02" width="4.0" height="4.0" rx="0.9" fill="#ff7f0e"/>
<rect x="352.01" y="481.70" width="4.0" height="4.0" rx="0.9" fill="#ff7f0e"/>
<rect x="352.52" y="474.02" width="4.0" height="4.0" rx="0.9" fill="#ff7f0e"/>
<rect x="369.93" y="474.02" width="4.0" height="4.0" rx="0.9" fill="#ff7f0e"/>
<rect x="386.82" y="475.56" width="4.0" height="4.0" rx="0.9" fill="#ff7f0e"/>
<rect x="332.05" y="486.31" width="4.0" height="4.0" rx="0.9" fill="#ff7f0e"/>
<rect x="333.58" y="489.89" width="4.0" height="4.0" rx="0.9" fill="#ff7f0e"/>
<rect x="336.14" y="489.89" width="4.0" height="4.0" rx="0.9" fill="#ff7f0e"/>
<rect x="334.10" y="496.04" width="4.0" height="4.0" rx="0.9" fill="#ff7f0e"/>
<rect x="348.94" y="499.62" width="4.0" height="4.0" rx="0.9" fill="#ff7f0e"/>
<rect x="355.60" y="493.99" width="4.0" height="4.0" rx="0.9" fill="#ff7f0e"/>
<rect x="357.64" y="484.26" width="4.0" height="4.0" rx="0.9" fill="#ff7f0e"/>
<rect x="358.16" y="487.33" width="4.0" height="4.0" rx="0.9" fill="#ff7f0e"/>
<rect x="359.69" y="483.24" width="4.0" height="4.0" rx="0.9" fill="#ff7f0e"/>
<rect x="362.76" y="484.26" width="4.0" height="4.0" rx="0.9" fill="#ff7f0e"/>
<rect x="362.76" y="490.92" width="4.0" height="4.0" rx="0.9" fill="#ff7f0e"/>
<rect x="363.79" y="500.44" width="4.0" height="4.0" rx="0.9" fill="#ff7f0e"/>
<rect x="366.86" y="506.28" width="4.0" height="4.0" rx="0.9" fill="#ff7f0e"/>
<rect x="368.91" y="487.33" width="4.0" height="4.0" rx="0.9" fill="#ff7f0e"/>
<rect x="370.95" y="486.31" width="4.0" height="4.0" rx="0.9" fill="#ff7f0e"/>
<rect x="375.05" y="486.82" width="4.0" height="4.0" rx="0.9" fill="#ff7f0e"/>
<rect x="377.10" y="488.36" width="4.0" height="4.0" rx="0.9" fill="#ff7f0e"/>
<rect x="369.93" y="491.43" width="4.0" height="4.0" rx="0.9" fill="#ff7f0e"/>
<rect x="375.05" y="491.94" width="4.0" height="4.0" rx="0.9" fill="#ff7f0e"/>
<rect x="378.12" y="496.04" width="4.0" height="4.0" rx="0.9" fill="#ff7f0e"/>
<rect x="381.19" y="498.08" width="4.0" height="4.0" rx="0.9" fill="#ff7f0e"/>
<rect x="377.61" y="499.62" width="4.0" height="4.0" rx="0.9" fill="#ff7f0e"/>
<rect x="380.17" y="502.69" width="4.0" height="4.0" rx="0.9" fill="#ff7f0e"/>
<rect x="378.63" y="508.83" width="4.0" height="4.0" rx="0.9" fill="#ff7f0e"/>
<rect x="383.24" y="486.82" width="4.0" height="4.0" rx="0.9" fill="#ff7f0e"/>
<rect x="383.75" y="482.21" width="4.0" height="4.0" rx="0.9" fill="#ff7f0e"/>
<rect x="388.36" y="490.92" width="4.0" height="4.0" rx="0.9" fill="#ff7f0e"/>
<rect x="388.36" y="496.04" width="4.0" height="4.0" rx="0.9" fill="#ff7f0e"/>
<rect x="388.87" y="502.18" width="4.0" height="4.0" rx="0.9" fill="#ff7f0e"/>
<rect x="394.46" y="471.28" width="4.0" height="4.0" rx="0.9" fill="#ff7f0e"/>
<rect x="406.30" y="471.28" width="4.0" height="4.0" rx="0.9" fill="#ff7f0e"/>
<rect x="409.53" y="471.28" width="4.0" height="4.0" rx="0.9" fill="#ff7f0e"/>
<rect x="411.68" y="471.28" width="4.0" height="4.0" rx="0.9" fill="#ff7f0e"/>
<rect x="414.91" y="467.52" width="4.0" height="4.0" rx="0.9" fill="#ff7f0e"/>
<rect x="416.53" y="469.45" width="4.0" height="4.0" rx="0.9" fill="#ff7f0e"/>
<rect x="404.68" y="475.05" width="4.0" height="4.0" rx="0.9" fill="#ff7f0e"/>
<rect x="398.76" y="477.74" width="4.0" height="4.0" rx="0.9" fill="#ff7f0e"/>
<rect x="427.83" y="476.67" width="4.0" height="4.0" rx="0.9" fill="#ff7f0e"/>
<rect x="436.98" y="477.20" width="4.0" height="4.0" rx="0.9" fill="#ff7f0e"/>
<rect x="441.82" y="477.74" width="4.0" height="4.0" rx="0.9" fill="#ff7f0e"/>
<rect x="388.00" y="475.59" width="4.0" height="4.0" rx="0.9" fill="#ff7f0e"/>
<rect x="387.15" y="475.77" width="4.0" height="4.0" rx="0.9" fill="#ff7f0e"/>
<rect x="394.04" y="471.17" width="4.0" height="4.0" rx="0.9" fill="#ff7f0e"/>
<rect x="404.96" y="475.19" width="4.0" height="4.0" rx="0.9" fill="#ff7f0e"/>
<rect x="406.11" y="471.17" width="4.0" height="4.0" rx="0.9" fill="#ff7f0e"/>
<rect x="408.98" y="471.17" width="4.0" height="4.0" rx="0.9" fill="#ff7f0e"/>
<rect x="411.85" y="471.17" width="4.0" height="4.0" rx="0.9" fill="#ff7f0e"/>
<rect x="414.73" y="467.72" width="4.0" height="4.0" rx="0.9" fill="#ff7f0e"/>
<rect x="416.45" y="468.87" width="4.0" height="4.0" rx="0.9" fill="#ff7f0e"/>
<rect x="398.64" y="478.06" width="4.0" height="4.0" rx="0.9" fill="#ff7f0e"/>
<rect x="392.32" y="482.66" width="4.0" height="4.0" rx="0.9" fill="#ff7f0e"/>
<rect x="397.49" y="484.38" width="4.0" height="4.0" rx="0.9" fill="#ff7f0e"/>
<rect x="400.94" y="482.09" width="4.0" height="4.0" rx="0.9" fill="#ff7f0e"/>
<rect x="403.24" y="481.51" width="4.0" height="4.0" rx="0.9" fill="#ff7f0e"/>
<rect x="405.53" y="480.94" width="4.0" height="4.0" rx="0.9" fill="#ff7f0e"/>
<rect x="407.26" y="483.81" width="4.0" height="4.0" rx="0.9" fill="#ff7f0e"/>
<rect x="413.58" y="486.68" width="4.0" height="4.0" rx="0.9" fill="#ff7f0e"/>
<rect x="416.45" y="486.68" width="4.0" height="4.0" rx="0.9" fill="#ff7f0e"/>
<rect x="419.32" y="486.68" width="4.0" height="4.0" rx="0.9" fill="#ff7f0e"/>
<rect x="421.62" y="480.36" width="4.0" height="4.0" rx="0.9" fill="#ff7f0e"/>
<rect x="422.77" y="482.66" width="4.0" height="4.0" rx="0.9" fill="#ff7f0e"/>
<rect x="423.92" y="487.26" width="4.0" height="4.0" rx="0.9" fill="#ff7f0e"/>
<rect x="427.94" y="476.92" width="4.0" height="4.0" rx="0.9" fill="#ff7f0e"/>
<rect x="429.66" y="480.36" width="4.0" height="4.0" rx="0.9" fill="#ff7f0e"/>
<rect x="427.37" y="482.66" width="4.0" height="4.0" rx="0.9" fill="#ff7f0e"/>
<rect x="429.09" y="488.98" width="4.0" height="4.0" rx="0.9" fill="#ff7f0e"/>
<rect x="431.96" y="487.26" width="4.0" height="4.0" rx="0.9" fill="#ff7f0e"/>
<rect x="436.56" y="477.49" width="4.0" height="4.0" rx="0.9" fill="#ff7f0e"/>
<rect x="441.73" y="478.64" width="4.0" height="4.0" rx="0.9" fill="#ff7f0e"/>
<rect x="436.56" y="483.81" width="4.0" height="4.0" rx="0.9" fill="#ff7f0e"/>
<rect x="440.00" y="483.81" width="4.0" height="4.0" rx="0.9" fill="#ff7f0e"/>
<rect x="438.28" y="490.13" width="4.0" height="4.0" rx="0.9" fill="#ff7f0e"/>
<rect x="389.45" y="490.70" width="4.0" height="4.0" rx="0.9" fill="#ff7f0e"/>
<rect x="395.19" y="489.56" width="4.0" height="4.0" rx="0.9" fill="#ff7f0e"/>
<rect x="401.51" y="492.20" width="4.0" height="4.0" rx="0.9" fill="#ff7f0e"/>
<rect x="388.30" y="495.87" width="4.0" height="4.0" rx="0.9" fill="#ff7f0e"/>
<rect x="392.32" y="496.45" width="4.0" height="4.0" rx="0.9" fill="#ff7f0e"/>
<rect x="398.64" y="498.75" width="4.0" height="4.0" rx="0.9" fill="#ff7f0e"/>
<rect x="388.87" y="502.19" width="4.0" height="4.0" rx="0.9" fill="#ff7f0e"/>
<rect x="406.11" y="499.90" width="4.0" height="4.0" rx="0.9" fill="#ff7f0e"/>
<rect x="407.83" y="497.60" width="4.0" height="4.0" rx="0.9" fill="#ff7f0e"/>
<rect x="405.53" y="503.92" width="4.0" height="4.0" rx="0.9" fill="#ff7f0e"/>
<rect x="406.68" y="510.24" width="4.0" height="4.0" rx="0.9" fill="#ff7f0e"/>
<rect x="411.28" y="507.94" width="4.0" height="4.0" rx="0.9" fill="#ff7f0e"/>
<rect x="414.15" y="506.22" width="4.0" height="4.0" rx="0.9" fill="#ff7f0e"/>
<rect x="416.45" y="503.92" width="4.0" height="4.0" rx="0.9" fill="#ff7f0e"/>
<rect x="415.30" y="502.77" width="4.0" height="4.0" rx="0.9" fill="#ff7f0e"/>
<rect x="418.17" y="499.32" width="4.0" height="4.0" rx="0.9" fill="#ff7f0e"/>
<rect x="419.90" y="494.73" width="4.0" height="4.0" rx="0.9" fill="#ff7f0e"/>
<rect x="423.92" y="499.90" width="4.0" height="4.0" rx="0.9" fill="#ff7f0e"/>
<rect x="426.22" y="500.47" width="4.0" height="4.0" rx="0.9" fill="#ff7f0e"/>
<rect x="422.77" y="508.51" width="4.0" height="4.0" rx="0.9" fill="#ff7f0e"/>
<rect x="424.49" y="507.37" width="4.0" height="4.0" rx="0.9" fill="#ff7f0e"/>
<rect x="429.09" y="505.64" width="4.0" height="4.0" rx="0.9" fill="#ff7f0e"/>
<rect x="433.11" y="502.77" width="4.0" height="4.0" rx="0.9" fill="#ff7f0e"/>
<rect x="433.11" y="497.02" width="4.0" height="4.0" rx="0.9" fill="#ff7f0e"/>
<rect x="440.58" y="498.75" width="4.0" height="4.0" rx="0.9" fill="#ff7f0e"/>
<rect x="414.73" y="491.85" width="4.0" height="4.0" rx="0.9" fill="#ff7f0e"/>
<rect x="427.37" y="494.15" width="4.0" height="4.0" rx="0.9" fill="#ff7f0e"/>
<line x1="282.8" y1="466.4" x2="445.0" y2="497.6" stroke="#1f77b4" stroke-width="2.6" stroke-linecap="butt"/>
</g>
<text x="364.00" y="555.24" font-size="8.5" text-anchor="middle" font-weight="normal" fill="#1a1a1a" style="color:#1a1a1a">Subnetwork B activity</text>
<text x="242.04" y="473.30" font-size="8.5" text-anchor="middle" font-weight="normal" fill="#1a1a1a" transform="rotate(-90 242.043 473.3)" style="color:#1a1a1a">Strength of FP-DM connection</text>
<text x="469.30" y="259.30" font-size="14" text-anchor="start" font-weight="bold" fill="#000" style="color:#000">e</text>
<text x="598.00" y="260.98" font-size="10" text-anchor="middle" font-weight="normal" fill="#1a1a1a" style="color:#1a1a1a">400 units</text>
<rect x="507.9" y="265.0" width="176.70" height="112.80" fill="#ececec"/>
<line x1="507.9" x2="684.6" y1="284.40" y2="284.40" stroke="#fff" stroke-width="1.35"/>
<line x1="507.9" x2="684.6" y1="305.50" y2="305.50" stroke="#fff" stroke-width="1.35"/>
<line x1="507.9" x2="684.6" y1="325.90" y2="325.90" stroke="#fff" stroke-width="1.35"/>
<line x1="507.9" x2="684.6" y1="346.90" y2="346.90" stroke="#fff" stroke-width="1.35"/>
<line x1="507.9" x2="684.6" y1="367.60" y2="367.60" stroke="#fff" stroke-width="1.35"/>
<line y1="265.0" y2="377.8" x1="512.20" x2="512.20" stroke="#fff" stroke-width="1.35"/>
<line y1="265.0" y2="377.8" x1="533.55" x2="533.55" stroke="#fff" stroke-width="1.35"/>
<line y1="265.0" y2="377.8" x1="554.90" x2="554.90" stroke="#fff" stroke-width="1.35"/>
<line y1="265.0" y2="377.8" x1="576.25" x2="576.25" stroke="#fff" stroke-width="1.35"/>
<line y1="265.0" y2="377.8" x1="597.60" x2="597.60" stroke="#fff" stroke-width="1.35"/>
<line y1="265.0" y2="377.8" x1="618.95" x2="618.95" stroke="#fff" stroke-width="1.35"/>
<line y1="265.0" y2="377.8" x1="640.30" x2="640.30" stroke="#fff" stroke-width="1.35"/>
<line y1="265.0" y2="377.8" x1="661.65" x2="661.65" stroke="#fff" stroke-width="1.35"/>
<line y1="265.0" y2="377.8" x1="683.00" x2="683.00" stroke="#fff" stroke-width="1.35"/>
<text x="504.60" y="277.04" font-size="8.5" text-anchor="end" font-weight="normal" fill="#1a1a1a" style="color:#1a1a1a">4</text>
<text x="504.60" y="299.87" font-size="8.5" text-anchor="end" font-weight="normal" fill="#1a1a1a" style="color:#1a1a1a">2</text>
<text x="504.60" y="322.69" font-size="8.5" text-anchor="end" font-weight="normal" fill="#1a1a1a" style="color:#1a1a1a">0</text>
<text x="504.60" y="345.52" font-size="8.5" text-anchor="end" font-weight="normal" fill="#1a1a1a" style="color:#1a1a1a">−2</text>
<text x="504.60" y="368.34" font-size="8.5" text-anchor="end" font-weight="normal" fill="#1a1a1a" style="color:#1a1a1a">−4</text>
<text x="512.20" y="389.14" font-size="8.5" text-anchor="middle" font-weight="normal" fill="#1a1a1a" style="color:#1a1a1a">0</text>
<text x="554.90" y="389.14" font-size="8.5" text-anchor="middle" font-weight="normal" fill="#1a1a1a" style="color:#1a1a1a">0.5</text>
<text x="597.60" y="389.14" font-size="8.5" text-anchor="middle" font-weight="normal" fill="#1a1a1a" style="color:#1a1a1a">1</text>
<text x="640.30" y="389.14" font-size="8.5" text-anchor="middle" font-weight="normal" fill="#1a1a1a" style="color:#1a1a1a">1.5</text>
<text x="683.00" y="389.14" font-size="8.5" text-anchor="middle" font-weight="normal" fill="#1a1a1a" style="color:#1a1a1a">2</text>
<clipPath id="cl1084"><rect x="507.9" y="265.0" width="176.70000000000005" height="112.80000000000001"/></clipPath>
<g clip-path="url(#cl1084)">
<rect x="515.04" y="324.16" width="4.0" height="4.0" rx="0.9" fill="#2ca02c"/>
<rect x="514.47" y="331.28" width="4.0" height="4.0" rx="0.9" fill="#2ca02c"/>
<rect x="523.58" y="319.89" width="4.0" height="4.0" rx="0.9" fill="#2ca02c"/>
<rect x="527.00" y="320.75" width="4.0" height="4.0" rx="0.9" fill="#2ca02c"/>
<rect x="522.16" y="330.43" width="4.0" height="4.0" rx="0.9" fill="#2ca02c"/>
<rect x="524.15" y="333.27" width="4.0" height="4.0" rx="0.9" fill="#2ca02c"/>
<rect x="536.96" y="299.11" width="4.0" height="4.0" rx="0.9" fill="#2ca02c"/>
<rect x="546.35" y="300.82" width="4.0" height="4.0" rx="0.9" fill="#2ca02c"/>
<rect x="547.78" y="311.92" width="4.0" height="4.0" rx="0.9" fill="#2ca02c"/>
<rect x="542.08" y="337.26" width="4.0" height="4.0" rx="0.9" fill="#2ca02c"/>
<rect x="562.01" y="317.05" width="4.0" height="4.0" rx="0.9" fill="#2ca02c"/>
<rect x="569.13" y="313.63" width="4.0" height="4.0" rx="0.9" fill="#2ca02c"/>
<rect x="571.12" y="311.07" width="4.0" height="4.0" rx="0.9" fill="#2ca02c"/>
<rect x="575.39" y="319.33" width="4.0" height="4.0" rx="0.9" fill="#2ca02c"/>
<rect x="579.94" y="311.92" width="4.0" height="4.0" rx="0.9" fill="#2ca02c"/>
<rect x="584.21" y="318.76" width="4.0" height="4.0" rx="0.9" fill="#2ca02c"/>
<rect x="587.06" y="309.65" width="4.0" height="4.0" rx="0.9" fill="#2ca02c"/>
<rect x="591.05" y="301.96" width="4.0" height="4.0" rx="0.9" fill="#2ca02c"/>
<rect x="596.17" y="303.10" width="4.0" height="4.0" rx="0.9" fill="#2ca02c"/>
<rect x="598.45" y="317.90" width="4.0" height="4.0" rx="0.9" fill="#2ca02c"/>
<rect x="601.01" y="316.76" width="4.0" height="4.0" rx="0.9" fill="#2ca02c"/>
<rect x="608.98" y="308.51" width="4.0" height="4.0" rx="0.9" fill="#2ca02c"/>
<rect x="613.25" y="307.94" width="4.0" height="4.0" rx="0.9" fill="#2ca02c"/>
<rect x="613.82" y="288.30" width="4.0" height="4.0" rx="0.9" fill="#2ca02c"/>
<rect x="616.10" y="319.33" width="4.0" height="4.0" rx="0.9" fill="#2ca02c"/>
<rect x="626.91" y="318.19" width="4.0" height="4.0" rx="0.9" fill="#2ca02c"/>
<rect x="642.57" y="303.10" width="4.0" height="4.0" rx="0.9" fill="#2ca02c"/>
<rect x="645.98" y="309.65" width="4.0" height="4.0" rx="0.9" fill="#2ca02c"/>
<rect x="669.33" y="315.62" width="4.0" height="4.0" rx="0.9" fill="#2ca02c"/>
<rect x="673.88" y="310.79" width="4.0" height="4.0" rx="0.9" fill="#2ca02c"/>
<line x1="515.6" y1="323.3" x2="676.5" y2="306.2" stroke="#1f77b4" stroke-width="2.0" stroke-linecap="butt"/>
</g>
<text x="596.00" y="402.04" font-size="8.5" text-anchor="middle" font-weight="normal" fill="#1a1a1a" style="color:#1a1a1a">Subnetwork A activity</text>
<text x="476.34" y="320.50" font-size="8.5" text-anchor="middle" font-weight="normal" fill="#1a1a1a" transform="rotate(-90 476.343 320.5)" style="color:#1a1a1a">Strength of FP-DM connection</text>
<text x="483.50" y="385.80" font-size="8.5" text-anchor="start" font-weight="normal" fill="#1a1a1a" style="color:#1a1a1a">×10<tspan dy="-3" font-size="6">−4</tspan></text>
<rect x="507.8" y="416.6" width="176.80" height="114.20" fill="#ececec"/>
<line x1="507.8" x2="684.6" y1="428.10" y2="428.10" stroke="#fff" stroke-width="1.35"/>
<line x1="507.8" x2="684.6" y1="451.02" y2="451.02" stroke="#fff" stroke-width="1.35"/>
<line x1="507.8" x2="684.6" y1="473.95" y2="473.95" stroke="#fff" stroke-width="1.35"/>
<line x1="507.8" x2="684.6" y1="496.88" y2="496.88" stroke="#fff" stroke-width="1.35"/>
<line x1="507.8" x2="684.6" y1="519.80" y2="519.80" stroke="#fff" stroke-width="1.35"/>
<line y1="416.6" y2="530.8" x1="516.50" x2="516.50" stroke="#fff" stroke-width="1.35"/>
<line y1="416.6" y2="530.8" x1="536.50" x2="536.50" stroke="#fff" stroke-width="1.35"/>
<line y1="416.6" y2="530.8" x1="556.50" x2="556.50" stroke="#fff" stroke-width="1.35"/>
<line y1="416.6" y2="530.8" x1="576.50" x2="576.50" stroke="#fff" stroke-width="1.35"/>
<line y1="416.6" y2="530.8" x1="596.50" x2="596.50" stroke="#fff" stroke-width="1.35"/>
<line y1="416.6" y2="530.8" x1="616.50" x2="616.50" stroke="#fff" stroke-width="1.35"/>
<line y1="416.6" y2="530.8" x1="636.50" x2="636.50" stroke="#fff" stroke-width="1.35"/>
<line y1="416.6" y2="530.8" x1="656.50" x2="656.50" stroke="#fff" stroke-width="1.35"/>
<line y1="416.6" y2="530.8" x1="676.50" x2="676.50" stroke="#fff" stroke-width="1.35"/>
<text x="504.60" y="431.14" font-size="8.5" text-anchor="end" font-weight="normal" fill="#1a1a1a" style="color:#1a1a1a">4</text>
<text x="504.60" y="454.07" font-size="8.5" text-anchor="end" font-weight="normal" fill="#1a1a1a" style="color:#1a1a1a">2</text>
<text x="504.60" y="476.99" font-size="8.5" text-anchor="end" font-weight="normal" fill="#1a1a1a" style="color:#1a1a1a">0</text>
<text x="504.60" y="499.92" font-size="8.5" text-anchor="end" font-weight="normal" fill="#1a1a1a" style="color:#1a1a1a">−2</text>
<text x="504.60" y="522.84" font-size="8.5" text-anchor="end" font-weight="normal" fill="#1a1a1a" style="color:#1a1a1a">−4</text>
<text x="516.50" y="541.74" font-size="8.5" text-anchor="middle" font-weight="normal" fill="#1a1a1a" style="color:#1a1a1a">0</text>
<text x="556.50" y="541.74" font-size="8.5" text-anchor="middle" font-weight="normal" fill="#1a1a1a" style="color:#1a1a1a">0.5</text>
<text x="596.50" y="541.74" font-size="8.5" text-anchor="middle" font-weight="normal" fill="#1a1a1a" style="color:#1a1a1a">1</text>
<text x="636.50" y="541.74" font-size="8.5" text-anchor="middle" font-weight="normal" fill="#1a1a1a" style="color:#1a1a1a">1.5</text>
<text x="676.50" y="541.74" font-size="8.5" text-anchor="middle" font-weight="normal" fill="#1a1a1a" style="color:#1a1a1a">2</text>
<clipPath id="cl1146"><rect x="507.8" y="416.6" width="176.8" height="114.19999999999993"/></clipPath>
<g clip-path="url(#cl1146)">
<rect x="514.47" y="451.27" width="4.0" height="4.0" rx="0.9" fill="#ff7f0e"/>
<rect x="518.74" y="452.41" width="4.0" height="4.0" rx="0.9" fill="#ff7f0e"/>
<rect x="520.17" y="427.07" width="4.0" height="4.0" rx="0.9" fill="#ff7f0e"/>
<rect x="522.16" y="422.52" width="4.0" height="4.0" rx="0.9" fill="#ff7f0e"/>
<rect x="527.85" y="458.38" width="4.0" height="4.0" rx="0.9" fill="#ff7f0e"/>
<rect x="530.41" y="447.85" width="4.0" height="4.0" rx="0.9" fill="#ff7f0e"/>
<rect x="535.82" y="483.72" width="4.0" height="4.0" rx="0.9" fill="#ff7f0e"/>
<rect x="548.06" y="452.98" width="4.0" height="4.0" rx="0.9" fill="#ff7f0e"/>
<rect x="548.06" y="456.39" width="4.0" height="4.0" rx="0.9" fill="#ff7f0e"/>
<rect x="548.35" y="461.23" width="4.0" height="4.0" rx="0.9" fill="#ff7f0e"/>
<rect x="557.74" y="460.66" width="4.0" height="4.0" rx="0.9" fill="#ff7f0e"/>
<rect x="560.02" y="465.79" width="4.0" height="4.0" rx="0.9" fill="#ff7f0e"/>
<rect x="569.70" y="476.60" width="4.0" height="4.0" rx="0.9" fill="#ff7f0e"/>
<rect x="574.82" y="444.72" width="4.0" height="4.0" rx="0.9" fill="#ff7f0e"/>
<rect x="577.67" y="445.57" width="4.0" height="4.0" rx="0.9" fill="#ff7f0e"/>
<rect x="579.09" y="432.20" width="4.0" height="4.0" rx="0.9" fill="#ff7f0e"/>
<rect x="581.37" y="451.55" width="4.0" height="4.0" rx="0.9" fill="#ff7f0e"/>
<rect x="599.02" y="446.43" width="4.0" height="4.0" rx="0.9" fill="#ff7f0e"/>
<rect x="599.02" y="465.50" width="4.0" height="4.0" rx="0.9" fill="#ff7f0e"/>
<rect x="600.44" y="496.81" width="4.0" height="4.0" rx="0.9" fill="#ff7f0e"/>
<rect x="612.68" y="445.01" width="4.0" height="4.0" rx="0.9" fill="#ff7f0e"/>
<rect x="618.94" y="453.55" width="4.0" height="4.0" rx="0.9" fill="#ff7f0e"/>
<rect x="631.75" y="460.95" width="4.0" height="4.0" rx="0.9" fill="#ff7f0e"/>
<rect x="637.16" y="516.74" width="4.0" height="4.0" rx="0.9" fill="#ff7f0e"/>
<rect x="643.99" y="497.95" width="4.0" height="4.0" rx="0.9" fill="#ff7f0e"/>
<rect x="646.84" y="462.94" width="4.0" height="4.0" rx="0.9" fill="#ff7f0e"/>
<rect x="657.94" y="465.50" width="4.0" height="4.0" rx="0.9" fill="#ff7f0e"/>
<rect x="663.06" y="458.10" width="4.0" height="4.0" rx="0.9" fill="#ff7f0e"/>
<rect x="667.05" y="488.56" width="4.0" height="4.0" rx="0.9" fill="#ff7f0e"/>
<rect x="673.88" y="443.30" width="4.0" height="4.0" rx="0.9" fill="#ff7f0e"/>
<line x1="516.5" y1="449.9" x2="676.5" y2="476.3" stroke="#1f77b4" stroke-width="2.0" stroke-linecap="butt"/>
</g>
<text x="596.00" y="555.64" font-size="8.5" text-anchor="middle" font-weight="normal" fill="#1a1a1a" style="color:#1a1a1a">Subnetwork B activity</text>
<text x="476.34" y="474.00" font-size="8.5" text-anchor="middle" font-weight="normal" fill="#1a1a1a" transform="rotate(-90 476.343 474.0)" style="color:#1a1a1a">Strength of FP-DM connection</text>
<text x="483.50" y="538.30" font-size="8.5" text-anchor="start" font-weight="normal" fill="#1a1a1a" style="color:#1a1a1a">×10<tspan dy="-3" font-size="6">−4</tspan></text>
</svg>
</body></html>
